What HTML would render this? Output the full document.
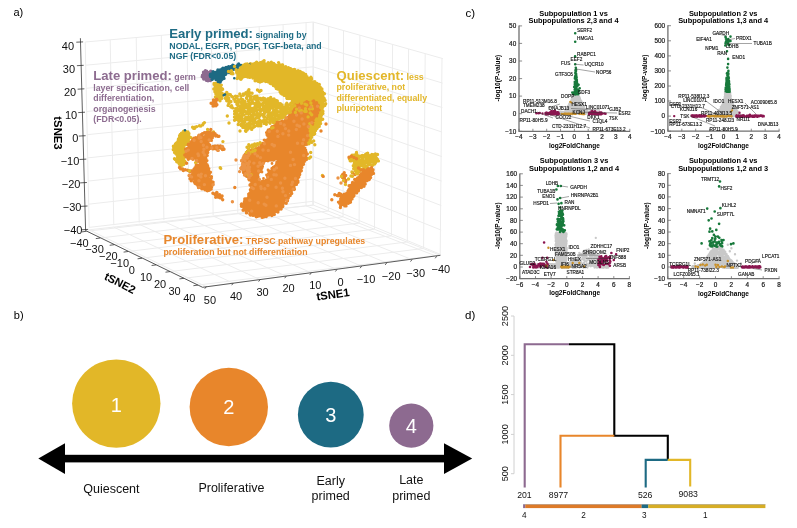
<!DOCTYPE html>
<html><head><meta charset="utf-8"><title>Figure</title><style>html,body{margin:0;padding:0;background:#fff;}body{width:797px;height:528px;overflow:hidden;font-family:"Liberation Sans",sans-serif;}svg{display:block;will-change:transform;}</style></head><body><svg width="797" height="528" viewBox="0 0 797 528" font-family="'Liberation Sans', sans-serif"><text x="13.5" y="16.3" font-size="11.00" fill="#000" text-anchor="start" font-weight="normal">a)</text>
<g>
<line x1="85.2" y1="42.0" x2="89.2" y2="227.7" stroke="#ececec" stroke-width="1.00"/>
<line x1="110.2" y1="39.8" x2="113.8" y2="225.2" stroke="#ececec" stroke-width="1.00"/>
<line x1="136.2" y1="37.5" x2="139.2" y2="222.6" stroke="#ececec" stroke-width="1.00"/>
<line x1="161.3" y1="35.3" x2="163.9" y2="220.1" stroke="#ececec" stroke-width="1.00"/>
<line x1="187.0" y1="33.1" x2="189.1" y2="217.6" stroke="#ececec" stroke-width="1.00"/>
<line x1="211.4" y1="30.9" x2="213.1" y2="215.1" stroke="#ececec" stroke-width="1.00"/>
<line x1="236.6" y1="28.7" x2="237.8" y2="212.6" stroke="#ececec" stroke-width="1.00"/>
<line x1="259.2" y1="26.7" x2="260.0" y2="210.4" stroke="#ececec" stroke-width="1.00"/>
<line x1="283.1" y1="24.6" x2="283.5" y2="208.0" stroke="#ececec" stroke-width="1.00"/>
<line x1="306.1" y1="22.6" x2="306.0" y2="205.7" stroke="#ececec" stroke-width="1.00"/>
<line x1="313.0" y1="22.0" x2="312.8" y2="205.0" stroke="#ececec" stroke-width="1.00"/>
<line x1="85.2" y1="42.0" x2="313.2" y2="22.0" stroke="#ececec" stroke-width="1.00"/>
<line x1="85.7" y1="65.2" x2="313.2" y2="44.4" stroke="#ececec" stroke-width="1.00"/>
<line x1="86.2" y1="88.3" x2="313.1" y2="66.8" stroke="#ececec" stroke-width="1.00"/>
<line x1="86.7" y1="111.5" x2="313.1" y2="89.2" stroke="#ececec" stroke-width="1.00"/>
<line x1="87.2" y1="134.7" x2="313.1" y2="111.7" stroke="#ececec" stroke-width="1.00"/>
<line x1="87.6" y1="157.9" x2="313.1" y2="134.1" stroke="#ececec" stroke-width="1.00"/>
<line x1="88.1" y1="181.1" x2="313.1" y2="156.5" stroke="#ececec" stroke-width="1.00"/>
<line x1="88.6" y1="204.2" x2="313.0" y2="178.9" stroke="#ececec" stroke-width="1.00"/>
<line x1="89.1" y1="227.4" x2="313.0" y2="201.3" stroke="#ececec" stroke-width="1.00"/>
<line x1="313.5" y1="22.1" x2="313.3" y2="205.2" stroke="#ececec" stroke-width="1.00"/>
<line x1="328.7" y1="26.4" x2="328.3" y2="211.1" stroke="#ececec" stroke-width="1.00"/>
<line x1="343.5" y1="30.6" x2="343.0" y2="216.8" stroke="#ececec" stroke-width="1.00"/>
<line x1="359.9" y1="35.2" x2="359.1" y2="223.1" stroke="#ececec" stroke-width="1.00"/>
<line x1="375.5" y1="39.6" x2="374.5" y2="229.1" stroke="#ececec" stroke-width="1.00"/>
<line x1="392.6" y1="44.4" x2="391.4" y2="235.7" stroke="#ececec" stroke-width="1.00"/>
<line x1="408.6" y1="49.0" x2="407.3" y2="241.8" stroke="#ececec" stroke-width="1.00"/>
<line x1="425.2" y1="53.6" x2="423.6" y2="248.2" stroke="#ececec" stroke-width="1.00"/>
<line x1="442.0" y1="58.4" x2="440.2" y2="254.7" stroke="#ececec" stroke-width="1.00"/>
<line x1="313.2" y1="22.0" x2="442.8" y2="58.6" stroke="#ececec" stroke-width="1.00"/>
<line x1="313.2" y1="44.4" x2="442.6" y2="83.1" stroke="#ececec" stroke-width="1.00"/>
<line x1="313.1" y1="66.8" x2="442.4" y2="107.6" stroke="#ececec" stroke-width="1.00"/>
<line x1="313.1" y1="89.2" x2="442.1" y2="132.1" stroke="#ececec" stroke-width="1.00"/>
<line x1="313.1" y1="111.7" x2="441.9" y2="156.6" stroke="#ececec" stroke-width="1.00"/>
<line x1="313.1" y1="134.1" x2="441.7" y2="181.1" stroke="#ececec" stroke-width="1.00"/>
<line x1="313.1" y1="156.5" x2="441.4" y2="205.6" stroke="#ececec" stroke-width="1.00"/>
<line x1="313.0" y1="178.9" x2="441.2" y2="230.1" stroke="#ececec" stroke-width="1.00"/>
<line x1="313.0" y1="201.3" x2="441.0" y2="254.6" stroke="#ececec" stroke-width="1.00"/>
<line x1="86.3" y1="231.3" x2="313.3" y2="205.1" stroke="#ececec" stroke-width="1.00"/>
<line x1="100.2" y1="238.0" x2="328.2" y2="211.0" stroke="#ececec" stroke-width="1.00"/>
<line x1="114.2" y1="244.7" x2="342.8" y2="216.8" stroke="#ececec" stroke-width="1.00"/>
<line x1="128.1" y1="251.5" x2="358.9" y2="223.1" stroke="#ececec" stroke-width="1.00"/>
<line x1="142.1" y1="258.2" x2="374.2" y2="229.2" stroke="#ececec" stroke-width="1.00"/>
<line x1="156.1" y1="264.9" x2="391.0" y2="235.8" stroke="#ececec" stroke-width="1.00"/>
<line x1="170.0" y1="271.6" x2="406.8" y2="242.0" stroke="#ececec" stroke-width="1.00"/>
<line x1="183.9" y1="278.3" x2="423.1" y2="248.5" stroke="#ececec" stroke-width="1.00"/>
<line x1="197.9" y1="285.1" x2="439.6" y2="255.0" stroke="#ececec" stroke-width="1.00"/>
<line x1="89.1" y1="229.8" x2="313.0" y2="205.0" stroke="#ececec" stroke-width="1.00"/>
<line x1="202.6" y1="287.3" x2="440.4" y2="255.3" stroke="#ececec" stroke-width="1.00"/>
<line x1="85.6" y1="230.6" x2="202.6" y2="287.3" stroke="#ececec" stroke-width="1.00"/>
<line x1="313.0" y1="205.0" x2="440.4" y2="255.3" stroke="#ececec" stroke-width="1.00"/>
<line x1="436.7" y1="256.3" x2="306.0" y2="205.8" stroke="#ececec" stroke-width="1.00"/>
<line x1="412.0" y1="259.6" x2="283.5" y2="208.3" stroke="#ececec" stroke-width="1.00"/>
<line x1="386.7" y1="262.9" x2="260.0" y2="210.9" stroke="#ececec" stroke-width="1.00"/>
<line x1="361.6" y1="266.2" x2="237.7" y2="213.3" stroke="#ececec" stroke-width="1.00"/>
<line x1="336.9" y1="269.5" x2="213.1" y2="216.1" stroke="#ececec" stroke-width="1.00"/>
<line x1="311.3" y1="272.8" x2="189.0" y2="218.7" stroke="#ececec" stroke-width="1.00"/>
<line x1="286.2" y1="276.2" x2="163.9" y2="221.5" stroke="#ececec" stroke-width="1.00"/>
<line x1="260.1" y1="279.6" x2="139.2" y2="224.3" stroke="#ececec" stroke-width="1.00"/>
<line x1="233.2" y1="283.2" x2="113.7" y2="227.1" stroke="#ececec" stroke-width="1.00"/>
<line x1="206.3" y1="286.7" x2="89.1" y2="229.8" stroke="#ececec" stroke-width="1.00"/>
</g>
<g>
<path d="M264.1 60.8h0M256.6 62.3h0M261.6 62.4h0M262.5 62.0h0M271.3 62.2h0M278.6 62.6h0M250.4 63.7h0M252.3 64.1h0M253.5 64.1h0M254.7 63.4h0M256.6 63.8h0M258.7 63.4h0M260.3 62.8h0M262.4 64.1h0M264.1 63.1h0M265.3 64.0h0M267.7 63.6h0M268.2 62.8h0M271.1 63.6h0M271.6 64.0h0M273.7 63.5h0M244.6 65.5h0M246.2 65.4h0M248.0 65.4h0M249.4 65.5h0M250.3 64.4h0M252.1 65.4h0M254.6 64.9h0M256.5 65.3h0M257.1 65.3h0M258.9 64.6h0M261.8 64.9h0M262.8 65.2h0M264.0 64.4h0M266.6 64.7h0M267.6 65.2h0M269.9 64.6h0M270.8 65.5h0M273.7 65.5h0M275.4 64.9h0M276.0 65.6h0M278.2 65.6h0M280.3 64.9h0M282.1 64.9h0M282.6 64.9h0M243.6 66.3h0M244.8 65.8h0M247.4 65.9h0M248.0 66.1h0M250.0 66.3h0M251.1 65.8h0M254.1 66.4h0M255.8 66.9h0M257.6 66.1h0M258.9 67.0h0M260.5 66.8h0M262.4 66.0h0M263.9 66.1h0M265.7 65.9h0M267.1 66.5h0M268.1 66.1h0M271.1 66.6h0M271.8 67.1h0M273.6 65.7h0M275.3 66.7h0M276.9 65.8h0M278.6 66.8h0M280.7 66.0h0M283.8 67.0h0M285.7 66.6h0M242.3 67.5h0M243.7 68.3h0M246.3 68.3h0M247.4 68.3h0M248.8 68.2h0M251.0 67.7h0M253.2 68.6h0M254.3 68.2h0M255.7 67.8h0M258.2 68.1h0M259.9 67.6h0M260.7 67.5h0M262.4 68.4h0M265.2 67.9h0M266.7 68.1h0M268.4 68.4h0M269.0 67.6h0M271.5 68.5h0M273.6 67.8h0M274.2 68.0h0M276.1 67.7h0M278.3 68.1h0M279.2 67.7h0M281.1 68.3h0M282.6 67.3h0M284.4 67.4h0M286.5 67.6h0M288.4 67.7h0M290.6 68.6h0M241.5 69.6h0M243.5 69.4h0M245.4 69.8h0M246.1 68.9h0M247.8 69.3h0M249.5 69.7h0M251.8 68.7h0M253.0 69.9h0M255.5 69.8h0M257.5 70.0h0M259.0 70.0h0M259.8 69.9h0M262.4 68.9h0M263.4 69.4h0M264.8 68.9h0M267.7 68.9h0M268.3 69.4h0M270.6 69.5h0M271.6 70.1h0M273.6 70.1h0M275.4 69.7h0M276.7 69.8h0M279.2 70.1h0M280.0 68.7h0M282.6 69.3h0M283.7 69.6h0M285.1 69.2h0M287.6 69.5h0M289.4 69.3h0M290.4 68.8h0M293.1 69.8h0M294.5 69.5h0M242.2 71.4h0M243.8 71.4h0M246.5 70.8h0M247.8 71.4h0M249.0 70.4h0M250.4 71.4h0M253.3 70.6h0M253.7 70.2h0M256.4 70.2h0M257.6 71.3h0M260.0 71.4h0M260.6 70.4h0M263.3 71.0h0M264.7 70.6h0M265.8 70.6h0M267.3 70.5h0M269.4 71.5h0M271.8 71.0h0M273.4 70.6h0M274.8 70.5h0M276.0 70.2h0M278.5 71.5h0M280.3 70.4h0M281.3 71.3h0M282.9 71.1h0M284.4 71.0h0M287.1 71.0h0M288.2 70.7h0M289.4 70.4h0M292.3 70.9h0M293.4 70.9h0M295.5 71.1h0M297.3 71.1h0M298.1 70.8h0M300.2 71.4h0M240.2 72.8h0M241.8 72.3h0M243.2 72.7h0M245.2 72.0h0M246.6 72.6h0M248.0 72.5h0M250.8 71.7h0M251.3 72.7h0M253.6 72.4h0M255.2 72.5h0M257.5 71.9h0M258.4 72.7h0M259.7 72.0h0M261.3 72.2h0M263.4 71.9h0M266.0 72.4h0M266.7 71.8h0M269.2 72.5h0M271.1 72.1h0M272.6 72.8h0M273.4 72.8h0M276.1 72.0h0M276.9 71.6h0M278.7 72.0h0M280.9 72.6h0M283.0 72.8h0M284.5 71.8h0M286.0 71.7h0M287.2 71.8h0M288.8 72.7h0M291.3 71.9h0M292.8 72.7h0M294.8 71.9h0M296.0 72.7h0M297.4 72.0h0M302.1 72.8h0M238.0 74.0h0M238.8 73.6h0M241.1 73.2h0M243.0 73.9h0M243.7 74.4h0M246.1 74.2h0M247.7 74.1h0M249.5 73.4h0M250.4 73.4h0M253.0 74.4h0M254.8 73.9h0M255.8 73.7h0M258.4 73.2h0M258.8 73.3h0M261.1 73.1h0M263.0 74.4h0M264.0 74.0h0M265.8 73.1h0M268.6 73.2h0M269.1 73.1h0M270.9 73.2h0M273.3 74.3h0M275.0 73.8h0M276.1 74.5h0M278.4 74.3h0M279.6 74.1h0M280.9 73.6h0M283.2 74.1h0M285.2 74.0h0M286.5 74.2h0M288.1 73.2h0M290.3 74.3h0M292.2 74.0h0M293.3 74.4h0M295.7 74.2h0M296.2 73.5h0M299.1 73.2h0M300.7 74.3h0M303.4 73.2h0M305.7 74.4h0M238.9 75.8h0M240.0 75.0h0M242.0 75.7h0M243.0 74.6h0M244.4 75.4h0M246.6 75.9h0M248.3 74.8h0M249.8 75.4h0M251.7 75.2h0M254.2 76.0h0M255.0 75.9h0M257.4 74.7h0M259.3 74.7h0M260.7 75.9h0M262.4 74.7h0M263.4 74.8h0M264.9 75.5h0M267.4 74.9h0M269.4 75.8h0M270.0 75.2h0M272.4 75.2h0M274.4 75.3h0M275.0 75.6h0M276.8 75.8h0M278.7 75.8h0M280.2 75.3h0M283.1 74.7h0M284.3 74.9h0M285.4 75.1h0M288.2 75.9h0M288.6 75.6h0M291.6 74.6h0M291.9 75.8h0M293.9 75.2h0M295.5 74.8h0M298.0 74.9h0M299.4 75.0h0M301.3 75.6h0M302.2 75.6h0M304.8 74.7h0M237.8 76.1h0M239.3 76.3h0M240.8 77.1h0M243.0 77.1h0M244.2 76.5h0M245.7 76.3h0M247.7 77.1h0M249.7 77.4h0M251.0 76.6h0M253.0 76.5h0M255.0 77.2h0M256.5 77.3h0M258.4 76.4h0M259.6 76.6h0M261.2 76.1h0M263.5 77.2h0M265.1 77.3h0M266.4 76.4h0M268.5 76.9h0M269.7 76.7h0M271.6 76.2h0M273.7 76.8h0M274.3 76.2h0M276.2 76.6h0M278.2 77.2h0M279.9 77.0h0M281.6 76.9h0M283.0 76.4h0M285.1 76.1h0M287.2 76.4h0M289.0 76.5h0M289.6 76.2h0M291.6 76.7h0M292.9 76.4h0M294.9 76.6h0M297.0 77.3h0M298.9 77.1h0M300.6 77.1h0M301.3 77.1h0M303.6 77.4h0M305.9 76.9h0M307.0 76.7h0M310.9 77.3h0M237.1 78.5h0M237.6 78.1h0M240.4 78.9h0M241.5 78.4h0M252.9 78.1h0M254.9 78.5h0M257.0 78.5h0M258.6 78.3h0M261.0 78.4h0M261.5 77.8h0M263.2 78.3h0M265.6 78.7h0M266.9 78.5h0M268.3 77.9h0M270.3 78.2h0M271.6 78.8h0M274.1 77.9h0M276.2 78.7h0M277.0 78.4h0M279.0 78.9h0M280.3 78.0h0M282.4 78.7h0M283.7 78.9h0M285.9 77.7h0M286.9 77.7h0M289.0 77.9h0M290.2 78.5h0M292.1 78.5h0M293.8 78.2h0M296.4 77.8h0M298.3 77.8h0M299.4 77.9h0M300.8 78.8h0M302.6 77.9h0M304.0 78.3h0M305.9 78.6h0M307.6 78.1h0M309.1 78.7h0M311.4 78.1h0M240.9 79.3h0M257.4 79.2h0M259.7 80.1h0M261.3 79.7h0M262.9 80.3h0M264.9 79.1h0M266.3 80.4h0M268.0 79.4h0M269.2 79.5h0M271.6 80.0h0M273.0 80.3h0M274.5 80.3h0M276.9 79.8h0M277.7 80.0h0M280.3 79.2h0M281.4 79.3h0M283.5 79.7h0M284.7 79.7h0M286.0 80.4h0M287.8 80.0h0M290.0 79.6h0M291.8 79.0h0M294.1 79.9h0M294.8 79.2h0M296.6 79.3h0M299.0 80.3h0M300.6 79.5h0M302.4 79.5h0M304.1 79.4h0M305.4 79.9h0M307.7 79.7h0M308.3 79.4h0M310.0 79.6h0M311.6 79.1h0M255.1 80.7h0M258.0 81.2h0M260.3 81.3h0M262.0 81.3h0M263.6 80.6h0M265.7 81.6h0M267.8 81.5h0M268.3 81.9h0M270.9 80.7h0M272.0 80.5h0M273.5 80.9h0M275.8 81.7h0M277.9 81.7h0M279.4 81.5h0M280.2 81.0h0M281.8 81.4h0M284.2 81.6h0M285.5 80.8h0M288.0 81.3h0M289.6 80.8h0M290.6 81.5h0M292.7 81.5h0M294.9 80.5h0M296.5 81.6h0M297.3 81.7h0M298.9 81.7h0M301.6 81.4h0M303.4 81.3h0M304.0 81.0h0M306.0 80.5h0M307.7 80.5h0M309.1 81.4h0M311.0 81.2h0M313.6 81.9h0M314.8 81.6h0M260.0 82.1h0M270.1 83.2h0M271.4 83.2h0M273.6 82.3h0M274.6 82.9h0M275.8 82.6h0M278.1 82.8h0M279.8 82.0h0M280.9 82.8h0M283.0 82.1h0M284.4 83.1h0M286.7 82.8h0M288.1 83.0h0M290.3 83.1h0M292.4 82.6h0M293.5 83.3h0M295.4 83.1h0M297.5 82.3h0M298.0 82.1h0M300.3 82.2h0M301.5 83.0h0M303.2 82.0h0M305.3 82.9h0M307.5 82.6h0M309.1 82.1h0M310.3 83.2h0M312.7 83.3h0M313.5 82.3h0M315.1 83.0h0M317.0 83.4h0M270.5 83.6h0M272.0 83.8h0M274.4 84.5h0M275.0 83.5h0M277.2 84.2h0M279.2 84.2h0M281.0 84.8h0M282.1 84.1h0M283.9 84.0h0M285.1 84.3h0M287.2 84.3h0M288.7 84.6h0M291.5 83.5h0M292.7 83.9h0M293.6 84.5h0M296.7 83.8h0M298.0 84.0h0M299.6 84.4h0M301.3 84.2h0M303.4 84.1h0M304.5 84.1h0M306.2 84.2h0M308.3 83.8h0M309.8 84.6h0M311.8 83.5h0M312.5 83.7h0M314.1 84.0h0M315.8 84.0h0M319.3 84.4h0M273.4 85.5h0M275.0 85.7h0M276.1 85.1h0M277.6 85.1h0M280.1 85.9h0M280.9 85.9h0M283.7 86.2h0M284.7 85.7h0M286.3 85.4h0M288.9 85.7h0M289.8 86.2h0M292.2 85.3h0M293.3 85.6h0M295.3 85.5h0M296.9 85.0h0M298.6 85.5h0M300.7 85.4h0M302.4 85.8h0M304.2 85.0h0M305.5 85.0h0M306.6 86.2h0M309.2 85.6h0M310.0 86.1h0M312.7 85.2h0M314.5 85.5h0M315.2 86.2h0M317.5 85.0h0M318.7 85.3h0M275.7 86.9h0M277.5 86.7h0M279.5 87.6h0M280.2 86.6h0M282.5 86.6h0M283.6 87.2h0M285.7 86.7h0M287.1 87.6h0M289.8 87.1h0M291.0 87.4h0M292.3 86.5h0M294.3 86.8h0M295.6 87.3h0M298.0 86.5h0M298.8 87.3h0M301.5 86.9h0M302.1 87.7h0M304.4 86.5h0M305.7 86.9h0M307.5 86.7h0M310.0 87.1h0M311.7 87.7h0M313.2 87.6h0M314.1 87.4h0M316.6 87.5h0M318.6 87.7h0M320.2 87.2h0M276.3 88.6h0M277.7 89.1h0M279.9 87.9h0M282.0 88.3h0M282.7 88.7h0M285.6 89.2h0M286.1 88.8h0M288.6 88.8h0M290.1 88.8h0M292.4 88.0h0M293.7 88.7h0M295.5 89.0h0M296.6 88.1h0M298.7 88.7h0M300.1 88.9h0M301.7 88.7h0M304.3 88.8h0M306.0 88.9h0M306.7 88.1h0M308.5 88.1h0M311.0 88.1h0M311.5 88.3h0M314.5 89.2h0M315.1 88.4h0M316.7 88.3h0M318.6 88.2h0M320.6 89.1h0M321.9 89.0h0M279.5 89.6h0M281.0 90.2h0M282.9 89.8h0M283.7 89.5h0M285.6 90.4h0M288.0 89.8h0M288.9 89.5h0M291.0 90.5h0M292.2 90.3h0M294.1 90.2h0M296.5 90.5h0M297.0 90.5h0M298.8 90.3h0M301.2 89.9h0M303.3 90.8h0M305.1 89.8h0M305.7 90.0h0M308.2 90.0h0M309.3 89.7h0M311.3 90.0h0M312.7 90.2h0M315.4 90.4h0M316.7 89.5h0M317.4 90.6h0M319.6 89.6h0M280.1 91.8h0M281.0 92.1h0M283.9 91.2h0M285.4 92.0h0M286.1 92.2h0M287.7 90.9h0M290.3 92.2h0M292.3 91.2h0M292.9 92.2h0M294.7 92.0h0M297.3 92.1h0M297.9 92.1h0M300.4 91.7h0M301.4 90.9h0M303.0 91.9h0M305.8 92.0h0M306.6 91.5h0M309.4 91.6h0M310.9 92.0h0M312.0 91.3h0M314.5 91.9h0M315.0 91.0h0M317.2 91.4h0M319.2 92.1h0M321.1 91.9h0M322.6 92.0h0M280.9 93.2h0M282.5 93.3h0M283.4 92.8h0M285.3 93.0h0M287.9 92.6h0M288.9 92.9h0M290.3 93.6h0M293.1 92.4h0M294.7 93.3h0M295.3 92.6h0M297.8 93.3h0M298.9 92.5h0M301.2 92.7h0M302.1 93.5h0M304.8 92.5h0M305.9 92.9h0M308.3 92.7h0M310.0 92.7h0M311.1 93.2h0M313.5 92.4h0M314.0 93.0h0M316.3 93.3h0M317.6 92.7h0M319.3 92.4h0M321.6 92.4h0M324.4 93.7h0M282.0 94.1h0M283.9 94.3h0M284.7 94.8h0M287.1 93.8h0M288.0 94.5h0M289.7 94.0h0M291.3 94.0h0M292.8 94.1h0M295.3 94.5h0M297.4 95.2h0M299.2 94.4h0M299.6 94.2h0M302.6 95.0h0M304.1 94.7h0M304.8 94.2h0M307.6 95.2h0M308.2 95.1h0M310.1 94.1h0M312.2 94.8h0M313.8 94.8h0M314.9 94.5h0M316.8 95.2h0M318.6 94.4h0M321.3 95.1h0M322.7 94.3h0M323.7 94.1h0M284.2 95.4h0M286.1 95.8h0M287.9 95.4h0M288.8 96.3h0M290.3 96.2h0M292.1 95.6h0M293.9 95.7h0M296.0 96.3h0M297.4 96.2h0M299.6 96.6h0M300.8 95.5h0M303.2 96.5h0M304.2 95.7h0M305.6 96.1h0M307.4 96.6h0M309.5 95.6h0M311.1 96.3h0M313.4 95.4h0M314.4 96.2h0M316.1 96.0h0M318.0 96.6h0M320.0 95.4h0M320.9 96.7h0M322.7 95.9h0M286.8 98.0h0M290.4 97.9h0M292.0 97.3h0M293.2 97.9h0M295.6 98.0h0M297.2 97.7h0M297.9 98.0h0M300.6 97.9h0M301.5 97.3h0M303.0 97.9h0M304.7 96.9h0M306.9 97.9h0M308.5 97.7h0M310.8 97.2h0M312.3 96.9h0M313.8 97.4h0M315.8 97.1h0M317.5 96.9h0M318.3 97.6h0M320.1 97.5h0M322.8 97.3h0M323.7 98.0h0M287.1 98.5h0M288.9 98.5h0M290.3 98.5h0M292.6 98.9h0M294.3 99.6h0M295.5 98.5h0M298.0 99.6h0M299.2 99.2h0M300.6 99.5h0M303.1 98.8h0M305.1 98.8h0M306.4 99.3h0M307.4 98.8h0M309.8 98.7h0M311.4 98.8h0M313.4 98.3h0M314.7 98.9h0M316.4 99.6h0M318.1 98.7h0M319.5 98.8h0M321.3 99.5h0M323.7 98.5h0M324.2 98.5h0M292.4 101.1h0M293.6 100.2h0M295.6 100.8h0M297.5 100.7h0M298.7 100.0h0M300.2 100.1h0M302.3 99.9h0M303.8 101.0h0M304.8 100.8h0M306.7 99.9h0M308.4 100.8h0M309.9 100.4h0M311.8 100.3h0M314.5 101.1h0M315.9 100.4h0M317.1 101.1h0M318.5 100.7h0M321.3 100.5h0M322.2 100.1h0M323.4 100.4h0M325.1 100.4h0M293.6 102.0h0M296.0 101.4h0M298.3 102.6h0M299.7 101.2h0M300.8 102.0h0M302.7 102.5h0M304.1 101.5h0M305.6 102.5h0M307.7 102.6h0M309.9 101.3h0M311.6 101.6h0M312.8 102.1h0M314.9 102.1h0M316.7 102.0h0M317.6 101.4h0M319.9 102.3h0M321.6 101.8h0M322.5 101.3h0M292.9 103.4h0M295.4 103.7h0M297.2 103.8h0M298.3 102.8h0M300.5 103.2h0M301.6 104.1h0M304.0 103.9h0M304.9 103.9h0M307.3 102.7h0M308.5 103.9h0M310.9 103.9h0M312.8 103.6h0M313.9 103.4h0M315.4 103.4h0M317.3 103.4h0M319.2 103.0h0M320.9 103.8h0M322.0 104.0h0M323.9 103.7h0M325.7 103.7h0M294.5 105.0h0M295.5 104.5h0M298.3 104.3h0M299.0 105.4h0M300.5 105.3h0M302.5 105.3h0M304.3 104.5h0M306.6 105.3h0M307.3 104.5h0M309.5 105.6h0M310.6 104.3h0M312.8 104.8h0M314.7 105.5h0M316.4 104.9h0M318.6 104.7h0M320.0 105.0h0M321.3 104.3h0M323.2 104.6h0M324.8 105.5h0M295.7 106.9h0M297.5 106.3h0M299.0 106.7h0M299.7 106.9h0M301.5 106.6h0M304.1 106.3h0M305.7 106.8h0M307.3 106.2h0M308.6 106.4h0M309.8 106.7h0M311.7 106.1h0M314.1 106.2h0M315.5 106.4h0M316.8 106.7h0M318.6 106.5h0M320.5 106.5h0M322.8 106.0h0M294.2 108.2h0M295.9 108.4h0M297.9 107.9h0M299.5 108.3h0M300.9 108.4h0M303.0 108.3h0M304.0 107.5h0M306.4 108.0h0M307.2 107.7h0M309.1 108.1h0M311.7 107.6h0M313.3 107.2h0M314.0 108.1h0M316.4 107.7h0M318.1 107.5h0M319.4 108.5h0M321.7 108.3h0M322.7 107.2h0M295.4 109.7h0M296.3 109.8h0M298.1 109.3h0M299.7 109.5h0M302.2 108.7h0M304.3 109.2h0M305.7 109.5h0M307.1 109.3h0M309.1 110.0h0M310.9 108.9h0M312.6 109.8h0M314.3 109.3h0M316.0 109.8h0M316.8 108.8h0M318.4 108.8h0M320.3 109.8h0M322.0 109.2h0M294.3 110.6h0M296.1 111.5h0M297.5 110.1h0M299.9 111.1h0M301.6 110.9h0M302.5 111.0h0M304.6 110.6h0M306.5 111.2h0M307.4 110.9h0M309.0 111.3h0M311.0 111.4h0M313.1 110.6h0M315.1 110.9h0M316.5 111.4h0M318.8 110.1h0M320.5 111.0h0M321.7 110.8h0M322.9 111.3h0M294.6 112.0h0M296.4 111.7h0M299.1 111.8h0M300.5 111.7h0M302.2 112.8h0M303.4 111.9h0M305.6 112.7h0M306.9 112.0h0M309.1 111.9h0M310.6 112.2h0M312.7 112.9h0M313.5 111.9h0M315.6 112.6h0M317.2 112.1h0M319.5 112.1h0M321.2 112.5h0M322.4 112.0h0M296.4 113.7h0M297.8 114.0h0M299.5 113.3h0M301.3 113.2h0M302.4 114.2h0M304.9 114.1h0M305.8 114.0h0M308.3 113.8h0M310.3 113.6h0M310.6 113.8h0M313.4 113.5h0M315.1 113.7h0M316.8 113.3h0M318.3 114.1h0M319.7 114.1h0M321.6 114.1h0M322.9 113.5h0M297.5 115.0h0M299.2 115.8h0M300.3 115.8h0M302.3 115.4h0M304.3 114.7h0M305.6 115.1h0M306.4 115.8h0M309.2 114.9h0M309.8 115.2h0M312.0 115.9h0M314.5 114.6h0M314.9 115.8h0M317.4 115.7h0M318.6 114.6h0M321.3 115.6h0M299.9 116.3h0M301.4 117.1h0M303.2 117.2h0M304.0 116.8h0M305.7 116.1h0M307.3 117.1h0M310.2 116.9h0M311.4 116.6h0M312.5 116.3h0M314.8 116.5h0M316.7 116.5h0M318.7 116.5h0M320.0 116.9h0M320.8 116.2h0M296.5 117.6h0M297.9 118.3h0M300.9 117.8h0M302.1 118.4h0M303.1 117.7h0M305.4 118.1h0M307.0 117.5h0M308.1 117.9h0M309.9 117.9h0M312.4 117.6h0M313.4 118.4h0M315.0 117.7h0M317.3 118.3h0M319.4 117.6h0M321.2 118.6h0M298.2 119.2h0M299.2 120.4h0M300.5 119.1h0M302.5 119.6h0M305.1 120.1h0M306.3 119.4h0M308.5 120.0h0M309.4 119.1h0M312.0 120.1h0M312.3 119.3h0M314.7 119.4h0M316.1 120.0h0M318.4 119.6h0M319.8 119.8h0M322.7 119.3h0M299.0 121.6h0M299.8 120.4h0M301.3 121.0h0M303.8 121.8h0M304.8 120.8h0M307.7 120.9h0M308.6 121.4h0M310.9 120.7h0M312.7 120.6h0M314.1 121.0h0M315.5 121.1h0M317.4 121.0h0M319.5 121.8h0M320.4 120.8h0M297.6 123.0h0M299.5 123.3h0M300.5 123.0h0M302.6 122.4h0M304.0 123.3h0M306.5 122.6h0M308.2 122.9h0M309.3 123.1h0M311.4 122.0h0M312.7 122.1h0M314.9 122.2h0M316.9 122.8h0M317.8 122.1h0M320.0 123.2h0M298.2 124.2h0M299.6 123.5h0M302.3 123.7h0M303.7 123.9h0M305.4 124.6h0M307.4 124.2h0M309.4 124.5h0M310.5 124.0h0M312.4 124.1h0M314.1 124.4h0M315.2 124.3h0M317.9 124.0h0M319.0 123.8h0M320.6 123.5h0M300.5 125.4h0M302.5 125.9h0M305.2 126.1h0M305.6 125.5h0M307.6 126.3h0M309.8 125.0h0M310.9 126.1h0M312.4 125.0h0M314.5 125.9h0M316.4 125.6h0M317.9 126.0h0M319.3 125.0h0M298.2 126.7h0M300.8 127.1h0M301.9 127.1h0M303.6 126.4h0M304.9 127.2h0M307.4 126.5h0M309.0 127.2h0M310.4 127.5h0M311.5 126.5h0M314.1 127.6h0M315.8 127.5h0M317.0 126.6h0M319.2 126.4h0M299.7 128.6h0M300.8 128.1h0M303.4 129.2h0M304.5 128.0h0M306.8 128.9h0M307.6 129.1h0M309.0 129.2h0M311.1 128.4h0M313.6 128.3h0M315.1 128.7h0M317.0 128.3h0M300.4 129.7h0M302.1 130.2h0M303.1 129.8h0M304.8 130.4h0M306.9 129.8h0M308.2 130.3h0M311.1 130.7h0M311.5 129.5h0M314.4 130.2h0M315.1 130.1h0M299.4 130.9h0M303.0 131.4h0M304.6 132.1h0M306.1 131.8h0M308.2 132.1h0M309.0 130.9h0M311.8 132.0h0M313.0 132.0h0M314.5 131.5h0M299.0 132.4h0M302.3 133.1h0M303.0 133.2h0M305.7 132.7h0M306.5 133.0h0M308.9 132.6h0M310.3 133.5h0M311.8 133.0h0M313.3 133.0h0M303.2 134.8h0M303.9 134.4h0M306.1 134.5h0M308.4 134.1h0M310.1 135.0h0M311.1 135.0h0M312.7 133.8h0M314.7 133.8h0M301.7 135.3h0M304.0 136.5h0M304.9 136.6h0M307.1 135.3h0M308.3 136.1h0M311.1 136.3h0M311.8 135.3h0M301.6 138.0h0M302.4 136.9h0M305.1 137.5h0M306.1 137.6h0M307.4 137.8h0M309.3 137.4h0M311.5 137.3h0M303.5 138.4h0M304.7 139.0h0M307.6 138.2h0M308.9 138.9h0M310.5 138.7h0M302.1 140.6h0M304.3 141.1h0M306.7 139.9h0M307.8 140.0h0M309.3 139.8h0M305.3 141.7h0M307.7 142.5h0M308.9 142.4h0M309.9 141.4h0M311.5 142.0h0M304.2 142.6h0M305.0 144.5h0" stroke="#E2B728" stroke-width="3.40" stroke-linecap="round" fill="none"/>
<path d="M248.1 91.0h0M248.9 89.8h0M226.7 92.5h0M226.9 92.6h0M245.9 92.6h0M248.0 92.6h0M250.5 93.0h0M223.9 94.3h0M226.8 94.6h0M229.2 94.4h0M239.8 93.9h0M243.3 94.0h0M244.8 94.1h0M247.4 94.6h0M249.2 93.0h0M252.1 93.2h0M225.9 95.1h0M227.1 96.4h0M230.4 94.8h0M231.8 96.4h0M235.5 96.1h0M237.3 96.4h0M240.9 96.2h0M243.3 95.2h0M247.5 95.4h0M249.0 95.6h0M254.4 96.6h0M255.3 96.4h0M225.2 98.3h0M228.4 97.6h0M232.6 96.9h0M236.4 97.5h0M246.6 97.6h0M250.2 97.5h0M251.3 96.8h0M255.1 96.5h0M257.0 96.3h0M258.1 98.1h0M263.1 98.2h0M270.7 97.5h0M227.0 99.7h0M228.8 99.1h0M233.9 99.3h0M234.5 99.4h0M238.1 99.6h0M241.3 99.2h0M242.8 99.8h0M246.6 98.2h0M250.0 99.9h0M251.9 99.4h0M254.1 98.9h0M257.0 98.2h0M258.0 99.4h0M260.4 98.4h0M263.4 98.3h0M264.9 98.8h0M268.2 98.8h0M269.4 99.9h0M271.5 99.2h0M274.0 99.0h0M226.7 100.7h0M229.5 101.5h0M230.7 101.4h0M235.3 101.3h0M238.3 101.1h0M239.2 100.0h0M242.4 100.3h0M243.1 100.8h0M245.0 101.5h0M248.5 100.9h0M256.2 100.3h0M256.6 100.6h0M258.1 100.8h0M261.4 100.1h0M263.6 100.3h0M265.6 100.3h0M269.4 100.0h0M269.7 100.9h0M271.8 100.8h0M273.5 101.1h0M276.0 100.5h0M277.3 101.0h0M229.2 101.7h0M230.9 101.7h0M235.1 101.5h0M237.6 102.3h0M240.7 102.4h0M242.5 102.4h0M243.9 101.5h0M248.8 102.8h0M251.2 103.1h0M252.3 101.5h0M256.2 103.1h0M258.2 102.8h0M259.1 102.7h0M263.2 103.1h0M265.0 102.4h0M267.0 101.3h0M269.2 102.0h0M271.8 102.4h0M274.1 101.7h0M275.6 102.0h0M277.3 101.9h0M278.1 102.9h0M286.8 103.2h0M290.9 103.1h0M228.8 103.5h0M236.9 104.2h0M237.7 103.3h0M241.7 102.9h0M244.0 102.9h0M246.0 104.0h0M249.3 104.0h0M252.0 103.2h0M254.3 103.5h0M255.0 104.6h0M257.8 103.5h0M260.0 104.8h0M261.4 104.2h0M262.6 104.3h0M264.9 103.2h0M266.2 103.6h0M268.6 103.7h0M271.1 103.9h0M271.8 103.1h0M273.3 103.7h0M276.1 104.1h0M278.6 104.2h0M280.4 103.6h0M280.9 104.8h0M286.0 104.4h0M289.7 104.7h0M228.1 105.4h0M231.6 105.7h0M237.8 105.6h0M238.5 105.4h0M241.0 105.7h0M243.2 106.0h0M244.7 105.9h0M246.9 105.7h0M249.4 105.9h0M250.0 104.8h0M256.0 104.6h0M258.9 105.9h0M262.0 105.1h0M263.9 106.4h0M266.0 104.6h0M267.8 105.4h0M269.8 105.1h0M272.1 104.8h0M273.9 106.4h0M275.2 105.2h0M278.1 106.3h0M279.3 106.3h0M280.5 105.2h0M282.1 105.0h0M285.7 106.2h0M287.1 105.9h0M288.0 105.2h0M290.7 105.0h0M293.2 106.1h0M230.9 107.1h0M237.2 108.1h0M240.6 107.7h0M242.4 106.9h0M243.4 107.8h0M245.1 107.8h0M249.9 107.1h0M254.3 107.6h0M255.0 107.6h0M256.9 106.7h0M259.6 107.0h0M263.4 107.5h0M264.2 107.5h0M266.4 108.0h0M268.2 107.5h0M270.4 107.8h0M272.3 106.7h0M274.0 106.6h0M276.5 106.8h0M279.0 107.0h0M280.9 107.6h0M281.2 107.1h0M283.0 107.1h0M286.0 107.7h0M287.3 106.3h0M288.7 108.1h0M291.1 107.3h0M232.8 107.9h0M235.7 108.6h0M237.8 109.6h0M239.2 108.8h0M244.0 109.2h0M247.1 107.9h0M250.0 109.2h0M252.3 108.5h0M253.7 109.6h0M256.3 109.5h0M259.0 109.5h0M260.7 109.1h0M264.5 109.8h0M266.5 107.8h0M267.5 108.0h0M270.1 108.3h0M272.9 108.4h0M276.0 109.5h0M276.2 108.6h0M278.3 107.9h0M280.1 108.0h0M283.0 109.1h0M284.9 108.1h0M285.6 109.7h0M288.4 108.4h0M291.0 109.5h0M235.7 111.4h0M238.3 110.7h0M241.2 110.3h0M242.9 111.0h0M245.1 111.4h0M248.1 110.7h0M249.3 109.9h0M251.2 111.3h0M253.8 110.3h0M256.6 111.1h0M263.0 110.0h0M267.1 110.0h0M269.6 110.0h0M273.3 111.5h0M273.7 109.8h0M277.1 111.4h0M277.2 111.3h0M280.9 109.8h0M281.2 110.5h0M283.9 111.4h0M286.1 110.7h0M287.2 110.4h0M290.4 111.0h0M234.6 111.3h0M236.4 111.9h0M241.2 111.4h0M241.9 112.2h0M248.5 112.3h0M249.7 112.5h0M252.4 111.5h0M254.0 111.3h0M257.0 112.2h0M260.6 111.4h0M264.3 111.8h0M265.7 111.7h0M267.9 112.4h0M269.9 113.0h0M271.7 112.9h0M272.3 112.6h0M275.0 111.6h0M276.4 111.5h0M279.5 111.6h0M280.7 111.4h0M281.8 112.0h0M285.7 112.9h0M287.3 113.0h0M288.5 112.6h0M234.6 113.9h0M237.2 113.4h0M240.6 113.2h0M242.9 113.0h0M243.0 114.1h0M246.7 113.5h0M248.7 114.3h0M250.9 114.6h0M253.6 112.9h0M256.7 114.8h0M259.3 114.0h0M261.6 114.6h0M262.4 114.7h0M264.3 113.8h0M269.2 114.3h0M271.4 114.1h0M271.7 114.6h0M274.5 112.9h0M275.5 112.9h0M277.3 114.4h0M280.9 113.2h0M282.4 113.5h0M283.3 114.2h0M285.5 114.2h0M237.4 115.5h0M238.3 115.2h0M241.1 116.1h0M242.3 115.6h0M243.9 114.9h0M252.5 115.1h0M255.3 114.9h0M258.1 115.0h0M259.8 116.1h0M264.4 116.4h0M267.8 115.5h0M268.8 114.8h0M270.6 116.4h0M273.3 114.9h0M275.0 115.3h0M277.1 115.3h0M278.8 114.9h0M281.4 115.1h0M282.4 114.7h0M284.9 114.8h0M234.5 117.1h0M236.8 116.5h0M237.4 117.2h0M239.5 116.4h0M241.7 117.0h0M246.0 117.1h0M248.5 117.2h0M250.7 117.3h0M252.8 116.7h0M257.0 117.7h0M258.6 117.9h0M263.8 116.8h0M268.0 116.4h0M270.2 117.0h0M272.0 117.1h0M274.6 118.0h0M276.1 116.1h0M277.7 116.4h0M280.0 117.0h0M282.3 117.9h0M284.4 116.7h0M235.7 119.6h0M236.6 118.2h0M238.6 119.1h0M240.3 117.9h0M241.9 119.1h0M245.0 118.4h0M246.6 118.4h0M248.0 118.4h0M250.7 118.2h0M252.9 119.3h0M255.9 118.3h0M266.4 119.6h0M267.0 117.9h0M270.3 119.7h0M272.3 118.3h0M274.2 118.5h0M275.8 119.4h0M277.1 119.6h0M279.7 118.1h0M234.6 120.3h0M238.2 119.9h0M241.3 119.9h0M244.3 121.2h0M245.0 120.2h0M247.7 119.8h0M250.3 120.7h0M252.0 119.4h0M254.3 120.7h0M254.6 120.3h0M259.9 120.3h0M263.8 119.9h0M264.2 119.6h0M269.6 119.4h0M272.0 119.9h0M274.2 120.2h0M277.2 120.3h0M238.8 121.5h0M241.7 121.4h0M242.9 123.0h0M244.7 121.5h0M249.3 123.0h0M249.9 122.9h0M253.0 121.3h0M253.5 121.8h0M256.1 122.2h0M257.9 121.6h0M260.6 122.4h0M261.7 121.4h0M263.6 122.1h0M265.3 121.9h0M267.2 122.0h0M270.4 121.3h0M271.3 121.1h0M273.3 122.0h0M274.9 121.3h0M241.0 124.4h0M242.8 123.6h0M244.6 124.5h0M247.0 124.0h0M249.3 124.6h0M251.9 124.0h0M254.3 122.9h0M257.3 123.9h0M258.1 123.1h0M260.7 124.2h0M264.0 123.4h0M266.3 124.2h0M270.1 123.3h0M238.2 124.5h0M241.2 125.5h0M242.7 125.4h0M245.1 125.3h0M250.3 125.0h0M253.6 124.8h0M257.1 125.6h0M258.2 125.9h0M260.8 125.9h0M242.9 127.4h0M243.1 126.2h0M245.4 127.6h0M247.7 126.8h0M250.5 127.3h0M253.5 127.3h0M254.7 126.4h0M245.6 128.1h0M247.0 128.5h0M248.3 128.7h0M251.7 129.4h0M245.5 130.7h0M247.1 130.0h0M245.8 131.4h0" stroke="#E2B728" stroke-width="3.40" stroke-linecap="round" fill="none"/>
<path d="M257.5 90.0h0M259.5 91.5h0M261.0 90.5h0M227.3 116.0h0M229.0 123.0h0M240.0 131.0h0" stroke="#E2B728" stroke-width="3.40" stroke-linecap="round" fill="none"/>
<path d="M214.1 83.5h0M216.1 83.1h0M216.9 84.2h0M214.1 84.4h0M216.0 85.3h0M218.7 84.5h0M221.3 85.1h0M215.2 86.8h0M217.4 87.0h0M218.7 86.3h0M220.4 86.7h0M215.1 87.6h0M216.6 87.2h0M218.3 88.1h0M220.1 87.3h0M222.1 88.6h0M213.8 89.0h0M215.4 89.8h0M217.3 88.9h0M219.4 89.6h0M221.2 89.4h0M222.6 89.3h0M216.4 90.4h0M218.3 91.2h0M220.2 91.0h0M214.9 91.8h0M216.7 91.9h0M218.5 92.8h0M220.1 92.7h0M221.7 93.0h0M215.8 93.8h0M218.5 93.4h0M220.5 94.0h0M220.9 94.1h0M217.8 94.6h0M218.7 94.9h0M220.1 95.5h0M221.9 96.0h0M215.4 96.9h0M216.5 96.6h0M217.5 96.9h0M219.4 96.6h0M221.3 96.2h0M216.2 98.6h0M217.7 97.9h0M218.8 98.4h0M221.0 97.8h0M221.7 98.4h0M218.4 99.1h0M219.4 99.6h0M220.0 100.8h0" stroke="#E2B728" stroke-width="3.40" stroke-linecap="round" fill="none"/>
<path d="M183.7 131.1h0M185.2 131.4h0M182.6 132.9h0M184.3 133.0h0M186.0 131.7h0M187.9 131.9h0M180.3 134.5h0M181.5 133.3h0M182.8 133.9h0M184.9 134.3h0M186.2 133.2h0M188.9 133.4h0M179.6 135.7h0M180.5 135.6h0M182.7 135.2h0M184.4 135.4h0M185.1 134.9h0M187.7 135.7h0M188.7 135.0h0M179.6 137.4h0M180.9 137.1h0M183.2 137.0h0M184.7 136.4h0M186.2 136.7h0M188.4 136.6h0M189.4 136.9h0M179.2 137.9h0M181.2 137.8h0M183.0 138.9h0M184.6 138.2h0M185.3 137.8h0M186.9 138.0h0M189.7 137.6h0M191.0 137.6h0M178.4 139.3h0M180.0 139.5h0M181.0 140.0h0M183.3 140.4h0M184.7 139.5h0M186.7 139.2h0M188.5 139.1h0M177.9 141.5h0M178.8 141.7h0M180.4 141.8h0M182.7 141.0h0M184.1 141.5h0M185.6 141.1h0M187.0 140.8h0M188.5 141.2h0M176.1 143.2h0M178.4 142.9h0M179.6 142.0h0M181.1 142.7h0M183.0 142.2h0M184.4 143.2h0M186.5 142.4h0M175.4 144.2h0M176.9 144.6h0M178.7 144.6h0M181.3 144.2h0M182.8 144.2h0M184.2 143.9h0M185.4 144.8h0M187.6 144.2h0M173.4 146.3h0M175.2 146.0h0M176.2 146.1h0M178.3 146.2h0M180.1 145.2h0M180.9 145.9h0M182.8 145.4h0M184.6 145.1h0M173.7 147.3h0M175.4 147.1h0M177.0 147.4h0M179.3 146.8h0M180.3 147.1h0M182.9 147.4h0M183.6 146.9h0M174.1 148.7h0M175.9 148.5h0M178.3 148.2h0M179.5 149.2h0M181.4 148.0h0M183.5 148.0h0M173.3 149.8h0M175.8 150.4h0M176.8 150.6h0M179.3 149.5h0M180.3 150.6h0M183.0 150.7h0M184.3 149.9h0M177.1 151.1h0M177.6 151.0h0M179.6 151.9h0M181.9 152.2h0M183.0 152.1h0M184.6 151.5h0M174.6 152.6h0M175.5 153.2h0M177.2 153.4h0M179.7 153.1h0M180.1 153.5h0M182.7 153.5h0M184.7 153.1h0M185.2 152.6h0M176.5 154.2h0M177.8 154.0h0M179.7 154.2h0M182.1 154.4h0M185.0 154.7h0M178.0 155.9h0M179.4 155.9h0M180.8 155.7h0M182.4 156.5h0M183.8 155.5h0M177.5 157.1h0M180.4 157.1h0M181.0 158.1h0M183.9 158.0h0M174.5 158.7h0M175.3 159.5h0M177.6 158.8h0M178.8 158.5h0M180.7 159.1h0M182.0 159.0h0M183.6 158.3h0M176.7 161.2h0M178.7 159.9h0M179.9 159.9h0M181.5 160.6h0M183.5 160.8h0M184.5 161.0h0M176.8 161.8h0M178.3 161.8h0M181.1 162.6h0M182.1 161.7h0M184.7 161.8h0M185.1 161.8h0M178.8 163.0h0M179.7 163.3h0M181.3 163.0h0M183.1 163.6h0M184.5 163.2h0M179.4 164.3h0M180.7 165.4h0M182.2 164.9h0M183.7 164.5h0M181.2 166.2h0" stroke="#E2B728" stroke-width="3.40" stroke-linecap="round" fill="none"/>
<path d="M204.4 122.6h0M203.7 123.2h0M199.5 125.7h0M202.6 124.9h0M192.6 127.3h0M195.1 127.1h0M196.7 126.6h0M200.8 126.1h0M193.5 128.3h0M194.7 128.3h0" stroke="#E2B728" stroke-width="3.40" stroke-linecap="round" fill="none"/>
<path d="M356.5 152.5h0M367.7 153.3h0M355.4 154.6h0M356.9 154.5h0M365.5 154.4h0M366.2 154.0h0M371.9 154.4h0M374.4 154.4h0M375.4 154.0h0M377.5 154.5h0M352.1 155.2h0M353.8 155.3h0M355.2 156.1h0M357.3 156.3h0M359.0 156.1h0M361.2 156.0h0M362.3 155.5h0M363.8 155.6h0M365.5 156.2h0M367.3 156.3h0M369.5 155.8h0M371.8 155.6h0M373.3 156.3h0M374.7 156.1h0M375.8 155.7h0M350.6 156.9h0M352.0 156.9h0M353.6 156.9h0M354.8 157.6h0M357.1 156.8h0M358.4 157.4h0M360.4 156.5h0M361.9 157.1h0M363.8 156.9h0M365.1 156.7h0M366.4 157.9h0M368.5 157.4h0M370.1 156.6h0M372.2 157.0h0M374.3 157.7h0M375.3 157.3h0M349.4 158.7h0M351.8 158.9h0M353.6 159.2h0M356.4 158.5h0M357.3 158.7h0M359.0 158.1h0M362.8 158.1h0M366.1 158.2h0M367.8 159.2h0M368.8 158.1h0M370.5 158.8h0M372.5 158.4h0M374.3 158.8h0M376.6 158.4h0M350.2 160.7h0M351.0 160.9h0M353.9 160.8h0M354.4 160.4h0M356.4 159.5h0M357.8 159.8h0M360.6 160.4h0M362.4 159.8h0M363.3 160.8h0M364.8 160.7h0M367.3 159.7h0M368.7 160.3h0M370.8 160.2h0M372.4 160.1h0M374.2 160.2h0M374.7 160.2h0M377.5 159.5h0M378.4 160.9h0M356.3 161.2h0M357.1 162.2h0M359.4 162.0h0M360.6 161.1h0M362.4 161.4h0M364.5 161.2h0M366.3 161.3h0M368.4 161.4h0M370.0 161.9h0M371.8 161.6h0M374.2 161.2h0M375.6 161.1h0M354.3 163.3h0M356.2 163.7h0M359.0 163.5h0M360.5 162.7h0M361.5 162.7h0M363.4 162.7h0M364.9 163.0h0M367.1 162.7h0M368.5 162.5h0M370.0 162.5h0M374.0 163.7h0M375.6 162.5h0M354.2 165.0h0M356.0 164.9h0M357.8 164.5h0M359.6 165.0h0M360.7 164.7h0M362.4 164.1h0M363.7 164.4h0M368.3 164.7h0M368.8 164.8h0M370.7 164.8h0M373.3 164.5h0M374.7 163.9h0M353.3 165.8h0M354.9 165.6h0M356.1 166.4h0M359.5 165.6h0M361.6 165.5h0M363.4 166.2h0M365.3 165.8h0M367.0 166.5h0M372.4 165.6h0M354.2 167.9h0M356.0 167.6h0M357.9 167.8h0M359.4 168.1h0M363.8 168.2h0M365.7 167.7h0M353.7 168.8h0M355.2 169.6h0M356.7 169.0h0M358.2 169.5h0M361.6 169.5h0M362.8 169.6h0M355.4 170.9h0M357.4 171.1h0M359.1 170.3h0M361.4 170.1h0M364.3 170.2h0M359.0 171.8h0" stroke="#E2B728" stroke-width="3.40" stroke-linecap="round" fill="none"/>
<path d="M306.8 101.6h0M312.4 102.0h0M313.7 100.9h0M304.9 103.0h0M306.4 103.0h0M308.5 102.6h0M309.0 103.4h0M312.4 102.6h0M314.3 103.1h0M316.5 102.7h0M300.2 104.3h0M302.4 105.0h0M304.1 105.0h0M305.9 103.8h0M307.6 104.0h0M308.2 104.3h0M310.2 103.9h0M311.9 104.3h0M313.7 104.3h0M316.0 104.9h0M316.8 104.1h0M295.4 105.3h0M298.0 105.5h0M299.5 106.3h0M301.7 106.5h0M303.2 105.9h0M304.5 105.9h0M305.5 106.2h0M308.0 105.5h0M309.8 106.2h0M310.9 105.8h0M312.9 105.4h0M315.1 105.8h0M315.8 105.6h0M318.2 105.2h0M295.8 107.8h0M296.7 107.2h0M298.9 107.9h0M300.8 107.7h0M301.6 107.6h0M303.6 106.9h0M305.6 107.5h0M306.8 107.2h0M309.2 107.7h0M310.1 107.7h0M312.8 106.8h0M313.4 107.9h0M315.0 107.4h0M317.7 107.9h0M294.5 108.9h0M295.7 108.5h0M297.3 108.8h0M299.0 109.4h0M301.5 109.4h0M303.0 108.6h0M304.0 108.2h0M306.6 108.1h0M308.6 108.3h0M309.5 109.1h0M312.0 109.2h0M312.3 109.2h0M314.9 108.8h0M316.4 108.6h0M293.9 109.7h0M294.9 110.7h0M296.4 109.7h0M298.5 110.9h0M300.0 109.8h0M301.3 110.0h0M304.1 110.3h0M305.5 110.7h0M306.8 110.9h0M308.2 110.5h0M310.9 109.9h0M311.5 110.2h0M313.6 110.0h0M315.3 109.7h0M317.0 110.8h0M319.0 110.1h0M292.7 111.0h0M294.2 111.9h0M296.4 111.5h0M297.7 111.8h0M298.9 111.7h0M300.7 111.3h0M303.2 112.0h0M304.5 111.1h0M306.8 111.5h0M308.1 112.0h0M310.0 111.5h0M311.3 111.0h0M313.6 111.3h0M315.1 111.5h0M316.3 112.4h0M292.4 113.7h0M292.9 113.7h0M294.7 112.5h0M297.4 112.6h0M298.6 113.9h0M300.1 112.7h0M302.5 113.8h0M304.3 112.8h0M305.6 113.7h0M306.7 113.0h0M308.5 113.7h0M310.4 113.4h0M312.0 113.6h0M314.3 112.9h0M315.3 113.5h0M317.6 113.1h0M289.7 115.2h0M291.3 114.2h0M291.9 114.4h0M294.8 114.7h0M295.7 114.3h0M297.8 114.4h0M298.9 114.6h0M300.9 114.5h0M303.1 115.3h0M304.3 114.9h0M305.7 114.4h0M308.1 114.5h0M309.6 114.1h0M311.4 115.1h0M313.5 114.1h0M314.2 115.1h0M290.1 116.0h0M291.1 115.9h0M294.0 116.4h0M294.9 116.6h0M296.5 116.2h0M297.9 115.8h0M300.4 116.5h0M302.0 116.4h0M304.3 116.4h0M305.9 115.6h0M306.7 116.2h0M309.2 116.8h0M310.9 116.3h0M311.9 115.6h0M314.4 116.2h0M315.5 116.0h0M316.6 115.7h0M288.2 117.2h0M289.4 117.7h0M291.3 118.3h0M293.1 117.3h0M294.8 117.9h0M295.8 118.0h0M297.5 118.3h0M298.7 117.6h0M301.4 117.4h0M302.5 117.3h0M304.9 117.6h0M306.3 117.0h0M307.5 118.1h0M310.1 118.1h0M311.8 117.3h0M313.1 117.8h0M314.3 117.1h0M316.2 117.6h0M286.9 118.9h0M288.0 118.7h0M289.6 119.7h0M292.0 119.1h0M293.5 119.5h0M295.7 119.7h0M296.6 118.5h0M298.0 119.1h0M300.0 119.2h0M301.3 119.6h0M303.2 118.7h0M306.0 118.8h0M307.6 119.1h0M309.1 119.7h0M310.9 119.8h0M312.7 119.7h0M314.1 118.8h0M315.3 118.8h0M281.9 120.9h0M285.3 120.4h0M288.0 120.1h0M289.5 119.9h0M290.3 120.6h0M292.1 121.3h0M293.9 120.8h0M295.9 120.3h0M297.6 120.1h0M300.0 121.0h0M300.7 121.0h0M303.0 121.3h0M304.5 120.3h0M305.9 120.2h0M308.2 121.0h0M310.0 120.6h0M311.5 120.5h0M312.4 120.7h0M314.1 120.3h0M276.1 122.7h0M277.6 122.4h0M279.7 122.1h0M281.0 122.0h0M283.0 122.1h0M284.3 121.8h0M286.3 121.9h0M288.0 122.7h0M290.3 121.8h0M292.1 121.9h0M293.7 121.7h0M295.7 122.3h0M296.9 121.9h0M298.2 121.7h0M299.7 122.4h0M301.6 122.6h0M303.7 122.5h0M304.8 121.6h0M306.7 122.4h0M308.4 122.4h0M310.3 121.5h0M312.0 121.9h0M275.7 122.9h0M277.3 123.4h0M278.9 123.1h0M281.3 124.2h0M283.0 123.4h0M284.5 123.6h0M286.2 123.6h0M286.8 123.5h0M289.2 124.2h0M290.6 123.1h0M292.3 123.2h0M294.6 123.2h0M295.8 123.5h0M297.1 124.2h0M299.1 123.0h0M301.0 123.8h0M303.2 123.6h0M304.8 123.7h0M306.1 124.0h0M308.3 124.0h0M310.0 123.2h0M311.4 123.8h0M312.8 124.2h0M275.0 125.5h0M276.0 124.4h0M277.8 124.4h0M280.1 124.7h0M281.7 124.7h0M282.9 124.4h0M284.7 125.6h0M286.9 125.6h0M289.0 124.5h0M290.3 124.8h0M291.4 125.2h0M293.4 124.6h0M295.6 125.7h0M297.3 124.8h0M298.4 124.8h0M300.8 125.6h0M301.4 125.0h0M303.8 125.5h0M305.0 124.9h0M307.6 125.2h0M309.3 124.4h0M310.0 124.4h0M272.1 126.7h0M274.2 126.2h0M275.4 126.9h0M277.0 126.5h0M279.2 127.1h0M280.3 126.6h0M282.3 126.1h0M284.8 127.0h0M286.5 127.2h0M287.7 126.7h0M289.3 126.3h0M291.0 127.1h0M291.9 125.9h0M294.8 127.0h0M295.5 126.6h0M297.9 126.0h0M298.8 126.8h0M301.8 126.2h0M302.3 126.7h0M304.9 126.0h0M305.9 126.9h0M308.6 125.9h0M309.0 126.8h0M271.6 127.4h0M273.3 127.3h0M274.6 128.2h0M276.1 128.0h0M277.6 128.2h0M279.9 127.6h0M281.0 128.4h0M283.5 128.2h0M285.3 127.7h0M286.5 127.8h0M287.8 128.1h0M289.4 128.3h0M291.1 127.4h0M292.8 128.1h0M294.5 128.1h0M296.2 128.2h0M298.6 127.8h0M299.8 128.4h0M302.1 127.8h0M303.5 127.8h0M305.8 128.7h0M307.4 128.2h0M308.4 127.3h0M268.4 129.9h0M270.5 129.2h0M272.2 130.0h0M273.9 129.8h0M276.0 128.9h0M277.0 129.5h0M279.4 130.2h0M280.9 129.9h0M282.6 129.6h0M283.7 129.7h0M286.4 129.8h0M287.6 129.9h0M289.5 128.9h0M290.8 129.4h0M292.9 129.6h0M294.1 129.9h0M296.4 129.7h0M297.2 129.4h0M298.9 129.5h0M300.5 130.1h0M303.1 129.4h0M304.5 129.6h0M305.8 129.5h0M308.2 130.0h0M267.9 131.0h0M269.8 131.3h0M270.8 130.8h0M273.4 131.1h0M274.4 131.1h0M277.1 131.6h0M278.2 130.4h0M279.5 131.0h0M281.7 131.5h0M283.1 130.9h0M284.3 130.7h0M286.4 131.5h0M288.7 131.5h0M290.7 131.1h0M292.3 131.6h0M293.6 130.4h0M295.7 131.0h0M296.7 130.4h0M298.7 130.5h0M299.9 130.5h0M301.5 131.0h0M303.7 130.6h0M304.8 131.0h0M306.5 131.6h0M266.6 132.6h0M268.6 132.7h0M270.0 132.8h0M272.8 132.1h0M274.4 132.3h0M275.5 133.0h0M278.0 131.8h0M278.5 131.9h0M280.6 132.1h0M282.5 132.6h0M284.1 132.6h0M285.9 132.2h0M288.2 132.3h0M288.9 133.1h0M290.4 132.8h0M292.3 133.0h0M294.6 132.4h0M295.3 132.6h0M298.3 132.9h0M298.8 132.7h0M300.6 132.0h0M303.1 132.7h0M304.1 132.0h0M306.3 131.8h0M307.9 132.2h0M267.4 134.0h0M269.7 134.6h0M270.7 133.7h0M273.5 133.2h0M274.3 133.7h0M276.5 133.5h0M278.4 134.2h0M279.3 133.2h0M282.0 134.2h0M283.2 133.4h0M285.3 134.0h0M287.3 133.4h0M288.5 134.0h0M290.3 134.5h0M291.1 133.8h0M293.4 133.8h0M294.9 133.9h0M297.0 134.0h0M298.6 133.7h0M300.0 134.1h0M301.8 133.3h0M304.0 133.3h0M305.0 133.9h0M307.7 133.9h0M308.2 134.2h0M267.1 134.8h0M269.0 135.8h0M270.4 135.7h0M272.4 134.9h0M274.1 135.5h0M276.3 136.1h0M277.3 135.1h0M278.5 135.8h0M281.4 135.6h0M281.8 134.8h0M283.7 136.0h0M285.2 135.9h0M287.7 135.9h0M289.6 136.0h0M290.3 135.7h0M292.4 135.9h0M294.4 135.6h0M295.4 135.2h0M298.3 134.9h0M298.9 134.8h0M301.1 135.5h0M302.2 135.4h0M303.9 135.4h0M305.6 134.8h0M307.8 135.1h0M268.0 136.2h0M270.0 136.8h0M271.7 137.1h0M273.0 136.3h0M275.1 136.2h0M276.6 136.5h0M278.8 137.4h0M279.5 137.2h0M282.0 136.6h0M282.6 137.3h0M284.4 137.2h0M286.2 137.1h0M288.4 137.5h0M290.5 136.6h0M292.3 137.0h0M293.0 137.0h0M295.4 137.3h0M296.5 136.3h0M298.4 136.9h0M300.9 136.8h0M302.4 137.0h0M304.3 137.5h0M305.0 136.6h0M307.2 137.4h0M269.2 139.0h0M270.0 137.9h0M272.5 138.6h0M273.9 138.0h0M275.2 137.7h0M277.8 138.1h0M279.1 138.4h0M280.4 138.1h0M282.2 139.0h0M283.5 138.5h0M285.2 139.0h0M287.4 138.8h0M288.5 138.0h0M290.7 138.3h0M293.0 138.4h0M295.0 137.8h0M296.3 138.9h0M298.0 138.4h0M299.9 138.5h0M301.5 138.9h0M302.4 139.0h0M304.8 137.7h0M305.6 137.9h0M308.1 137.7h0M264.3 140.1h0M266.0 140.4h0M267.7 139.8h0M269.9 139.1h0M270.9 139.2h0M273.7 139.7h0M275.0 140.5h0M276.3 139.7h0M278.8 140.2h0M280.3 139.5h0M281.9 140.0h0M283.8 139.8h0M284.8 140.1h0M287.3 139.2h0M289.0 140.1h0M290.4 139.6h0M292.4 139.3h0M293.3 140.2h0M295.4 139.7h0M297.4 139.8h0M298.1 139.4h0M300.5 140.4h0M302.6 140.5h0M303.8 139.6h0M304.7 140.5h0M307.0 140.2h0M265.9 141.2h0M267.5 141.0h0M268.3 140.8h0M270.7 141.1h0M271.8 141.8h0M273.4 140.9h0M275.0 140.7h0M276.8 141.1h0M279.1 142.0h0M280.2 141.6h0M282.6 141.9h0M283.8 140.7h0M285.2 141.1h0M287.0 140.8h0M289.4 141.1h0M291.5 140.8h0M293.2 141.0h0M294.0 141.8h0M295.9 141.1h0M297.6 140.8h0M300.0 141.5h0M301.7 140.9h0M303.1 141.0h0M305.1 141.6h0M262.7 143.4h0M266.9 143.5h0M268.4 142.3h0M270.0 143.0h0M271.1 143.2h0M272.7 142.7h0M274.9 142.9h0M276.9 143.5h0M278.8 142.5h0M279.9 143.0h0M281.0 143.4h0M283.4 142.9h0M285.4 142.5h0M286.3 142.6h0M288.1 143.0h0M289.7 143.3h0M291.2 142.1h0M293.0 143.2h0M295.3 142.8h0M296.8 143.4h0M298.4 142.3h0M300.0 143.1h0M301.3 142.6h0M303.9 143.4h0M305.4 142.9h0M261.3 144.7h0M263.7 144.9h0M265.7 143.6h0M267.5 144.5h0M269.4 144.2h0M271.0 144.2h0M272.3 144.7h0M273.5 144.0h0M275.8 144.6h0M276.8 144.1h0M278.7 143.6h0M281.3 144.5h0M281.8 144.4h0M283.5 144.8h0M286.1 144.3h0M286.9 144.1h0M289.2 144.3h0M290.8 144.2h0M292.5 144.5h0M293.9 144.6h0M295.6 143.8h0M297.1 144.3h0M299.7 143.7h0M301.0 144.1h0M303.0 143.6h0M304.2 144.5h0M306.8 144.3h0M261.0 145.3h0M263.5 146.1h0M263.9 145.8h0M266.5 145.5h0M267.9 146.1h0M269.7 146.3h0M270.8 145.9h0M272.9 145.2h0M274.9 145.7h0M276.3 145.0h0M278.1 146.0h0M280.5 145.9h0M281.4 145.4h0M283.2 145.3h0M285.6 146.0h0M287.2 145.1h0M288.8 146.1h0M290.7 145.1h0M291.1 145.3h0M293.3 145.8h0M295.7 146.4h0M297.4 145.8h0M298.4 145.3h0M300.1 145.4h0M301.8 145.3h0M303.6 145.2h0M258.6 147.8h0M260.5 147.8h0M261.4 146.9h0M264.0 147.4h0M265.6 147.2h0M266.9 147.1h0M269.2 147.3h0M269.9 147.3h0M272.4 147.5h0M273.6 147.4h0M275.4 147.6h0M277.9 147.6h0M279.6 146.9h0M280.3 146.7h0M282.7 147.5h0M284.2 147.7h0M285.3 146.6h0M287.9 147.5h0M289.5 147.6h0M290.3 146.6h0M293.3 147.7h0M294.9 147.3h0M296.3 146.9h0M297.5 147.3h0M298.9 146.8h0M301.5 147.3h0M302.5 147.0h0M255.8 148.5h0M258.3 149.1h0M258.9 148.8h0M260.6 148.7h0M262.8 149.0h0M264.1 148.7h0M266.7 148.3h0M267.4 148.7h0M269.2 148.5h0M271.5 148.4h0M272.4 149.1h0M275.1 148.2h0M277.0 148.1h0M277.6 148.1h0M280.5 148.6h0M281.3 148.7h0M283.9 149.3h0M285.6 149.0h0M286.3 148.7h0M288.3 149.0h0M290.6 149.2h0M292.2 149.0h0M292.9 148.1h0M295.0 149.0h0M297.4 149.3h0M299.2 148.1h0M299.6 148.9h0M301.5 148.0h0M304.1 148.7h0M304.8 148.1h0M251.4 150.2h0M253.1 149.9h0M255.2 150.8h0M256.4 150.3h0M258.1 150.2h0M259.9 150.9h0M262.0 149.9h0M264.2 150.0h0M266.0 150.4h0M266.7 150.0h0M269.3 150.2h0M270.2 150.0h0M271.9 150.0h0M274.4 150.1h0M275.0 150.7h0M277.1 150.3h0M279.2 150.4h0M281.3 149.5h0M282.4 149.9h0M284.5 150.0h0M286.5 149.7h0M287.2 150.9h0M288.8 150.1h0M290.6 150.1h0M292.8 150.1h0M294.3 149.7h0M295.6 149.9h0M297.0 150.6h0M299.4 150.9h0M300.6 150.6h0M302.3 150.6h0M304.3 150.9h0M305.6 150.1h0M247.6 151.1h0M249.8 152.2h0M251.0 151.1h0M253.1 151.1h0M254.6 151.0h0M256.3 151.3h0M257.7 151.2h0M259.3 151.0h0M260.8 151.4h0M262.7 151.8h0M265.1 152.1h0M266.4 151.0h0M267.8 151.1h0M270.2 151.6h0M271.1 151.5h0M273.2 152.0h0M275.3 151.5h0M277.1 151.4h0M277.8 151.7h0M279.5 151.8h0M281.5 151.3h0M282.7 151.6h0M285.6 151.9h0M286.4 151.2h0M287.7 151.6h0M289.5 151.4h0M291.4 151.0h0M293.7 151.0h0M294.5 152.2h0M297.0 151.9h0M298.9 151.7h0M300.1 151.1h0M302.3 151.5h0M303.2 151.5h0M306.0 151.9h0M247.1 152.9h0M247.8 153.8h0M250.7 153.4h0M252.3 153.1h0M253.1 152.9h0M254.6 153.5h0M256.8 153.6h0M258.4 153.8h0M260.5 153.1h0M262.4 153.3h0M263.3 153.4h0M266.0 153.0h0M267.3 152.5h0M268.3 152.9h0M269.9 153.2h0M272.3 153.3h0M274.1 153.8h0M275.4 153.5h0M277.5 153.4h0M279.0 153.2h0M280.8 153.3h0M282.9 153.5h0M283.5 153.7h0M285.3 153.3h0M287.7 153.5h0M288.8 153.1h0M290.6 153.7h0M292.3 153.5h0M294.6 153.2h0M296.0 153.5h0M297.4 153.8h0M299.9 153.5h0M300.9 153.4h0M302.7 153.1h0M304.2 153.7h0M306.2 153.3h0M245.2 154.5h0M247.3 154.7h0M248.6 154.5h0M250.4 154.1h0M252.2 154.1h0M254.9 155.2h0M256.4 155.0h0M257.2 154.8h0M260.0 155.0h0M260.8 154.1h0M262.6 154.2h0M265.2 154.4h0M266.5 155.2h0M268.1 153.9h0M269.0 155.2h0M271.8 154.2h0M272.8 154.9h0M274.1 154.2h0M277.1 154.2h0M278.5 155.0h0M279.3 154.0h0M280.9 154.9h0M282.8 154.5h0M285.3 154.4h0M286.1 154.3h0M288.1 154.8h0M290.0 154.8h0M291.9 154.0h0M293.1 154.5h0M295.6 155.3h0M296.3 154.1h0M298.6 155.2h0M300.2 154.4h0M301.7 154.9h0M303.8 154.5h0M304.7 154.4h0M307.3 154.0h0M244.5 156.5h0M246.1 156.5h0M248.4 155.9h0M249.5 156.4h0M251.1 156.6h0M253.6 155.5h0M254.9 156.6h0M256.9 155.8h0M258.6 155.6h0M260.4 156.1h0M262.0 156.7h0M264.2 156.5h0M265.0 155.6h0M266.6 156.0h0M269.0 155.8h0M270.4 155.5h0M271.8 155.4h0M274.6 156.0h0M275.2 156.3h0M277.9 155.9h0M279.0 155.8h0M280.5 156.5h0M281.8 156.4h0M284.7 156.3h0M286.1 155.7h0M287.4 155.4h0M288.5 156.6h0M291.0 156.1h0M292.4 156.0h0M294.4 155.9h0M296.0 156.3h0M297.4 156.8h0M299.8 155.7h0M301.0 155.7h0M303.4 156.0h0M304.6 156.5h0M305.8 155.6h0M244.1 157.0h0M245.2 157.1h0M247.7 157.8h0M249.2 157.4h0M250.4 158.0h0M252.2 158.1h0M254.7 157.7h0M256.4 158.0h0M258.4 157.9h0M259.6 157.6h0M261.4 157.0h0M262.7 158.3h0M263.9 157.4h0M266.3 156.9h0M267.9 157.9h0M269.3 157.2h0M271.1 156.9h0M272.9 157.0h0M274.5 157.5h0M277.1 157.9h0M278.1 157.1h0M280.3 158.3h0M282.2 158.1h0M282.6 157.1h0M285.1 157.7h0M287.1 157.5h0M289.0 157.8h0M289.4 157.5h0M291.6 157.4h0M293.2 157.9h0M295.7 157.1h0M296.2 157.7h0M298.4 157.4h0M300.7 157.6h0M301.3 158.1h0M304.0 158.0h0M305.6 157.1h0M306.9 158.2h0M243.3 158.6h0M244.8 159.1h0M246.7 159.6h0M248.9 158.5h0M250.7 159.6h0M251.6 158.8h0M253.7 158.6h0M255.4 159.3h0M257.4 159.2h0M258.3 158.9h0M260.2 158.6h0M261.6 159.4h0M263.6 159.2h0M265.1 158.6h0M267.7 158.4h0M269.3 158.6h0M272.9 159.2h0M274.3 159.2h0M275.5 158.7h0M277.9 158.7h0M278.9 158.5h0M280.4 158.4h0M282.0 159.5h0M283.9 158.9h0M286.2 159.6h0M287.6 158.6h0M288.6 158.4h0M290.7 159.1h0M293.1 158.7h0M294.4 158.4h0M296.0 159.5h0M298.3 159.7h0M299.5 158.9h0M301.4 159.3h0M303.0 159.6h0M304.9 159.5h0M306.4 159.5h0M242.2 160.1h0M244.5 160.9h0M246.3 159.9h0M247.3 161.1h0M249.1 161.2h0M251.4 160.4h0M252.5 160.4h0M254.5 159.9h0M255.8 160.9h0M257.1 161.0h0M260.1 161.1h0M260.5 161.2h0M262.9 160.8h0M264.3 160.1h0M266.1 160.3h0M267.9 160.8h0M269.2 159.9h0M271.1 159.9h0M273.5 160.1h0M278.4 160.7h0M280.0 161.2h0M281.8 160.0h0M283.4 161.1h0M285.4 161.1h0M286.5 159.9h0M287.8 160.5h0M289.6 160.6h0M291.7 160.4h0M292.9 161.1h0M294.5 160.3h0M296.6 160.9h0M297.9 159.9h0M299.7 160.7h0M301.7 161.0h0M303.6 160.7h0M243.0 161.7h0M244.4 162.3h0M246.1 161.8h0M248.1 161.5h0M249.7 162.6h0M251.1 162.7h0M254.0 161.7h0M254.9 162.3h0M256.3 162.7h0M258.6 162.4h0M260.0 161.9h0M262.5 162.2h0M263.9 161.7h0M276.9 162.3h0M279.5 161.9h0M280.7 161.5h0M281.9 161.5h0M284.2 162.1h0M286.1 162.7h0M287.5 161.9h0M289.2 162.2h0M290.9 162.5h0M292.6 162.0h0M295.0 161.9h0M296.2 161.6h0M297.8 161.6h0M299.9 162.5h0M300.5 162.0h0M302.3 162.0h0M304.3 161.4h0M242.9 163.2h0M244.0 163.9h0M245.8 162.9h0M247.4 162.9h0M249.4 163.8h0M250.3 163.1h0M253.0 163.4h0M253.8 163.0h0M256.5 163.8h0M258.0 163.3h0M259.3 163.7h0M261.5 163.0h0M262.6 163.2h0M276.7 164.2h0M278.8 163.3h0M279.9 163.2h0M282.1 164.0h0M282.9 163.3h0M284.5 164.0h0M286.3 163.1h0M288.4 163.6h0M289.5 163.6h0M292.1 163.1h0M293.0 163.0h0M295.5 163.2h0M297.1 163.0h0M297.9 164.1h0M300.8 163.6h0M302.5 163.8h0M303.5 164.2h0M245.0 164.7h0M246.7 164.8h0M249.1 164.9h0M250.5 165.2h0M251.8 165.4h0M253.0 164.6h0M255.6 165.6h0M256.5 165.7h0M258.9 164.6h0M260.3 165.5h0M262.1 165.6h0M276.3 164.7h0M276.9 165.4h0M279.6 164.7h0M280.8 165.7h0M282.4 164.8h0M283.4 165.0h0M286.3 164.6h0M287.8 165.0h0M288.8 165.1h0M290.5 165.2h0M293.2 165.2h0M294.6 165.5h0M296.6 164.5h0M298.3 164.8h0M299.7 165.3h0M301.7 165.3h0M302.8 164.4h0M242.1 166.6h0M243.5 166.1h0M245.7 166.3h0M248.1 166.5h0M249.1 165.9h0M250.8 165.8h0M252.5 166.6h0M254.5 167.1h0M255.7 166.1h0M257.4 167.0h0M259.1 166.6h0M261.7 166.1h0M262.4 166.5h0M273.6 167.1h0M274.5 166.7h0M276.1 166.5h0M278.3 166.4h0M280.4 166.4h0M281.8 165.8h0M283.6 166.7h0M284.7 166.0h0M286.2 166.5h0M288.3 167.0h0M290.2 166.0h0M292.3 166.7h0M293.2 166.1h0M294.6 166.7h0M296.5 166.3h0M299.2 166.5h0M300.3 166.0h0M301.7 165.8h0M241.2 168.5h0M243.4 167.7h0M245.6 168.2h0M247.0 168.2h0M248.5 167.6h0M250.5 167.6h0M252.1 168.2h0M253.0 168.0h0M255.4 167.8h0M256.5 168.3h0M258.4 168.6h0M260.5 167.5h0M261.8 168.0h0M272.0 168.4h0M273.8 167.9h0M275.7 168.1h0M276.7 168.3h0M278.5 168.2h0M281.2 168.5h0M282.0 168.2h0M284.7 168.4h0M286.4 168.0h0M287.8 168.0h0M288.8 167.9h0M291.5 167.7h0M292.1 168.2h0M294.8 167.8h0M296.2 167.4h0M297.5 168.5h0M299.8 167.7h0M301.8 167.4h0M243.1 169.6h0M244.1 169.7h0M245.6 169.4h0M248.0 169.5h0M249.9 168.7h0M250.6 169.5h0M253.3 169.2h0M254.3 169.1h0M256.4 169.3h0M257.1 169.7h0M258.9 169.7h0M261.0 169.8h0M272.4 169.2h0M275.4 169.6h0M276.5 169.0h0M277.8 169.6h0M280.5 169.8h0M281.0 168.9h0M283.5 170.0h0M285.3 169.2h0M287.0 169.7h0M289.0 169.8h0M290.2 170.1h0M291.4 169.9h0M293.4 169.3h0M295.6 170.0h0M297.3 168.7h0M298.4 169.4h0M300.8 169.1h0M243.2 170.6h0M244.4 170.2h0M246.4 171.2h0M249.0 170.9h0M250.5 170.3h0M251.8 170.8h0M253.5 170.8h0M254.9 170.6h0M256.9 171.2h0M257.9 171.5h0M260.7 171.3h0M269.0 171.1h0M269.9 171.4h0M271.8 170.6h0M273.8 170.3h0M276.1 170.5h0M277.0 171.5h0M278.6 170.5h0M281.3 170.3h0M281.7 171.5h0M284.5 170.8h0M286.2 170.4h0M287.0 171.0h0M289.0 170.9h0M291.1 171.1h0M292.3 170.6h0M294.9 170.5h0M295.4 170.4h0M298.4 170.4h0M300.0 170.4h0M301.3 170.8h0M243.5 172.4h0M246.1 172.4h0M248.2 172.4h0M249.0 172.3h0M251.1 172.8h0M253.1 172.0h0M253.8 172.8h0M256.0 172.7h0M257.1 172.1h0M259.3 171.8h0M269.9 172.3h0M271.0 173.0h0M272.4 171.7h0M274.7 172.5h0M275.9 171.9h0M278.6 171.9h0M280.3 172.0h0M281.4 172.6h0M282.9 172.3h0M285.1 172.6h0M286.8 172.7h0M287.7 172.4h0M289.5 172.0h0M291.5 173.0h0M293.9 172.8h0M295.0 172.8h0M297.2 172.6h0M299.2 172.4h0M299.7 172.6h0M244.6 174.2h0M246.3 173.3h0M248.8 173.8h0M249.4 173.6h0M252.4 173.9h0M253.8 174.4h0M255.0 173.7h0M256.8 173.5h0M257.9 173.5h0M268.6 173.6h0M270.1 174.5h0M272.4 173.9h0M274.3 174.0h0M275.6 174.4h0M277.4 173.3h0M278.8 174.3h0M281.3 173.2h0M281.8 174.3h0M284.2 174.2h0M286.3 173.5h0M286.8 173.4h0M289.6 173.4h0M291.0 174.2h0M292.7 174.3h0M294.9 173.8h0M295.5 174.4h0M297.8 174.4h0M299.7 174.5h0M246.1 175.8h0M246.9 175.9h0M249.0 175.3h0M251.2 175.1h0M252.8 174.8h0M253.9 175.4h0M256.4 175.8h0M257.5 175.2h0M269.1 175.9h0M271.0 175.5h0M273.3 175.7h0M275.1 175.1h0M276.3 175.0h0M277.9 175.0h0M279.2 175.9h0M282.0 174.9h0M283.2 175.2h0M284.4 174.9h0M286.3 174.6h0M288.1 175.3h0M289.9 175.6h0M291.8 175.8h0M294.1 175.1h0M294.9 174.7h0M296.7 175.5h0M298.2 174.9h0M246.7 176.3h0M248.5 177.0h0M249.9 177.3h0M251.5 176.8h0M253.9 177.1h0M255.7 177.2h0M256.3 176.6h0M258.0 176.9h0M267.5 176.3h0M270.1 176.4h0M272.2 177.4h0M274.5 177.2h0M275.4 177.3h0M276.7 176.4h0M279.0 176.1h0M280.0 177.4h0M282.1 176.7h0M284.8 176.4h0M286.4 177.0h0M287.0 176.7h0M289.4 176.8h0M290.9 176.8h0M292.8 176.4h0M294.4 177.5h0M295.3 176.3h0M297.3 177.4h0M298.8 177.0h0M249.7 177.7h0M250.8 177.6h0M252.6 178.1h0M254.0 177.9h0M255.4 178.6h0M257.2 177.9h0M268.5 178.7h0M269.8 177.7h0M271.8 177.8h0M272.6 177.8h0M275.1 178.0h0M276.0 178.4h0M277.5 178.2h0M279.2 178.7h0M280.9 178.2h0M283.3 178.9h0M284.8 179.0h0M286.8 178.8h0M288.2 178.9h0M289.7 177.9h0M291.3 178.0h0M293.4 177.7h0M295.2 178.7h0M297.3 177.9h0M248.9 179.3h0M249.4 179.9h0M251.1 179.3h0M253.8 179.9h0M255.0 179.7h0M257.2 179.8h0M258.7 180.2h0M266.4 180.0h0M268.6 180.0h0M270.9 179.8h0M271.6 179.6h0M273.8 179.6h0M276.2 179.9h0M277.5 179.4h0M279.3 179.2h0M281.0 180.4h0M283.0 180.2h0M284.1 179.7h0M285.6 179.6h0M288.2 179.8h0M289.8 179.2h0M290.8 180.1h0M292.4 179.6h0M293.6 179.3h0M296.5 179.5h0M297.3 179.1h0M251.2 180.6h0M252.4 180.7h0M254.0 181.6h0M256.3 181.5h0M257.8 181.0h0M258.9 180.7h0M262.5 181.3h0M264.1 181.3h0M267.3 181.6h0M269.5 181.7h0M271.7 181.6h0M273.5 180.8h0M275.4 180.9h0M276.5 181.7h0M278.8 181.6h0M279.6 181.4h0M280.9 180.7h0M283.9 180.8h0M285.2 181.6h0M286.2 181.9h0M288.4 180.6h0M289.9 181.5h0M292.0 180.8h0M293.4 181.8h0M295.2 180.7h0M296.3 180.7h0M297.9 181.3h0M251.8 183.1h0M253.8 182.5h0M255.4 182.1h0M256.8 182.7h0M258.6 183.0h0M260.0 182.6h0M262.1 183.3h0M263.6 182.1h0M265.7 182.8h0M267.6 183.1h0M268.2 182.8h0M270.6 183.0h0M271.5 183.1h0M274.0 182.3h0M275.1 182.9h0M277.0 183.4h0M278.9 182.8h0M281.2 183.0h0M282.5 182.5h0M284.3 183.0h0M285.7 183.1h0M287.8 183.4h0M289.5 183.2h0M290.6 183.3h0M292.6 183.2h0M294.9 183.2h0M295.6 183.1h0M297.9 182.3h0M250.9 184.0h0M252.3 184.3h0M253.7 184.2h0M256.0 184.7h0M257.1 183.8h0M259.8 184.4h0M261.8 184.7h0M263.5 184.7h0M264.2 184.2h0M266.5 183.8h0M267.9 183.6h0M269.6 184.8h0M271.4 184.4h0M273.0 183.6h0M274.1 183.9h0M276.6 183.5h0M278.8 183.7h0M279.3 184.6h0M281.2 184.6h0M282.6 183.9h0M285.5 184.1h0M287.1 184.4h0M287.8 184.6h0M289.4 183.9h0M291.9 184.1h0M293.4 184.9h0M295.3 184.1h0M296.4 184.4h0M250.0 185.0h0M251.9 185.8h0M253.8 186.3h0M255.5 185.4h0M256.4 185.5h0M259.2 185.2h0M259.9 185.3h0M262.4 185.4h0M263.3 185.9h0M265.1 186.0h0M266.4 186.1h0M268.5 186.2h0M270.4 185.5h0M272.8 185.8h0M273.4 185.6h0M276.1 185.3h0M276.6 185.9h0M278.6 185.5h0M280.2 185.7h0M282.1 185.8h0M284.1 185.1h0M285.9 185.0h0M288.0 186.2h0M289.5 185.6h0M290.7 185.3h0M292.5 185.0h0M294.0 186.0h0M251.4 186.9h0M252.6 187.7h0M254.9 187.2h0M255.4 187.5h0M258.1 186.5h0M259.1 187.7h0M260.7 186.7h0M262.2 187.3h0M264.8 187.3h0M266.3 187.4h0M268.1 187.2h0M269.7 186.6h0M271.5 186.9h0M272.9 186.6h0M274.6 186.6h0M277.1 187.4h0M277.9 187.6h0M279.8 187.2h0M281.5 186.8h0M283.3 187.6h0M284.3 187.3h0M287.2 187.7h0M289.0 187.0h0M290.7 187.2h0M291.1 186.8h0M294.0 187.6h0M251.8 189.2h0M254.0 188.8h0M255.0 188.3h0M257.2 188.1h0M258.9 189.2h0M259.6 188.6h0M261.5 188.2h0M263.5 188.9h0M264.7 188.8h0M267.7 188.4h0M268.6 188.4h0M270.2 189.3h0M272.7 189.1h0M274.3 189.1h0M276.0 188.0h0M277.2 189.2h0M279.3 188.0h0M280.7 188.4h0M282.8 188.2h0M284.1 189.1h0M285.2 188.8h0M287.6 188.3h0M289.9 189.0h0M290.5 188.6h0M292.1 188.9h0M294.4 189.2h0M250.4 189.8h0M252.9 190.5h0M254.3 189.7h0M255.8 190.5h0M257.3 189.5h0M259.9 190.2h0M260.8 189.5h0M262.8 189.8h0M264.8 189.9h0M266.0 190.1h0M268.0 189.6h0M269.1 189.8h0M271.9 190.0h0M272.4 189.9h0M274.7 190.1h0M277.1 189.9h0M278.1 189.6h0M280.0 190.0h0M282.0 190.1h0M283.6 190.6h0M284.8 190.0h0M287.0 189.7h0M288.4 189.7h0M290.4 190.1h0M291.5 190.2h0M294.0 189.5h0M250.7 191.9h0M251.4 191.4h0M253.6 191.9h0M255.1 191.3h0M256.4 191.7h0M259.2 191.8h0M260.1 191.3h0M261.6 191.8h0M263.0 192.0h0M266.0 191.4h0M267.1 191.7h0M269.0 191.7h0M270.3 190.9h0M272.0 191.2h0M274.1 190.9h0M275.7 191.7h0M278.0 191.1h0M279.2 191.9h0M280.2 191.1h0M282.4 192.1h0M284.7 191.8h0M286.4 191.1h0M287.4 191.2h0M289.5 191.1h0M291.2 191.6h0M249.8 193.3h0M250.9 192.5h0M252.6 193.2h0M255.0 192.7h0M255.4 193.1h0M257.1 192.6h0M259.3 193.1h0M260.9 193.4h0M262.7 193.1h0M264.6 192.5h0M266.4 192.5h0M268.5 192.9h0M269.0 192.6h0M271.3 193.5h0M272.4 193.1h0M275.2 193.5h0M277.0 193.2h0M278.1 192.6h0M279.3 192.8h0M282.2 193.7h0M283.6 193.1h0M284.8 193.2h0M287.3 193.7h0M288.3 192.6h0M291.7 193.4h0M248.7 194.1h0M250.6 194.0h0M251.6 194.7h0M253.2 195.0h0M255.4 194.2h0M257.2 194.9h0M257.9 195.1h0M260.2 194.7h0M262.4 194.6h0M264.0 195.0h0M265.5 194.4h0M266.9 194.8h0M268.8 194.6h0M270.9 194.5h0M272.2 194.8h0M273.9 194.2h0M275.4 194.9h0M277.2 194.0h0M278.6 194.2h0M280.6 194.8h0M282.9 194.4h0M283.9 194.5h0M286.5 194.9h0M288.1 194.9h0M289.4 195.1h0M248.8 195.7h0M250.7 196.4h0M252.2 196.0h0M254.0 195.9h0M256.1 195.5h0M258.4 195.5h0M259.5 195.5h0M261.1 196.7h0M262.3 196.4h0M264.1 195.4h0M266.0 196.5h0M267.8 195.6h0M269.8 195.8h0M271.4 196.2h0M272.4 196.0h0M274.7 196.4h0M276.9 196.6h0M278.7 195.8h0M280.0 196.0h0M282.2 195.6h0M283.3 195.6h0M285.0 196.1h0M286.9 196.5h0M288.9 196.0h0M290.2 195.6h0M248.5 197.8h0M249.6 197.7h0M251.2 197.9h0M253.7 198.1h0M254.6 197.4h0M256.9 197.7h0M258.7 197.0h0M260.9 198.2h0M261.7 197.9h0M263.5 198.0h0M265.0 197.0h0M267.8 197.6h0M269.1 197.2h0M270.1 196.9h0M272.7 197.5h0M273.4 197.3h0M276.2 197.8h0M277.3 197.3h0M279.6 196.9h0M280.0 197.7h0M282.3 197.3h0M284.2 197.0h0M286.2 197.1h0M288.2 198.0h0M244.8 199.0h0M246.2 198.9h0M247.8 198.5h0M248.8 198.6h0M250.5 199.3h0M252.9 198.7h0M254.1 198.5h0M255.5 199.0h0M258.4 198.7h0M259.6 199.5h0M261.0 199.4h0M262.9 198.6h0M264.5 199.2h0M266.7 199.6h0M267.6 199.5h0M270.2 199.0h0M271.9 198.7h0M273.7 199.6h0M274.3 199.7h0M276.8 198.5h0M277.5 198.4h0M280.1 198.3h0M281.3 199.2h0M283.4 198.8h0M284.7 199.2h0M287.0 199.0h0M245.7 200.0h0M246.8 200.1h0M248.7 200.6h0M249.5 200.7h0M251.8 199.8h0M253.4 200.1h0M255.0 199.8h0M257.0 200.4h0M258.7 200.7h0M260.8 200.4h0M261.5 200.0h0M263.8 200.6h0M265.8 200.4h0M267.7 200.0h0M269.3 199.8h0M270.7 200.8h0M272.8 200.5h0M273.9 200.4h0M276.2 200.5h0M277.7 200.0h0M279.0 200.3h0M280.3 200.5h0M282.8 200.8h0M284.1 200.5h0M287.5 200.8h0M244.5 201.4h0M246.2 202.5h0M247.8 202.1h0M248.8 201.8h0M251.6 201.6h0M252.2 202.5h0M254.9 202.4h0M255.7 202.1h0M258.4 202.3h0M258.9 201.9h0M261.5 202.1h0M262.4 201.5h0M264.1 201.7h0M265.8 202.5h0M268.6 201.8h0M269.5 202.0h0M270.8 201.8h0M272.9 202.1h0M274.6 202.6h0M276.1 202.3h0M277.8 201.4h0M279.7 201.9h0M281.1 202.0h0M282.6 202.1h0M241.6 203.9h0M243.4 204.0h0M244.5 203.5h0M246.2 203.7h0M247.9 203.8h0M250.4 203.7h0M252.5 202.8h0M253.3 202.8h0M254.9 203.4h0M256.6 202.8h0M258.0 203.4h0M260.4 204.1h0M261.5 203.7h0M263.5 203.1h0M264.8 203.0h0M267.7 203.0h0M268.9 202.7h0M271.2 203.6h0M272.7 203.0h0M274.5 203.8h0M275.9 202.9h0M277.2 203.5h0M279.0 202.9h0M280.7 203.9h0M282.0 202.9h0M283.6 203.0h0M286.2 203.3h0M241.3 204.6h0M241.8 204.3h0M244.4 205.4h0M245.7 204.6h0M247.4 204.4h0M248.6 204.6h0M250.9 205.3h0M252.9 205.1h0M255.0 204.8h0M255.6 205.5h0M258.3 205.3h0M259.3 205.6h0M261.6 205.0h0M262.5 205.2h0M264.7 205.3h0M265.8 205.6h0M267.5 204.4h0M269.7 204.6h0M271.0 205.0h0M272.9 205.5h0M274.8 204.3h0M276.6 205.3h0M277.8 204.5h0M280.5 205.1h0M281.2 205.2h0M282.7 205.4h0M241.5 206.2h0M243.9 206.1h0M245.7 206.7h0M246.5 206.4h0M248.3 205.9h0M250.5 206.6h0M252.3 206.2h0M254.2 206.2h0M255.2 206.6h0M256.6 206.4h0M259.1 206.9h0M260.5 205.8h0M261.5 206.0h0M264.2 206.1h0M265.1 206.9h0M267.3 207.0h0M269.0 205.8h0M270.6 206.8h0M272.4 206.6h0M274.5 206.4h0M275.6 206.3h0M277.0 206.2h0M278.3 206.2h0M281.0 206.1h0M282.8 206.5h0M243.8 207.5h0M245.3 208.2h0M247.1 208.1h0M249.0 208.5h0M250.8 207.6h0M252.3 208.2h0M253.7 207.2h0M256.1 208.3h0M257.3 207.5h0M259.9 207.7h0M260.9 208.0h0M263.1 207.5h0M264.9 208.3h0M266.7 207.9h0M268.5 207.7h0M269.7 208.0h0M271.5 207.7h0M273.3 208.3h0M274.6 207.5h0M276.9 207.9h0M278.6 207.6h0M280.3 207.9h0M245.3 209.7h0M246.2 209.5h0M248.7 209.2h0M250.2 209.9h0M251.6 209.7h0M253.6 208.9h0M255.3 209.4h0M256.4 209.9h0M257.9 209.2h0M259.7 209.8h0M262.2 209.4h0M264.0 209.2h0M264.8 210.0h0M267.2 209.7h0M269.3 209.3h0M270.5 209.7h0M272.1 209.4h0M273.9 209.4h0M276.0 208.6h0M277.6 209.9h0M279.4 208.9h0M281.1 209.0h0M243.1 210.3h0M246.1 211.1h0M247.3 210.2h0M249.5 210.9h0M250.7 210.4h0M252.2 211.4h0M254.6 210.7h0M256.5 211.4h0M258.4 211.2h0M259.2 210.8h0M261.7 211.5h0M262.3 210.2h0M264.6 211.3h0M266.6 211.4h0M267.6 210.7h0M269.7 210.7h0M271.9 211.1h0M273.0 210.7h0M275.0 211.0h0M276.4 210.2h0M278.2 210.3h0M246.5 212.9h0M250.0 212.6h0M252.1 211.7h0M253.2 212.6h0M255.2 212.3h0M257.4 212.1h0M258.9 212.3h0M259.9 212.3h0M261.5 212.4h0M263.8 212.7h0M265.2 212.1h0M266.5 211.8h0M269.5 212.6h0M270.5 212.1h0M271.8 211.9h0M274.0 212.6h0M275.1 211.8h0M277.9 212.0h0M249.8 214.1h0M251.0 213.3h0M253.2 213.2h0M254.3 214.1h0M255.8 213.1h0M258.0 213.2h0M258.9 214.2h0M261.0 214.2h0M262.4 214.4h0M265.2 214.2h0M266.6 214.4h0M267.3 214.3h0M269.3 213.2h0M271.3 213.1h0M273.4 213.7h0M274.3 214.4h0M250.4 215.1h0M253.1 215.4h0M255.5 215.2h0M257.4 215.1h0M259.3 215.9h0M260.5 215.4h0M261.6 215.2h0M263.1 215.1h0M265.6 215.1h0M268.8 215.1h0M271.8 215.6h0M256.3 216.7h0M257.7 216.3h0M262.2 217.4h0M264.0 216.7h0M266.3 216.6h0" stroke="#E8862B" stroke-width="3.40" stroke-linecap="round" fill="none"/>
<path d="M216.6 99.3h0M213.5 99.9h0M214.1 100.8h0M217.0 100.0h0M213.3 102.4h0M215.5 101.8h0M211.1 103.3h0M212.4 103.8h0M214.8 103.1h0M216.1 103.5h0M213.5 104.6h0M215.8 105.2h0M216.9 104.8h0M213.1 106.1h0M214.3 105.8h0M216.0 105.7h0" stroke="#E8862B" stroke-width="3.40" stroke-linecap="round" fill="none"/>
<path d="M207.9 131.8h0M210.3 132.0h0M202.4 133.7h0M204.4 132.8h0M206.0 132.8h0M207.6 133.1h0M209.2 133.0h0M213.2 133.2h0M215.0 133.6h0M201.0 134.8h0M202.0 134.3h0M205.9 135.3h0M207.5 134.3h0M208.6 135.4h0M211.1 135.1h0M212.0 134.8h0M214.6 134.5h0M216.5 135.3h0M198.5 136.4h0M201.6 135.5h0M202.5 136.4h0M205.4 136.4h0M207.0 136.1h0M208.6 136.3h0M209.5 135.8h0M211.0 136.1h0M212.7 135.7h0M215.7 136.1h0M217.2 136.1h0M218.0 136.4h0M194.0 138.2h0M195.8 137.6h0M196.9 138.0h0M198.7 137.9h0M200.1 137.2h0M202.5 138.2h0M204.3 137.3h0M206.1 137.1h0M207.7 138.0h0M209.0 137.0h0M210.9 138.2h0M212.3 137.8h0M192.8 139.5h0M194.5 138.9h0M196.4 138.8h0M198.6 139.0h0M199.6 138.8h0M201.6 139.1h0M202.7 139.7h0M204.6 139.0h0M206.1 139.1h0M208.1 139.0h0M209.6 139.0h0M191.8 141.2h0M193.4 140.4h0M195.7 141.3h0M197.6 140.4h0M198.8 140.0h0M201.0 141.2h0M201.7 141.3h0M204.3 141.1h0M206.1 140.2h0M208.0 141.2h0M208.7 140.5h0M211.3 140.4h0M190.9 142.5h0M193.2 142.6h0M195.1 141.8h0M196.7 142.7h0M198.4 142.7h0M199.2 142.0h0M201.9 142.8h0M203.1 141.9h0M204.7 141.7h0M207.1 141.8h0M207.6 142.0h0M188.5 144.1h0M191.8 144.0h0M194.3 143.3h0M195.6 144.3h0M196.5 143.2h0M198.6 143.3h0M200.1 143.1h0M202.9 143.4h0M203.7 144.3h0M205.9 143.9h0M206.7 143.5h0M208.4 143.7h0M188.2 145.1h0M189.0 145.1h0M190.5 145.5h0M192.4 144.9h0M194.2 145.1h0M195.7 145.1h0M197.7 145.1h0M199.3 145.4h0M201.2 144.8h0M202.5 145.7h0M205.1 144.9h0M205.8 144.9h0M208.2 145.2h0M209.6 144.9h0M189.1 147.1h0M190.9 147.1h0M192.7 146.9h0M194.1 146.1h0M196.1 147.2h0M197.1 146.6h0M199.3 146.7h0M200.6 147.3h0M201.6 146.6h0M204.5 146.5h0M205.9 146.2h0M207.0 146.3h0M209.1 147.2h0M210.8 147.1h0M213.0 146.4h0M214.6 146.3h0M216.0 146.1h0M217.8 145.9h0M220.4 145.9h0M222.3 146.7h0M187.3 148.7h0M188.9 147.9h0M190.6 148.3h0M193.2 148.4h0M195.3 147.8h0M195.7 148.6h0M197.7 147.7h0M199.3 147.8h0M200.9 148.2h0M203.6 148.0h0M205.5 148.2h0M206.8 147.8h0M208.0 148.2h0M209.8 148.6h0M211.3 147.4h0M213.8 148.4h0M215.4 147.4h0M216.1 148.4h0M218.6 147.6h0M220.8 147.9h0M221.4 148.4h0M222.9 147.8h0M185.6 149.2h0M186.6 149.0h0M188.9 150.1h0M190.5 149.7h0M191.7 149.2h0M193.3 150.1h0M195.7 149.0h0M197.2 149.6h0M198.9 149.8h0M200.8 149.2h0M202.3 148.9h0M203.7 149.9h0M205.3 149.6h0M207.1 149.7h0M208.5 149.6h0M213.0 148.9h0M215.9 148.9h0M217.8 150.2h0M222.4 149.5h0M224.0 149.3h0M187.3 150.9h0M190.1 151.5h0M190.6 150.5h0M192.5 150.7h0M195.1 150.7h0M195.8 150.6h0M197.4 150.6h0M200.3 151.2h0M201.9 150.4h0M203.7 150.8h0M204.8 150.9h0M206.1 150.4h0M186.7 151.9h0M188.1 153.0h0M189.8 152.8h0M191.7 152.5h0M193.4 152.6h0M195.7 152.7h0M197.2 152.2h0M199.1 152.4h0M200.4 152.8h0M202.6 153.1h0M203.5 152.1h0M206.2 153.2h0M207.7 152.5h0M186.3 154.3h0M188.2 153.9h0M189.2 154.4h0M191.1 153.9h0M193.3 154.4h0M195.0 153.4h0M195.7 153.5h0M197.6 153.5h0M199.0 153.5h0M201.7 154.5h0M203.6 153.4h0M205.5 153.8h0M206.1 154.2h0M184.8 155.0h0M187.5 155.2h0M188.1 156.0h0M190.5 155.8h0M191.7 155.2h0M193.1 155.2h0M194.9 155.2h0M196.6 155.5h0M198.5 154.9h0M200.6 155.7h0M202.8 155.9h0M204.2 155.0h0M206.3 155.8h0M207.2 155.4h0M186.1 156.7h0M187.5 157.4h0M189.7 157.2h0M191.0 157.6h0M192.2 157.2h0M195.0 157.5h0M196.4 156.3h0M197.4 156.6h0M199.6 157.1h0M201.8 157.4h0M203.0 157.0h0M205.2 156.5h0M190.5 158.0h0M191.4 157.8h0M193.2 158.0h0M195.9 158.3h0M197.0 158.7h0M198.2 158.5h0M201.2 158.1h0M201.9 157.8h0M203.3 158.4h0M205.8 158.2h0M188.3 159.3h0M192.9 159.2h0M196.3 160.3h0M198.1 159.3h0M199.7 159.2h0M200.8 160.4h0M203.2 159.3h0M204.9 160.0h0M206.9 160.6h0M197.1 161.3h0M199.4 161.5h0M200.2 161.2h0M202.5 161.8h0M203.6 161.6h0M206.0 160.7h0M200.4 163.3h0M201.3 163.4h0M203.0 162.9h0M204.4 163.0h0M205.8 162.3h0M196.6 164.8h0M199.4 164.9h0M200.5 164.6h0M201.6 163.6h0M204.3 164.7h0M205.2 163.8h0M207.1 164.7h0M196.2 165.2h0M197.9 165.6h0M200.4 165.9h0M201.7 166.2h0M202.6 165.7h0M204.5 166.0h0M207.0 166.0h0M207.7 166.2h0M179.5 167.5h0M195.1 167.8h0M196.6 167.7h0M199.4 167.9h0M200.0 167.9h0M201.9 166.8h0M203.9 167.0h0M206.2 167.6h0M207.4 166.8h0M180.6 168.9h0M182.7 169.0h0M194.0 169.2h0M196.6 168.6h0M197.6 168.2h0M199.6 169.0h0M201.1 168.6h0M203.8 168.8h0M205.2 168.7h0M207.0 169.1h0M208.8 168.6h0M183.3 170.5h0M185.2 169.8h0M187.6 170.3h0M191.6 170.9h0M193.2 170.6h0M195.9 170.9h0M196.8 169.9h0M198.8 170.2h0M201.0 170.7h0M201.9 170.5h0M203.3 170.8h0M206.0 170.3h0M208.4 169.8h0M189.8 171.4h0M190.7 171.3h0M192.5 171.0h0M194.5 171.5h0M196.9 171.8h0M198.1 172.2h0M200.2 172.3h0M201.5 171.6h0M203.7 171.8h0M205.2 172.4h0M207.0 172.2h0M208.7 171.6h0M210.4 172.2h0M192.7 173.7h0M193.9 172.9h0M195.1 173.0h0M196.5 173.4h0M198.4 173.9h0M201.2 172.5h0M201.6 173.3h0M204.2 173.2h0M206.1 173.0h0M207.9 173.6h0M209.6 173.4h0M190.2 175.3h0M191.7 175.0h0M192.3 175.0h0M194.5 174.4h0M196.4 174.2h0M198.2 174.8h0M199.1 174.4h0M201.3 174.8h0M202.8 174.9h0M204.3 174.7h0M206.3 175.3h0M207.6 174.9h0M209.3 174.0h0M189.1 175.5h0M192.6 175.6h0M193.5 176.6h0M195.1 175.9h0M197.7 176.3h0M198.5 176.3h0M199.9 175.5h0M202.1 175.5h0M203.4 176.7h0M206.2 175.7h0M206.9 176.1h0M208.6 175.7h0M211.4 176.6h0M191.6 177.9h0M192.4 177.4h0M194.0 177.9h0M195.9 178.0h0M197.5 177.4h0M199.8 178.2h0M201.8 177.2h0M202.8 177.5h0M205.1 177.4h0M206.4 177.3h0M208.2 177.7h0M211.3 177.9h0M190.0 178.7h0M191.5 179.2h0M194.2 179.4h0M195.8 178.9h0M197.1 178.4h0M199.4 178.6h0M200.4 179.2h0M202.6 179.7h0M203.4 178.6h0M205.8 179.6h0M207.7 179.7h0M209.3 179.1h0M210.7 178.5h0M191.2 180.8h0M195.3 180.2h0M195.9 180.7h0M197.6 181.0h0M200.3 181.0h0M201.5 181.2h0M203.6 180.5h0M204.4 180.4h0M207.2 180.3h0M207.9 180.0h0M210.1 181.0h0M210.9 180.6h0M194.3 182.0h0M195.9 181.9h0M196.5 182.0h0M199.5 182.5h0M200.9 182.2h0M202.4 181.8h0M203.6 181.7h0M205.3 182.4h0M206.7 181.8h0M209.7 182.4h0M211.1 181.9h0M213.1 182.1h0M195.2 183.4h0M195.8 183.8h0M198.0 183.3h0M199.6 183.4h0M201.8 183.6h0M202.8 183.7h0M204.2 183.6h0M206.0 183.4h0M208.6 184.0h0M210.1 183.4h0M211.7 184.0h0M212.9 183.8h0M197.8 185.4h0M199.4 185.3h0M200.9 185.2h0M201.7 184.4h0M203.4 185.1h0M205.6 185.2h0M208.0 185.2h0M209.3 184.4h0M210.1 185.1h0M211.8 184.8h0M198.1 185.8h0M199.8 186.5h0M201.4 186.9h0M202.7 186.8h0M204.6 186.3h0M206.6 186.0h0M208.2 185.9h0M209.2 187.1h0M211.5 187.0h0M198.5 187.6h0M200.4 187.3h0M202.3 188.5h0M204.5 188.2h0M205.7 187.9h0M208.0 188.0h0M209.0 187.8h0M210.6 188.4h0M201.9 188.9h0M205.0 189.7h0M206.0 189.9h0M208.6 189.7h0M209.7 189.8h0M211.2 189.0h0M207.4 190.8h0M209.1 190.3h0" stroke="#E8862B" stroke-width="3.40" stroke-linecap="round" fill="none"/>
<path d="M216.7 192.5h0M212.9 193.2h0M214.7 194.1h0M215.5 193.7h0M217.0 192.8h0M215.1 194.5h0M216.4 194.6h0M219.6 194.8h0M216.3 196.6h0M217.8 197.1h0M218.6 197.0h0M221.1 196.2h0M222.1 196.0h0M215.7 197.2h0M220.0 197.8h0M221.3 197.4h0M222.7 199.7h0" stroke="#E8862B" stroke-width="3.40" stroke-linecap="round" fill="none"/>
<path d="M371.5 167.7h0M367.5 169.5h0M368.5 168.8h0M370.7 168.5h0M372.3 169.5h0M363.5 169.7h0M364.0 170.5h0M365.9 170.6h0M368.5 170.2h0M370.2 171.0h0M372.0 170.2h0M373.0 169.8h0M363.4 172.1h0M366.1 171.5h0M366.6 171.8h0M369.5 171.9h0M370.7 171.4h0M372.6 171.4h0M361.1 173.8h0M363.0 173.4h0M364.3 173.9h0M365.8 173.9h0M368.3 173.3h0M369.1 173.1h0M372.0 172.8h0M373.5 173.4h0M360.3 175.1h0M361.8 175.2h0M363.9 174.3h0M365.0 175.2h0M367.7 174.3h0M368.8 174.7h0M370.6 175.1h0M371.7 174.2h0M359.0 176.9h0M361.2 177.0h0M362.3 175.9h0M365.3 176.0h0M366.0 176.7h0M368.1 176.3h0M369.1 176.7h0M357.6 177.9h0M358.8 178.5h0M360.6 177.3h0M362.0 177.5h0M363.9 178.3h0M365.4 178.1h0M367.8 177.8h0M368.4 178.2h0M370.6 177.6h0M354.7 179.5h0M356.5 179.1h0M357.6 179.0h0M359.8 179.9h0M360.8 179.6h0M363.4 179.6h0M365.0 179.0h0M366.6 179.6h0M368.7 179.7h0M369.4 179.2h0M355.8 180.2h0M357.4 180.6h0M359.3 180.7h0M360.8 180.8h0M361.7 181.2h0M363.9 180.8h0M364.9 181.3h0M366.7 180.7h0M352.6 182.5h0M355.0 182.7h0M356.2 182.4h0M358.0 182.1h0M359.5 182.2h0M361.1 181.7h0M363.4 182.6h0M364.2 181.9h0M352.5 183.1h0M353.3 183.5h0M354.9 183.9h0M356.5 183.4h0M359.0 183.6h0M360.4 184.2h0M361.6 183.7h0M364.4 183.2h0M365.2 184.1h0M349.1 185.8h0M350.6 185.5h0M353.0 185.5h0M354.6 185.4h0M356.8 185.1h0M357.3 185.6h0M359.3 184.7h0M361.4 184.8h0M363.6 185.3h0M364.0 185.6h0M350.8 186.8h0M351.8 187.0h0M353.3 187.4h0M355.4 186.8h0M356.9 186.2h0M358.8 187.4h0M360.6 186.2h0M362.7 186.1h0M364.0 186.2h0M349.6 188.9h0M351.2 187.8h0M352.5 188.3h0M354.3 188.7h0M356.2 188.1h0M358.5 188.3h0M359.0 187.8h0M361.4 187.6h0M348.8 189.6h0M350.2 189.7h0M351.4 189.7h0M353.1 189.1h0M355.9 189.8h0M356.9 189.3h0M358.5 189.9h0M348.0 191.3h0M349.1 190.9h0M350.5 191.2h0M352.3 190.5h0M354.5 191.4h0M356.8 190.6h0M358.4 190.7h0M348.9 192.1h0M350.7 192.8h0M352.4 193.1h0M353.6 192.4h0M354.8 192.9h0M356.6 192.9h0M339.2 193.5h0M340.8 194.3h0M344.2 194.1h0M346.3 193.8h0M348.0 193.7h0M349.9 193.8h0M350.6 193.6h0M352.5 194.4h0M337.3 195.5h0M338.5 195.6h0M340.2 195.7h0M341.3 195.3h0M343.5 195.8h0M345.5 196.0h0M347.3 196.3h0M348.3 196.0h0M350.7 195.1h0M352.3 195.2h0M353.9 195.8h0M342.3 197.1h0M343.9 197.5h0M346.4 197.6h0M347.4 197.1h0M349.3 196.5h0M351.7 197.7h0M353.2 196.5h0M340.7 199.0h0M341.3 198.7h0M342.9 199.1h0M344.7 198.6h0M346.5 198.5h0M349.0 198.3h0M349.9 198.4h0M352.0 198.9h0M340.8 200.5h0M342.0 200.5h0M344.7 200.3h0M346.3 199.5h0M348.2 200.6h0M348.9 200.4h0M350.4 200.5h0M338.5 202.1h0M340.6 201.0h0M342.0 201.9h0M343.7 201.2h0M344.7 201.1h0M346.8 201.5h0M348.4 202.2h0M350.5 202.1h0M339.6 203.3h0M341.2 203.1h0M343.1 203.2h0M344.8 202.4h0M345.8 203.5h0M348.3 203.2h0M350.0 202.4h0M341.1 204.1h0M343.0 204.2h0M345.3 204.9h0M346.1 204.1h0M340.7 205.7h0M344.8 205.9h0M346.0 205.9h0M340.4 207.5h0" stroke="#E8862B" stroke-width="3.40" stroke-linecap="round" fill="none"/>
<path d="M344.2 172.8h0M342.5 174.7h0M344.1 173.4h0M342.0 175.6h0M343.5 175.2h0M345.7 175.5h0M342.5 177.5h0M344.3 177.6h0M344.4 178.1h0M345.2 180.2h0M345.9 180.4h0M345.5 181.7h0" stroke="#E8862B" stroke-width="3.40" stroke-linecap="round" fill="none"/>
<path d="M349.0 157.2h0M351.5 156.3h0M354.0 157.5h0M356.5 158.8h0M352.5 172.8h0M355.0 174.5h0M358.5 168.0h0M361.0 170.0h0" stroke="#E8862B" stroke-width="3.40" stroke-linecap="round" fill="none"/>
<path d="M341.5 176.5h0M343.5 180.5h0M345.5 184.5h0M348.5 179.0h0M352.5 176.2h0M357.5 173.8h0" stroke="#E2B728" stroke-width="3.40" stroke-linecap="round" fill="none"/>
<path d="M254.7 143.9h0M257.4 143.6h0M258.4 144.2h0M260.1 142.7h0M248.8 144.6h0M249.7 146.0h0M252.3 145.0h0M247.0 147.2h0M250.0 146.3h0M252.3 148.1h0M254.0 146.0h0M255.9 146.0h0M248.8 149.2h0M255.2 150.1h0M248.5 150.1h0M252.7 151.5h0M254.7 151.0h0M246.3 152.4h0M249.8 153.4h0M249.8 152.2h0M248.1 175.0h0M251.1 174.8h0M301.5 103.3h0M305.0 104.1h0M310.9 103.0h0M292.3 107.3h0M294.8 105.8h0M306.7 105.0h0M311.7 106.1h0M291.2 109.2h0M296.6 109.2h0M299.7 110.8h0M305.5 108.8h0M309.7 109.1h0M312.4 108.8h0M284.1 113.1h0M286.9 111.0h0M290.3 112.2h0M295.4 112.5h0M301.3 110.5h0M304.7 111.2h0M306.2 111.4h0M310.2 112.9h0M278.9 115.4h0M311.7 114.7h0M276.9 119.1h0M279.3 119.0h0M285.7 117.9h0M308.1 116.9h0M316.7 118.9h0M316.0 120.2h0M273.6 122.8h0M274.2 122.0h0M309.8 123.6h0M273.0 127.6h0M310.9 126.2h0M315.3 125.5h0M271.7 128.1h0M309.6 128.1h0M315.6 130.4h0M316.8 128.3h0M310.2 131.1h0M313.5 130.7h0M310.2 135.0h0M313.5 134.5h0M313.7 140.9h0M308.9 143.8h0M311.8 142.2h0M314.8 144.8h0M310.7 152.5h0M309.2 158.2h0M310.6 157.0h0M322.4 175.4h0M220.2 167.7h0M352.0 172.0h0M356.0 173.5h0M351.0 176.0h0M222.9 141.6h0M220.7 168.4h0M195.6 162.6h0M189.3 170.7h0M207.6 129.4h0M213.5 132.0h0M240.8 65.7h0M245.4 64.1h0M248.7 65.1h0M242.6 67.4h0M244.2 67.9h0M239.9 69.9h0M237.0 72.9h0" stroke="#E2B728" stroke-width="3.40" stroke-linecap="round" fill="none"/>
<path d="M323.2 176.4h0M331.8 199.7h0M334.8 194.8h0M234.8 187.5h0M326.0 124.0h0M321.0 131.0h0M186.6 163.2h0M210.8 129.4h0M213.5 133.0h0M218.9 136.2h0" stroke="#E8862B" stroke-width="3.40" stroke-linecap="round" fill="none"/>
<path d="M248.7 153.3h0M248.9 154.4h0M244.1 155.8h0M245.7 155.9h0M248.7 155.4h0M243.3 157.8h0M246.5 157.7h0M247.4 158.1h0M241.5 160.7h0M243.5 158.9h0M244.9 160.8h0M242.7 164.2h0M246.8 163.4h0M248.4 163.9h0M243.1 166.5h0M244.9 165.1h0M248.3 166.3h0M240.9 168.2h0M244.2 167.2h0M246.6 167.9h0M249.5 167.3h0M242.0 168.7h0M243.7 169.5h0M249.1 169.3h0M247.4 170.5h0M245.7 173.6h0M248.4 172.7h0M244.5 175.1h0M249.0 175.4h0M250.7 175.2h0M317.5 106.3h0M299.4 107.9h0M310.8 107.1h0M296.6 115.1h0M301.3 112.9h0M286.3 117.9h0M293.9 121.2h0M302.1 119.0h0M280.7 123.4h0M284.2 125.0h0M297.1 125.2h0M303.9 124.0h0M311.8 122.7h0M285.5 128.6h0M288.8 131.0h0M296.3 129.5h0M299.5 126.2h0M308.3 126.7h0M269.2 131.4h0M277.3 131.3h0M282.9 133.8h0M288.7 135.1h0M307.5 135.6h0M277.9 136.4h0M303.6 139.8h0M264.4 143.7h0M272.1 144.4h0M274.4 145.5h0M297.5 143.3h0M302.6 143.5h0M263.0 150.0h0M274.0 145.9h0M255.0 153.7h0M268.3 150.4h0M290.5 152.3h0M257.5 155.9h0M260.5 157.6h0M293.1 159.5h0M303.7 155.4h0M243.4 163.9h0M249.4 161.8h0M253.9 163.1h0M259.7 162.7h0M263.3 163.4h0M294.5 164.6h0M244.2 169.1h0M258.1 166.2h0M260.7 164.4h0M276.5 167.9h0M290.5 165.4h0M249.5 171.6h0M258.6 171.0h0M274.2 169.7h0M249.0 177.8h0M267.6 176.9h0M274.0 174.7h0M276.2 175.0h0M284.9 178.3h0M295.5 178.5h0M259.4 179.5h0M271.3 179.4h0M280.6 183.0h0M292.6 182.2h0M251.7 187.6h0M255.2 184.5h0M260.8 186.6h0M267.9 185.4h0M276.1 187.2h0M282.4 188.3h0M291.8 184.6h0M253.3 188.6h0M261.2 188.5h0M264.8 188.7h0M283.0 191.8h0M293.2 189.2h0M267.0 197.3h0M285.5 195.6h0M249.7 200.3h0M286.7 200.3h0M258.2 202.8h0M264.2 204.1h0M265.9 205.3h0M276.3 205.9h0M251.7 211.1h0M198.9 135.3h0M194.1 140.2h0M199.2 138.1h0M200.9 137.6h0M209.2 139.9h0M201.2 141.5h0M203.4 145.3h0M203.9 149.2h0M206.9 147.2h0M211.8 148.0h0M216.8 147.5h0M222.1 146.5h0M186.1 151.3h0M188.3 150.1h0M198.0 153.9h0M203.2 152.3h0M218.2 150.4h0M192.0 158.4h0M198.5 155.5h0M204.7 154.9h0M196.7 160.5h0M189.6 175.3h0M198.6 175.2h0M201.3 174.1h0M205.5 175.7h0M191.6 176.9h0M200.9 176.9h0M198.9 180.8h0M204.4 184.6h0M199.0 187.4h0M213.1 184.7h0M232.4 201.8h0M239.6 171.6h0M236.0 160.0h0M338.0 178.0h0M341.0 183.0h0" stroke="#EC9446" stroke-width="3.40" stroke-linecap="round" fill="none"/>
<path d="M268.0 170.0h0M266.5 175.0h0M263.5 178.5h0M272.0 163.5h0M262.0 172.0h0" stroke="#E8862B" stroke-width="2.80" stroke-linecap="round" fill="none"/>
<path d="M205.4 70.7h0M203.5 72.2h0M205.2 72.2h0M206.6 71.1h0M208.1 72.4h0M210.7 71.3h0M205.0 72.9h0M206.5 72.8h0M207.1 72.8h0M209.5 72.7h0M210.5 72.7h0M202.5 75.2h0M203.4 74.1h0M205.1 74.3h0M207.2 75.1h0M208.2 74.4h0M211.0 75.0h0M211.7 74.1h0M202.2 76.7h0M204.3 76.8h0M206.1 75.5h0M207.6 75.9h0M208.9 76.8h0M211.4 75.9h0M213.3 76.6h0M203.8 77.7h0M204.6 77.4h0M206.9 77.4h0M208.6 77.0h0M209.9 77.5h0M211.4 77.1h0M203.7 79.0h0M206.6 79.0h0M208.4 79.0h0M209.0 79.6h0M211.0 78.7h0M212.3 78.8h0M206.3 80.2h0M208.0 80.7h0M210.4 80.5h0" stroke="#8D6A90" stroke-width="3.40" stroke-linecap="round" fill="none"/>
<path d="M238.7 64.0h0M232.8 65.1h0M237.8 65.0h0M241.1 65.4h0M228.6 66.7h0M230.6 66.8h0M232.0 66.3h0M233.7 65.9h0M235.7 66.5h0M237.6 67.0h0M238.0 66.4h0M222.9 68.3h0M224.3 68.5h0M226.1 67.4h0M227.3 68.0h0M229.9 68.2h0M231.1 67.5h0M232.5 67.5h0M233.9 68.5h0M236.2 67.2h0M237.4 68.3h0M217.9 69.9h0M220.1 69.9h0M222.1 68.9h0M222.6 69.6h0M224.4 68.9h0M226.9 69.6h0M228.4 69.4h0M230.3 70.0h0M232.5 69.3h0M233.8 69.2h0M236.7 69.2h0M221.4 70.3h0M222.3 71.4h0M224.2 71.1h0M225.8 70.8h0M228.2 71.4h0M229.5 71.5h0M230.7 71.3h0M213.1 71.8h0M215.3 72.8h0M217.0 71.8h0M218.1 73.0h0M220.0 72.7h0M222.1 72.9h0M222.6 71.6h0M225.1 72.4h0M226.1 72.9h0M229.0 72.6h0M231.4 71.9h0M210.5 74.3h0M211.8 74.0h0M213.8 73.2h0M216.2 73.7h0M218.4 73.8h0M221.1 73.2h0M222.7 73.9h0M223.7 73.2h0M225.7 74.2h0M210.3 75.3h0M211.0 75.2h0M212.5 74.8h0M214.2 75.6h0M216.2 75.2h0M218.3 75.4h0M220.5 75.5h0M222.0 75.0h0M222.7 75.0h0M224.7 74.8h0M210.5 76.5h0M212.6 77.0h0M214.5 77.4h0M216.0 76.6h0M216.7 77.2h0M219.2 76.9h0M221.0 76.2h0M222.4 77.4h0M223.5 77.3h0M213.1 77.6h0M214.2 77.8h0M217.1 78.5h0M218.3 77.8h0M220.4 77.7h0M221.9 78.3h0M224.0 78.4h0M212.1 79.4h0M216.0 79.6h0M217.2 79.1h0M218.8 79.1h0M221.0 80.3h0M221.9 79.4h0M218.2 81.5h0M219.6 81.1h0M220.2 82.0h0" stroke="#1D6A83" stroke-width="3.40" stroke-linecap="round" fill="none"/>
<path d="M234.3 78.3h0M223.7 95.3h0M225.0 94.5h0M185.0 130.2h0M249.5 64.5h0" stroke="#1D6A83" stroke-width="2.60" stroke-linecap="round" fill="none"/>
<path d="M243.4 65.3h0M247.2 64.0h0M249.4 65.4h0M234.5 66.4h0M240.9 67.8h0M242.0 67.0h0M231.4 70.7h0M236.1 69.8h0M239.3 69.9h0M232.3 72.6h0M236.7 72.1h0M239.2 71.2h0M232.9 73.8h0M238.0 73.3h0M231.2 73.5h0M228.5 71.5h0" stroke="#E2B728" stroke-width="3.40" stroke-linecap="round" fill="none"/>
</g>
<line x1="80.4" y1="38.2" x2="85.6" y2="230.6" stroke="#2a2a2a" stroke-width="0.75"/>
<line x1="76.3" y1="42.2" x2="83.1" y2="41.9" stroke="#2a2a2a" stroke-width="0.75"/>
<text x="74.1" y="49.7" font-size="11.00" fill="#111" text-anchor="end" font-weight="normal">40</text>
<line x1="76.9" y1="65.7" x2="83.7" y2="65.3" stroke="#2a2a2a" stroke-width="0.75"/>
<text x="75.1" y="72.8" font-size="11.00" fill="#111" text-anchor="end" font-weight="normal">30</text>
<line x1="77.6" y1="89.2" x2="84.4" y2="88.8" stroke="#2a2a2a" stroke-width="0.75"/>
<text x="76.2" y="95.8" font-size="11.00" fill="#111" text-anchor="end" font-weight="normal">20</text>
<line x1="78.2" y1="112.6" x2="85.0" y2="112.2" stroke="#2a2a2a" stroke-width="0.75"/>
<text x="77.2" y="118.8" font-size="11.00" fill="#111" text-anchor="end" font-weight="normal">10</text>
<line x1="78.8" y1="136.1" x2="85.6" y2="135.7" stroke="#2a2a2a" stroke-width="0.75"/>
<text x="78.3" y="141.9" font-size="11.00" fill="#111" text-anchor="end" font-weight="normal">0</text>
<line x1="79.5" y1="159.5" x2="86.3" y2="159.1" stroke="#2a2a2a" stroke-width="0.75"/>
<text x="79.3" y="164.9" font-size="11.00" fill="#111" text-anchor="end" font-weight="normal">−10</text>
<line x1="80.1" y1="182.9" x2="86.9" y2="182.5" stroke="#2a2a2a" stroke-width="0.75"/>
<text x="80.4" y="188.0" font-size="11.00" fill="#111" text-anchor="end" font-weight="normal">−20</text>
<line x1="80.7" y1="206.4" x2="87.5" y2="206.0" stroke="#2a2a2a" stroke-width="0.75"/>
<text x="81.4" y="211.0" font-size="11.00" fill="#111" text-anchor="end" font-weight="normal">−30</text>
<line x1="81.4" y1="229.8" x2="88.2" y2="229.4" stroke="#2a2a2a" stroke-width="0.75"/>
<text x="82.5" y="234.1" font-size="11.00" fill="#111" text-anchor="end" font-weight="normal">−40</text>
<text x="53.5" y="133.0" font-size="11.30" fill="#000" text-anchor="middle" font-weight="bold" transform="rotate(90.0 53.5 133.0)">tSNE3</text>
<line x1="85.6" y1="230.6" x2="202.6" y2="287.3" stroke="#2a2a2a" stroke-width="0.75"/>
<line x1="86.3" y1="231.3" x2="81.8" y2="231.9" stroke="#2a2a2a" stroke-width="0.75"/>
<line x1="100.2" y1="238.0" x2="95.8" y2="238.6" stroke="#2a2a2a" stroke-width="0.75"/>
<line x1="114.2" y1="244.7" x2="109.7" y2="245.3" stroke="#2a2a2a" stroke-width="0.75"/>
<line x1="128.1" y1="251.5" x2="123.6" y2="252.1" stroke="#2a2a2a" stroke-width="0.75"/>
<line x1="142.1" y1="258.2" x2="137.6" y2="258.8" stroke="#2a2a2a" stroke-width="0.75"/>
<line x1="156.1" y1="264.9" x2="151.6" y2="265.5" stroke="#2a2a2a" stroke-width="0.75"/>
<line x1="170.0" y1="271.6" x2="165.5" y2="272.2" stroke="#2a2a2a" stroke-width="0.75"/>
<line x1="183.9" y1="278.3" x2="179.4" y2="278.9" stroke="#2a2a2a" stroke-width="0.75"/>
<line x1="197.9" y1="285.1" x2="193.4" y2="285.7" stroke="#2a2a2a" stroke-width="0.75"/>
<text x="79.3" y="246.5" font-size="11.00" fill="#111" text-anchor="middle" font-weight="normal">−40</text>
<text x="94.5" y="253.0" font-size="11.00" fill="#111" text-anchor="middle" font-weight="normal">−30</text>
<text x="108.3" y="260.2" font-size="11.00" fill="#111" text-anchor="middle" font-weight="normal">−20</text>
<text x="119.7" y="267.3" font-size="11.00" fill="#111" text-anchor="middle" font-weight="normal">−10</text>
<text x="131.9" y="273.5" font-size="11.00" fill="#111" text-anchor="middle" font-weight="normal">0</text>
<text x="146.1" y="280.6" font-size="11.00" fill="#111" text-anchor="middle" font-weight="normal">10</text>
<text x="160.0" y="287.7" font-size="11.00" fill="#111" text-anchor="middle" font-weight="normal">20</text>
<text x="174.5" y="294.8" font-size="11.00" fill="#111" text-anchor="middle" font-weight="normal">30</text>
<text x="189.3" y="302.0" font-size="11.00" fill="#111" text-anchor="middle" font-weight="normal">40</text>
<text x="118.3" y="286.5" font-size="11.30" fill="#000" text-anchor="middle" font-weight="bold" transform="rotate(27.0 118.3 286.5)">tSNE2</text>
<line x1="202.6" y1="287.3" x2="440.4" y2="255.3" stroke="#2a2a2a" stroke-width="0.75"/>
<line x1="436.7" y1="256.3" x2="435.2" y2="258.3" stroke="#2a2a2a" stroke-width="0.75"/>
<line x1="412.0" y1="259.6" x2="410.5" y2="261.6" stroke="#2a2a2a" stroke-width="0.75"/>
<line x1="386.7" y1="262.9" x2="385.2" y2="264.9" stroke="#2a2a2a" stroke-width="0.75"/>
<line x1="361.6" y1="266.2" x2="360.1" y2="268.2" stroke="#2a2a2a" stroke-width="0.75"/>
<line x1="336.9" y1="269.5" x2="335.4" y2="271.5" stroke="#2a2a2a" stroke-width="0.75"/>
<line x1="311.3" y1="272.8" x2="309.8" y2="274.8" stroke="#2a2a2a" stroke-width="0.75"/>
<line x1="286.2" y1="276.2" x2="284.7" y2="278.2" stroke="#2a2a2a" stroke-width="0.75"/>
<line x1="260.1" y1="279.6" x2="258.6" y2="281.6" stroke="#2a2a2a" stroke-width="0.75"/>
<line x1="233.2" y1="283.2" x2="231.7" y2="285.2" stroke="#2a2a2a" stroke-width="0.75"/>
<line x1="206.3" y1="286.7" x2="204.8" y2="288.7" stroke="#2a2a2a" stroke-width="0.75"/>
<text x="209.9" y="304.0" font-size="11.00" fill="#111" text-anchor="middle" font-weight="normal">50</text>
<text x="236.0" y="300.0" font-size="11.00" fill="#111" text-anchor="middle" font-weight="normal">40</text>
<text x="262.6" y="296.1" font-size="11.00" fill="#111" text-anchor="middle" font-weight="normal">30</text>
<text x="288.6" y="292.4" font-size="11.00" fill="#111" text-anchor="middle" font-weight="normal">20</text>
<text x="315.3" y="289.3" font-size="11.00" fill="#111" text-anchor="middle" font-weight="normal">10</text>
<text x="340.5" y="285.8" font-size="11.00" fill="#111" text-anchor="middle" font-weight="normal">0</text>
<text x="366.0" y="282.9" font-size="11.00" fill="#111" text-anchor="middle" font-weight="normal">−10</text>
<text x="391.2" y="279.8" font-size="11.00" fill="#111" text-anchor="middle" font-weight="normal">−20</text>
<text x="415.7" y="276.9" font-size="11.00" fill="#111" text-anchor="middle" font-weight="normal">−30</text>
<text x="440.8" y="273.0" font-size="11.00" fill="#111" text-anchor="middle" font-weight="normal">−40</text>
<text x="333.5" y="298.3" font-size="11.30" fill="#000" text-anchor="middle" font-weight="bold" transform="rotate(-8.0 333.5 298.3)">tSNE1</text>
<text x="169.3" y="38.1" fill="#1F6C85" font-weight="bold" font-size="8.77"><tspan font-size="13.1">Early primed:</tspan> signaling by
<tspan x="169.3" y="48.6">NODAL, EGFR, PDGF, TGF-beta, and</tspan>
<tspan x="169.3" y="59.1">NGF (FDR&lt;0.05)</tspan>
</text>
<text x="93.3" y="80.3" fill="#8D6C90" font-weight="bold" font-size="8.77"><tspan font-size="13.1">Late primed:</tspan> germ
<tspan x="93.3" y="90.8">layer specification, cell</tspan>
<tspan x="93.3" y="101.3">differentiation,</tspan>
<tspan x="93.3" y="111.8">organogenesis</tspan>
<tspan x="93.3" y="122.3">(FDR&lt;0.05).</tspan>
</text>
<text x="336.5" y="79.8" fill="#E3B72A" font-weight="bold" font-size="8.77"><tspan font-size="13.1">Quiescent:</tspan> less
<tspan x="336.5" y="90.3">proliferative, not</tspan>
<tspan x="336.5" y="100.8">differentiated, equally</tspan>
<tspan x="336.5" y="111.3">pluripotent</tspan>
</text>
<text x="163.4" y="244.3" fill="#E8872C" font-weight="bold" font-size="8.77"><tspan font-size="13.1">Proliferative:</tspan> TRPSC pathway upregulates
<tspan x="163.4" y="254.8">proliferation but not differentiation</tspan>
</text>
<text x="13.8" y="319.0" font-size="11.00" fill="#000" text-anchor="start" font-weight="normal">b)</text>
<circle cx="116.3" cy="403.6" r="44.2" fill="#E2B728"/>
<circle cx="228.8" cy="407" r="39.2" fill="#E8862B"/>
<circle cx="330.8" cy="414.7" r="32.9" fill="#1D6A83"/>
<circle cx="411.3" cy="425.7" r="22.1" fill="#8D6A90"/>
<text x="116.3" y="411.6" font-size="20.00" fill="#fff" text-anchor="middle" font-weight="normal">1</text>
<text x="228.8" y="413.8" font-size="20.00" fill="#fff" text-anchor="middle" font-weight="normal">2</text>
<text x="330.8" y="421.8" font-size="20.00" fill="#fff" text-anchor="middle" font-weight="normal">3</text>
<text x="411.3" y="433.4" font-size="20.00" fill="#fff" text-anchor="middle" font-weight="normal">4</text>
<rect x="60" y="454.8" width="390" height="7.6" fill="#000"/>
<polygon points="38.3,458.6 65,443.2 65,474" fill="#000"/>
<polygon points="472.2,458.6 444,443.2 444,474" fill="#000"/>
<text x="111.4" y="492.6" font-size="12.50" fill="#111" text-anchor="middle" font-weight="normal">Quiescent</text>
<text x="231.4" y="492.2" font-size="12.50" fill="#111" text-anchor="middle" font-weight="normal">Proliferative</text>
<text x="330.7" y="485.0" font-size="12.50" fill="#111" text-anchor="middle" font-weight="normal">Early</text>
<text x="330.7" y="500.2" font-size="12.50" fill="#111" text-anchor="middle" font-weight="normal">primed</text>
<text x="411.3" y="484.4" font-size="12.50" fill="#111" text-anchor="middle" font-weight="normal">Late</text>
<text x="411.3" y="499.8" font-size="12.50" fill="#111" text-anchor="middle" font-weight="normal">primed</text>
<text x="465.6" y="17.2" font-size="11.50" fill="#000" text-anchor="start" font-weight="normal">c)</text>
<text x="573.5" y="15.8" font-size="7.45" fill="#000" text-anchor="middle" font-weight="bold">Subpopulation 1 vs</text>
<text x="573.5" y="23.2" font-size="7.45" fill="#000" text-anchor="middle" font-weight="bold">Subpopulations 2,3 and 4</text>
<path d="M577.1 106.8h0M575.9 96.3h0M577.5 105.7h0M576.3 111.5h0M579.9 103.1h0M571.3 112.8h0M583.6 112.8h0M570.8 101.7h0M578.1 94.8h0M577.5 102.6h0M564.7 112.0h0M569.2 105.3h0M570.2 111.5h0M575.2 113.5h0M582.1 107.0h0M578.3 105.5h0M578.7 105.9h0M572.2 106.7h0M578.1 94.4h0M577.7 98.3h0M570.6 109.4h0M567.1 109.9h0M575.1 100.0h0M575.2 98.1h0M577.8 95.4h0M568.7 113.7h0M575.9 96.6h0M575.6 94.9h0M579.3 113.1h0M573.9 99.7h0M572.0 112.9h0M577.3 95.3h0M570.0 112.5h0M565.4 112.7h0M573.2 99.3h0M575.3 104.6h0M581.3 111.5h0M579.5 112.3h0M574.2 112.5h0M570.9 111.1h0M577.5 95.1h0M584.0 109.6h0M573.7 111.1h0M577.1 97.9h0M588.0 112.7h0M570.7 111.1h0M574.4 99.9h0M567.2 109.7h0M578.1 112.9h0M578.3 110.6h0M575.2 108.4h0M576.0 95.4h0M581.4 104.3h0M568.1 111.6h0M578.0 96.6h0M569.3 110.5h0M580.6 100.6h0M586.3 111.4h0M576.8 97.3h0M568.9 107.4h0M587.7 113.4h0M580.5 110.7h0M583.0 110.4h0M573.2 103.8h0M581.1 111.7h0M569.3 113.1h0M581.3 104.6h0M573.1 103.4h0M574.3 96.4h0M570.2 113.6h0M568.4 106.9h0M573.0 111.7h0M570.7 104.3h0M583.6 108.5h0M576.8 94.9h0M577.0 101.7h0M565.1 112.2h0M586.5 113.6h0M581.3 101.5h0M579.5 113.6h0M579.9 106.2h0M586.2 109.3h0M577.2 113.0h0M580.2 100.7h0M578.2 100.7h0M579.8 99.4h0M579.7 108.7h0M578.4 96.8h0M581.3 107.5h0M576.6 97.7h0M574.5 103.2h0M577.6 104.1h0M579.5 113.0h0M577.6 94.5h0M574.9 100.9h0M576.9 100.7h0M582.0 107.0h0M582.2 112.9h0M578.6 113.5h0M571.6 106.2h0M576.0 101.6h0M581.7 103.4h0M565.5 110.4h0M579.7 109.6h0M568.6 111.3h0M577.1 96.7h0M582.9 107.0h0M579.4 109.2h0M574.5 111.3h0M579.7 99.1h0M575.3 97.3h0M573.4 104.1h0M576.0 112.3h0M578.8 98.4h0M581.1 101.3h0M569.1 110.1h0M572.2 106.8h0M574.1 111.1h0M576.0 103.2h0M583.0 109.4h0M575.9 94.8h0M564.5 113.0h0M572.8 97.5h0M576.8 101.3h0M582.0 109.5h0M566.8 113.6h0M567.9 106.8h0M573.9 98.5h0M565.3 112.2h0M575.4 103.1h0M578.1 103.1h0M580.0 99.1h0M572.5 101.9h0M570.7 106.4h0M575.4 113.6h0M572.5 101.2h0M572.8 110.1h0M576.3 101.6h0M579.5 103.4h0M581.5 108.0h0M573.5 96.7h0M577.3 96.0h0M575.0 112.3h0M581.5 103.2h0M577.4 108.3h0M578.1 97.3h0M575.9 95.8h0M572.3 102.6h0M579.5 101.0h0M578.9 102.8h0M585.0 111.1h0M578.2 94.9h0M580.5 105.1h0M584.4 109.3h0M574.9 97.9h0M574.6 112.9h0M580.1 104.8h0M568.3 106.1h0M572.3 99.0h0M573.2 99.2h0M581.8 109.0h0M567.7 112.2h0M579.6 105.5h0M577.6 98.3h0M576.0 95.7h0M573.9 95.6h0M576.7 111.0h0M580.8 109.8h0M576.4 102.9h0M576.5 98.2h0M573.6 109.5h0M579.2 98.2h0M583.9 111.2h0M576.2 95.2h0M571.7 104.3h0M576.1 105.1h0M569.6 103.6h0M576.1 95.1h0M581.6 107.8h0M575.9 104.5h0M571.0 101.7h0M574.7 105.1h0M578.2 95.4h0M575.5 110.2h0M574.5 112.4h0M579.5 98.9h0M573.0 106.3h0M578.7 111.4h0M573.9 96.2h0M571.6 99.7h0M569.9 111.4h0M574.0 101.8h0M578.4 108.7h0M581.7 112.7h0M576.3 112.4h0M569.5 110.5h0M575.1 105.2h0M574.4 108.3h0M570.8 105.2h0M579.0 111.2h0M576.4 102.9h0M576.9 98.0h0M574.1 97.9h0M579.3 100.6h0M574.9 96.8h0M584.7 109.4h0M587.2 111.0h0M573.6 97.1h0M581.0 110.7h0M567.4 110.4h0M575.4 98.5h0M572.6 99.5h0M579.5 107.8h0M568.5 113.6h0M580.9 101.9h0M574.2 95.2h0M580.2 105.7h0M579.1 105.8h0M566.3 111.5h0M564.9 112.7h0M576.3 104.8h0M570.9 104.4h0M569.3 111.6h0M579.9 98.3h0M573.7 96.2h0M587.3 113.2h0M580.6 106.6h0M575.4 109.2h0M575.0 105.5h0M569.3 103.7h0M580.0 101.5h0M575.0 111.6h0M575.1 100.6h0M568.5 111.4h0M568.3 105.6h0M578.0 97.0h0M580.1 101.4h0M574.8 103.1h0M576.1 103.8h0M577.4 94.8h0M584.9 110.4h0M578.9 100.5h0M575.3 98.9h0M578.5 96.9h0M579.1 101.7h0M575.1 100.1h0M571.4 101.0h0M575.4 108.9h0M572.4 113.6h0M577.7 102.9h0M585.9 110.8h0M574.1 102.3h0M576.9 102.4h0M574.4 105.2h0M576.6 94.4h0M579.0 101.5h0M573.9 94.9h0M579.3 103.4h0M573.9 110.4h0M568.4 113.3h0M568.4 108.3h0M584.8 110.5h0M576.2 104.8h0M576.4 95.2h0M576.6 94.5h0M572.4 99.0h0M579.7 103.8h0M586.8 113.4h0M575.4 111.9h0M576.0 111.8h0M570.1 103.5h0M575.6 95.7h0M577.6 105.3h0M571.9 108.5h0M576.8 102.5h0M580.6 109.9h0M566.0 109.7h0M566.1 110.6h0M582.0 112.0h0M583.5 108.0h0M571.5 100.4h0M578.0 94.7h0M586.1 113.1h0M575.7 107.3h0M574.9 95.0h0M582.9 105.4h0M575.7 101.0h0M577.5 94.9h0M570.8 103.7h0M575.5 103.2h0M566.0 111.3h0M570.2 105.3h0M579.0 107.0h0M572.0 106.7h0M574.9 104.1h0M576.4 99.8h0M577.9 94.4h0M573.3 100.8h0M585.5 112.6h0M577.2 99.6h0M571.6 108.6h0M576.8 101.9h0M577.9 103.9h0M572.9 100.3h0M586.5 110.5h0M578.3 96.5h0M565.0 113.4h0M574.5 110.2h0M570.8 103.2h0M569.5 105.0h0M580.4 112.9h0M578.0 104.8h0M575.7 108.3h0M572.6 111.1h0M579.5 100.5h0M566.7 113.0h0M577.1 99.0h0M573.3 100.0h0M571.7 107.4h0M574.9 99.0h0M582.2 102.6h0M577.0 109.2h0M580.4 100.5h0M573.7 107.3h0M585.2 112.8h0M565.8 113.0h0M575.8 104.5h0M573.7 101.9h0M572.0 99.8h0M579.7 111.1h0M571.2 113.0h0M578.1 101.0h0M568.6 110.0h0M580.5 108.6h0M568.7 108.5h0M576.8 101.3h0M578.7 96.4h0M575.7 96.5h0M574.3 99.2h0M574.0 109.3h0M578.3 96.0h0M573.1 110.5h0M573.4 108.5h0M574.0 107.9h0M577.5 111.4h0M576.4 99.3h0M576.6 98.4h0M582.0 111.7h0M574.6 97.3h0M576.5 113.6h0M577.1 104.9h0M576.8 95.2h0M572.2 99.1h0M580.4 104.9h0M565.8 112.9h0M580.2 100.7h0M579.4 112.9h0M581.9 112.1h0M572.8 102.7h0M582.0 111.0h0M580.2 105.4h0M573.0 107.9h0M576.9 95.2h0M576.7 106.0h0M578.3 101.1h0M575.5 96.5h0M577.4 98.6h0M578.4 98.0h0M579.2 98.4h0M576.8 95.4h0M579.4 105.4h0M575.4 99.2h0M569.7 107.4h0M581.1 100.6h0M569.7 108.3h0M574.4 111.2h0M585.8 109.8h0M571.3 113.2h0M579.6 112.5h0M573.0 99.8h0M575.0 113.2h0M581.9 104.1h0M566.2 113.4h0M569.6 111.6h0M580.8 110.8h0M572.2 103.9h0M571.0 111.5h0M582.0 111.7h0M577.0 109.5h0M575.9 98.8h0M584.4 110.3h0M575.1 96.5h0M583.0 104.9h0M571.4 106.2h0M587.3 113.3h0M575.0 99.2h0M576.3 105.3h0M586.4 110.1h0M572.8 102.5h0M575.4 113.6h0M581.7 108.4h0M577.2 101.2h0M568.0 112.0h0M571.2 109.3h0M576.2 97.6h0M582.4 102.9h0M576.8 110.2h0M582.4 112.0h0M584.3 113.7h0M578.6 98.1h0M570.4 112.9h0M571.6 101.2h0M575.5 106.3h0M576.5 95.5h0M574.6 97.9h0M575.3 99.5h0M573.6 96.4h0M573.7 98.6h0M576.5 105.0h0M583.8 112.0h0M572.2 109.5h0M571.3 113.0h0M579.7 106.5h0M579.7 108.6h0M573.5 112.7h0M584.1 106.6h0M577.3 98.5h0M572.9 113.6h0M573.1 101.3h0M575.4 104.5h0M588.6 113.6h0M573.5 99.3h0M573.2 103.4h0M576.8 108.3h0M572.7 109.7h0M579.2 108.0h0M569.6 110.4h0M574.3 100.8h0M576.4 95.7h0M574.2 101.0h0M572.7 98.6h0M566.5 112.2h0M578.5 102.0h0M573.8 111.6h0M576.8 98.4h0M569.4 112.9h0M567.3 112.0h0M568.2 107.7h0M575.6 96.3h0M578.4 105.6h0M579.2 100.0h0M572.9 108.1h0M567.2 107.6h0M579.8 107.8h0M577.3 94.8h0M577.4 102.4h0M571.8 113.6h0M579.0 108.9h0M573.1 112.7h0M580.7 105.7h0M577.0 98.6h0M582.3 111.9h0M576.4 96.8h0M576.1 108.7h0M581.1 112.2h0M576.1 94.7h0M579.8 101.2h0M586.2 111.4h0M572.1 103.2h0M569.8 112.9h0M578.9 104.3h0M584.7 109.1h0M575.3 108.6h0M587.4 112.4h0M585.7 112.3h0M577.0 105.0h0M572.6 104.6h0M579.1 96.6h0M576.9 98.8h0M583.8 112.4h0M584.4 109.9h0M577.7 110.7h0M573.5 98.5h0M569.7 104.9h0M568.0 113.5h0M578.0 94.7h0M573.7 102.5h0M578.9 102.2h0M577.8 108.2h0M571.8 99.1h0M575.3 111.3h0M573.4 112.2h0M571.3 104.4h0M572.3 105.4h0M573.6 104.4h0M570.1 102.8h0M571.8 102.2h0M576.6 95.4h0M574.6 106.5h0M578.6 103.2h0M578.6 100.2h0M584.3 106.1h0M578.9 98.3h0M574.9 107.7h0M582.0 104.5h0M576.5 105.3h0M583.3 107.2h0M567.1 109.3h0M580.4 101.0h0M577.1 100.8h0M574.1 100.4h0M570.0 103.9h0M574.8 112.4h0M574.4 105.8h0M580.9 113.3h0M572.0 105.3h0M573.9 109.5h0M566.6 110.7h0M578.9 96.6h0M580.5 102.3h0M581.6 107.4h0M581.5 111.0h0M582.0 104.5h0M583.2 112.7h0M577.0 112.4h0M573.5 95.6h0M571.7 110.6h0M567.3 109.2h0M578.1 97.0h0M573.4 107.9h0M569.6 104.1h0M586.1 113.5h0M576.0 109.5h0M578.7 96.0h0M571.1 106.4h0M584.8 109.7h0M574.1 96.9h0M574.9 98.3h0M570.5 106.4h0M579.5 97.3h0M579.1 111.3h0M584.7 111.4h0M566.2 113.3h0M574.1 101.0h0M578.4 96.8h0M572.0 101.2h0M581.1 101.6h0M568.7 107.0h0M571.8 110.9h0M572.7 101.3h0M570.0 111.6h0M579.6 102.3h0M579.2 108.3h0M576.7 97.2h0M571.7 110.9h0M577.0 96.2h0M579.0 110.1h0M587.9 112.9h0M576.6 107.0h0M569.0 105.2h0M573.1 103.8h0M582.6 110.5h0M570.8 112.9h0M573.5 100.3h0M577.1 110.0h0M585.1 111.5h0M574.1 94.7h0M580.4 106.6h0M584.2 108.1h0M570.9 105.9h0M578.2 104.7h0M579.1 108.6h0M576.2 99.6h0M581.6 105.7h0M576.3 101.9h0M574.4 95.6h0M572.9 99.7h0M572.5 103.6h0M580.9 107.0h0M578.7 99.6h0M575.8 110.7h0M577.8 111.0h0M568.5 105.9h0M579.0 103.8h0M581.5 104.3h0M568.1 111.6h0M576.0 113.6h0M575.0 107.2h0M582.5 110.3h0M586.1 113.1h0M576.7 104.4h0M573.7 99.4h0M571.6 112.1h0M571.4 113.4h0M576.4 103.3h0M578.0 110.3h0M583.9 112.9h0M570.4 111.7h0M580.5 111.9h0M578.4 98.5h0M573.8 113.2h0M570.6 108.5h0M573.9 95.1h0M580.4 106.1h0M574.5 94.7h0M580.3 106.8h0M569.5 113.4h0M573.7 97.1h0M572.3 108.0h0M568.5 107.4h0M588.6 113.5h0M578.4 100.1h0M570.6 110.8h0M572.2 104.8h0M583.5 106.6h0M572.9 108.5h0M576.6 94.8h0M573.6 113.4h0M570.5 102.7h0M579.9 108.9h0M576.7 97.7h0M575.8 97.2h0M582.5 108.0h0M581.4 108.2h0M572.7 111.1h0M577.2 111.6h0M569.2 111.9h0M575.3 111.1h0M575.0 109.5h0M576.8 94.5h0M573.9 97.7h0M568.0 108.2h0M574.5 101.7h0M565.9 110.1h0M570.6 111.6h0M584.0 108.0h0M573.5 101.2h0M569.4 108.6h0M575.3 95.9h0M578.2 100.0h0M573.1 96.7h0M573.7 109.3h0M585.5 112.9h0M581.5 109.2h0M569.0 105.5h0M571.2 107.9h0M567.3 113.4h0M569.5 103.9h0M574.5 109.4h0M570.5 104.9h0M582.3 113.5h0M583.0 112.5h0M561.8 113.7h0M566.7 112.3h0M571.3 113.2h0M588.2 113.6h0M567.1 113.3h0M564.3 114.1h0M557.3 112.6h0M577.2 112.1h0M592.2 113.4h0M581.0 111.8h0M564.3 112.4h0M580.9 111.7h0M588.3 113.6h0M579.6 114.0h0M572.1 113.2h0M558.6 113.2h0M568.4 112.9h0M566.7 113.8h0M571.2 113.0h0M562.5 112.5h0M565.2 114.0h0M568.9 113.1h0M561.9 112.7h0M582.1 112.8h0M582.1 114.2h0M570.8 113.3h0M558.7 113.2h0M558.4 112.9h0M577.9 113.0h0M568.3 113.6h0M557.3 113.3h0M589.1 112.7h0M566.0 112.5h0M563.2 113.0h0M579.0 111.7h0M569.7 112.7h0M591.0 112.2h0M579.4 112.6h0M571.5 113.1h0M566.5 112.0h0M588.7 113.2h0M589.8 114.1h0M561.4 112.9h0M567.7 113.3h0M592.3 113.8h0M563.5 113.6h0M581.4 113.6h0M556.4 112.8h0M570.9 113.6h0M574.5 112.5h0M576.5 112.6h0M577.0 112.0h0M592.0 113.3h0M569.1 111.9h0M567.9 112.3h0M581.9 112.4h0M591.8 112.1h0M562.2 112.6h0M574.4 112.7h0M570.0 113.5h0M583.9 112.8h0M565.1 113.6h0M568.3 113.8h0M575.3 113.9h0M558.7 114.0h0M560.1 112.4h0M560.5 113.0h0M584.7 113.0h0M562.4 111.9h0M588.3 114.1h0M565.7 112.9h0M585.6 113.2h0M582.7 113.6h0M582.7 113.4h0M568.6 112.2h0M587.3 112.0h0M577.2 113.1h0M582.3 112.6h0M586.9 112.1h0M561.0 113.2h0M581.0 113.6h0M563.2 114.2h0M577.9 111.7h0M592.0 113.9h0M581.6 113.1h0M579.6 113.2h0M590.7 111.6h0M558.2 112.3h0M560.7 114.1h0M566.9 112.3h0M592.9 113.9h0M568.5 114.2h0M576.3 113.0h0M570.1 113.4h0M585.8 112.0h0M566.8 113.2h0M579.1 112.2h0M592.4 113.2h0M581.9 112.8h0M585.8 113.8h0M562.8 113.9h0M590.7 113.6h0M574.3 113.9h0M568.3 114.2h0M577.2 113.8h0M579.3 113.5h0M564.7 113.0h0M569.8 113.5h0M558.3 114.1h0M589.2 113.4h0M559.3 113.7h0M574.1 111.6h0M563.8 111.9h0M574.2 113.1h0M586.0 113.2h0M558.5 112.8h0M580.5 112.6h0M566.6 111.8h0M588.1 111.6h0M572.7 112.0h0M583.0 113.8h0M557.4 113.8h0M560.8 114.0h0M569.6 112.2h0M567.8 112.9h0M556.8 113.7h0M591.6 114.2h0M575.7 112.1h0M585.5 112.3h0M571.0 112.1h0M586.8 112.2h0M592.6 114.0h0M591.3 113.2h0M582.3 113.6h0M589.8 114.2h0M577.6 113.6h0M570.7 113.3h0M580.5 112.1h0M569.8 112.5h0M569.4 113.5h0M589.6 113.4h0M559.9 113.3h0M583.6 113.7h0M583.7 112.8h0M581.4 113.8h0M560.3 113.9h0M569.3 113.1h0M556.7 112.9h0M571.2 113.4h0M576.1 111.7h0M563.9 111.9h0M568.2 112.2h0M560.4 111.6h0M572.2 111.7h0M564.5 113.2h0M582.3 113.8h0M566.4 112.4h0M591.2 113.4h0M563.1 113.3h0M592.7 113.8h0M579.7 113.2h0M580.0 113.7h0M579.0 111.9h0M587.8 112.6h0M574.9 112.7h0M560.6 112.0h0M581.7 113.0h0M580.8 113.1h0M570.5 113.6h0M578.4 112.7h0M575.3 114.1h0M579.4 113.0h0M578.2 112.7h0M590.6 113.8h0M573.6 111.6h0M583.5 113.4h0M583.4 111.6h0M571.2 111.9h0M561.0 111.6h0M574.4 113.6h0M587.2 112.5h0M590.8 112.0h0M585.7 112.9h0M592.9 114.1h0M588.3 112.4h0M565.6 112.1h0M573.1 112.8h0M588.2 113.7h0M566.7 112.5h0M559.1 112.8h0M585.3 112.9h0M565.3 112.1h0M587.8 112.2h0M576.6 111.8h0M585.6 113.8h0M569.8 114.0h0M557.7 113.3h0M588.1 112.0h0M560.7 113.7h0M570.7 112.0h0M579.0 111.9h0M559.0 111.6h0M564.0 112.6h0M588.6 112.3h0M563.6 112.5h0M572.2 114.2h0M568.9 113.4h0M579.5 113.5h0M578.5 112.4h0M563.0 113.9h0M581.9 113.0h0M561.1 113.9h0M590.9 112.6h0M569.5 113.7h0M592.9 112.4h0M583.4 113.3h0M567.8 113.2h0M561.8 112.6h0M572.0 112.1h0M571.4 113.0h0M575.0 111.7h0M569.1 112.4h0M565.0 112.7h0M566.9 111.9h0M566.9 112.0h0M581.2 113.0h0M590.7 113.2h0M583.7 112.6h0M572.9 114.1h0M571.8 113.5h0M572.6 111.7h0M567.1 112.4h0M581.1 113.6h0M571.5 113.9h0M589.3 113.6h0M571.8 113.3h0M586.5 112.0h0M578.1 112.8h0M560.0 111.9h0M559.6 113.3h0M570.1 112.3h0M581.0 113.3h0M589.4 111.7h0M557.2 112.6h0M573.6 113.3h0M573.5 113.4h0M581.0 112.6h0M592.0 111.7h0M592.8 113.2h0M586.8 112.5h0M582.1 111.6h0M558.8 113.0h0M571.1 112.5h0M564.4 111.6h0M564.1 113.3h0M561.6 113.2h0M583.6 114.0h0M562.5 112.5h0" stroke="#C8C8C8" stroke-width="2.30" stroke-linecap="round" fill="none"/>
<path d="M553.9 113.1h0M548.8 113.0h0M555.4 113.0h0M547.0 113.6h0M545.5 112.9h0M558.4 112.8h0M545.6 113.8h0M552.7 113.5h0M546.9 113.0h0M549.5 113.5h0M547.0 113.4h0M547.1 114.2h0M552.4 113.9h0M556.1 114.0h0M551.0 114.3h0M548.3 113.6h0M553.0 113.6h0M557.1 114.2h0M557.1 114.1h0M558.8 113.5h0M550.9 113.3h0M557.3 112.7h0M551.0 114.4h0M547.4 113.0h0M555.5 113.2h0M547.5 113.5h0M545.7 114.2h0M549.5 112.7h0M554.2 112.9h0M546.0 113.7h0M546.4 113.9h0M546.9 112.8h0M549.9 113.5h0M554.4 112.8h0M558.4 113.4h0M552.3 112.8h0M550.8 113.9h0M555.6 113.9h0M550.4 113.6h0M551.9 113.8h0M551.3 113.6h0M546.0 112.9h0M546.2 113.5h0M552.9 113.7h0M548.4 114.2h0M550.5 113.9h0M552.0 114.0h0M555.7 113.5h0M545.4 113.7h0M558.7 114.4h0M553.5 112.7h0M550.4 113.4h0M550.4 113.9h0M553.8 113.4h0M549.7 113.5h0M552.5 113.1h0M546.0 114.2h0M548.8 113.9h0M556.3 113.7h0M557.2 113.7h0M549.3 113.2h0M546.5 112.7h0M556.8 113.8h0M549.7 113.0h0M556.2 113.3h0M546.1 113.1h0M546.0 113.3h0M553.0 112.8h0M554.2 114.4h0M558.3 113.1h0M553.3 114.4h0M555.5 113.7h0M554.7 112.7h0M558.0 114.3h0M556.1 113.6h0M555.7 113.7h0M551.5 113.6h0M546.9 113.8h0M555.5 114.3h0M546.9 112.9h0M554.5 113.4h0M546.9 114.2h0M549.6 112.7h0M553.1 112.8h0M548.2 113.7h0M552.7 112.9h0M547.0 112.9h0M551.9 114.3h0M551.3 113.7h0M554.7 112.8h0M554.6 111.5h0M553.8 111.3h0M551.7 111.3h0M552.1 111.7h0M552.4 112.3h0M552.1 112.3h0M555.4 111.9h0M553.8 111.8h0M557.3 112.3h0M555.3 112.0h0M558.3 112.4h0M556.2 112.6h0M552.8 111.4h0M555.2 112.5h0M551.3 111.1h0M553.7 111.4h0M554.2 111.7h0M555.1 110.8h0M557.8 112.1h0M554.6 112.6h0M556.6 112.9h0M553.2 111.1h0M551.1 111.5h0M555.2 111.8h0M553.4 112.8h0M601.5 112.9h0M599.5 114.2h0M599.3 114.0h0M591.6 113.4h0M597.0 114.2h0M599.0 113.3h0M600.8 112.6h0M598.0 113.7h0M601.5 113.0h0M592.8 112.7h0M598.5 113.9h0M592.2 114.4h0M596.0 113.9h0M592.8 113.9h0M590.7 113.5h0M592.5 113.9h0M592.6 113.4h0M600.4 114.1h0M600.3 112.8h0M597.0 113.4h0M598.6 113.4h0M597.6 112.6h0M599.1 113.9h0M589.7 112.6h0M593.7 112.9h0M592.0 113.5h0M593.8 113.0h0M601.4 113.4h0M596.4 113.7h0M592.0 112.6h0M590.4 112.6h0M597.6 114.3h0M600.8 114.2h0M596.4 114.2h0M602.0 113.8h0M600.4 114.3h0M597.7 114.3h0M589.3 113.3h0M601.9 113.1h0M600.2 112.9h0M595.8 114.3h0M595.9 114.0h0M595.9 113.7h0M595.5 114.0h0M598.2 113.6h0M595.3 114.3h0M595.3 113.3h0M601.7 113.3h0M590.7 113.8h0M593.4 113.0h0M601.3 112.5h0M601.4 112.6h0M600.2 112.6h0M589.2 113.5h0M596.7 113.1h0M597.0 113.2h0M601.2 114.2h0M595.8 112.5h0M589.4 114.2h0M600.4 112.6h0M589.3 114.3h0M599.9 113.1h0M595.8 113.3h0M598.9 112.8h0M589.0 114.3h0M599.4 112.5h0M599.9 113.6h0M593.4 113.7h0M589.1 112.9h0M592.4 113.3h0M593.9 112.0h0M594.8 111.8h0M592.3 110.9h0M592.0 112.4h0M592.4 111.7h0M595.4 112.0h0M592.3 111.4h0M592.5 111.6h0M592.4 111.0h0M592.0 112.2h0M592.7 112.0h0M595.0 111.3h0M595.4 111.6h0M591.5 111.2h0M536.3 113.2h0M538.4 113.3h0M539.8 113.0h0M604.2 113.5h0M605.6 113.7h0M542.5 113.5h0" stroke="#8A154F" stroke-width="2.40" stroke-linecap="round" fill="none"/>
<path d="M567.0 114.1h0M571.0 113.5h0M570.0 114.0h0M582.7 113.5h0M570.4 114.1h0M579.8 113.7h0M569.2 113.7h0M570.2 114.0h0M575.2 113.7h0M572.4 113.7h0M561.6 113.9h0M570.2 114.2h0M582.8 114.1h0M566.1 113.6h0M583.9 113.6h0M569.3 113.6h0M564.6 113.7h0M583.5 114.1h0M564.4 113.8h0M582.0 113.7h0M583.6 113.9h0M570.0 114.1h0M567.7 113.6h0M562.9 114.1h0M569.4 114.2h0M568.5 114.1h0M564.1 113.9h0M574.0 113.8h0M579.2 113.9h0M583.5 114.2h0M566.5 114.2h0M568.5 113.7h0M583.0 113.9h0M565.0 114.0h0M574.6 114.0h0M579.9 113.5h0M572.1 113.8h0M581.2 113.9h0M565.7 113.6h0M584.3 114.2h0M579.2 113.9h0M562.5 114.1h0M565.3 113.7h0M566.2 114.2h0M566.4 113.7h0M573.0 113.8h0M572.2 114.1h0M561.6 114.0h0M562.2 114.0h0M575.8 114.0h0M572.4 113.8h0M568.7 114.0h0M582.1 113.8h0M571.1 113.8h0M572.1 114.0h0M582.8 114.1h0M583.3 113.6h0M582.0 114.1h0M573.2 113.5h0M568.0 114.1h0M570.2 101.9h0M571.4 102.6h0" stroke="#C8902A" stroke-width="2.10" stroke-linecap="round" fill="none"/>
<path d="M575.2 33.2h0M575.2 41.7h0M575.1 56.4h0M575.2 64.3h0M575.8 67.7h0M575.3 78.7h0M574.8 83.0h0M575.6 70.9h0M576.9 93.6h0M576.1 89.2h0M577.3 85.4h0M575.4 85.0h0M575.8 94.4h0M576.2 90.8h0M575.7 81.6h0M575.8 93.7h0M576.3 85.9h0M575.6 70.0h0M574.2 86.9h0M575.4 76.1h0M576.2 75.1h0M577.8 91.1h0M575.5 85.3h0M577.2 83.8h0M575.7 85.6h0M577.4 90.4h0M575.2 85.3h0M574.2 92.2h0M576.2 75.0h0M576.1 69.7h0M576.4 79.9h0M576.4 79.1h0M575.3 76.1h0M575.5 75.6h0M577.9 91.3h0M575.9 94.3h0M577.1 89.3h0M576.9 82.2h0M575.9 71.4h0M576.8 94.0h0M578.6 93.5h0M575.6 73.7h0M576.8 92.3h0M576.6 77.6h0M574.8 81.8h0M574.9 78.6h0M576.1 73.8h0M576.4 76.6h0M577.1 83.4h0M575.8 81.4h0M575.2 88.3h0M573.7 94.3h0M575.4 76.3h0M576.5 80.9h0M575.8 79.6h0M574.7 89.8h0M576.6 92.3h0M576.8 79.9h0M577.8 89.5h0M575.6 72.2h0M575.9 70.7h0M576.0 70.3h0M574.8 89.5h0M575.7 84.7h0M578.0 94.2h0M575.7 84.4h0M575.3 78.0h0M576.2 92.1h0M574.9 91.4h0M573.1 93.9h0M575.9 89.0h0M575.9 70.8h0M575.4 87.6h0M575.6 91.5h0M575.5 70.4h0M576.5 87.1h0M575.9 77.4h0M576.9 81.3h0M575.5 72.5h0M577.4 84.2h0M574.8 84.6h0M575.0 77.3h0M576.1 92.9h0M576.9 90.7h0M575.4 78.6h0M576.0 77.3h0M575.7 79.3h0M574.2 87.1h0M577.4 86.0h0M575.3 73.0h0M579.7 88.2h0M579.0 90.9h0M572.3 92.6h0M578.6 84.7h0" stroke="#17793B" stroke-width="2.60" stroke-linecap="round" fill="none"/>
<path d="M519.0 25.5V131.3H630.2" stroke="#707070" stroke-width="1.3" fill="none"/>
<line x1="519.0" y1="131.3" x2="519.0" y2="128.8" stroke="#707070" stroke-width="0.80"/>
<text x="519.0" y="139.3" font-size="6.40" fill="#1c1c1c" text-anchor="middle" font-weight="normal" stroke="#1c1c1c" stroke-width="0.22">−4</text>
<line x1="532.9" y1="131.3" x2="532.9" y2="128.8" stroke="#707070" stroke-width="0.80"/>
<text x="532.9" y="139.3" font-size="6.40" fill="#1c1c1c" text-anchor="middle" font-weight="normal" stroke="#1c1c1c" stroke-width="0.22">−3</text>
<line x1="546.7" y1="131.3" x2="546.7" y2="128.8" stroke="#707070" stroke-width="0.80"/>
<text x="546.7" y="139.3" font-size="6.40" fill="#1c1c1c" text-anchor="middle" font-weight="normal" stroke="#1c1c1c" stroke-width="0.22">−2</text>
<line x1="560.5" y1="131.3" x2="560.5" y2="128.8" stroke="#707070" stroke-width="0.80"/>
<text x="560.5" y="139.3" font-size="6.40" fill="#1c1c1c" text-anchor="middle" font-weight="normal" stroke="#1c1c1c" stroke-width="0.22">−1</text>
<line x1="574.4" y1="131.3" x2="574.4" y2="128.8" stroke="#707070" stroke-width="0.80"/>
<text x="574.4" y="139.3" font-size="6.40" fill="#1c1c1c" text-anchor="middle" font-weight="normal" stroke="#1c1c1c" stroke-width="0.22">0</text>
<line x1="588.2" y1="131.3" x2="588.2" y2="128.8" stroke="#707070" stroke-width="0.80"/>
<text x="588.2" y="139.3" font-size="6.40" fill="#1c1c1c" text-anchor="middle" font-weight="normal" stroke="#1c1c1c" stroke-width="0.22">1</text>
<line x1="602.1" y1="131.3" x2="602.1" y2="128.8" stroke="#707070" stroke-width="0.80"/>
<text x="602.1" y="139.3" font-size="6.40" fill="#1c1c1c" text-anchor="middle" font-weight="normal" stroke="#1c1c1c" stroke-width="0.22">2</text>
<line x1="615.9" y1="131.3" x2="615.9" y2="128.8" stroke="#707070" stroke-width="0.80"/>
<text x="615.9" y="139.3" font-size="6.40" fill="#1c1c1c" text-anchor="middle" font-weight="normal" stroke="#1c1c1c" stroke-width="0.22">3</text>
<line x1="629.8" y1="131.3" x2="629.8" y2="128.8" stroke="#707070" stroke-width="0.80"/>
<text x="629.8" y="139.3" font-size="6.40" fill="#1c1c1c" text-anchor="middle" font-weight="normal" stroke="#1c1c1c" stroke-width="0.22">4</text>
<line x1="519.0" y1="131.3" x2="522.1" y2="131.3" stroke="#707070" stroke-width="0.80"/>
<text x="516.2" y="133.6" font-size="6.40" fill="#1c1c1c" text-anchor="end" font-weight="normal" stroke="#1c1c1c" stroke-width="0.22">−10</text>
<line x1="519.0" y1="113.7" x2="522.1" y2="113.7" stroke="#707070" stroke-width="0.80"/>
<text x="516.2" y="116.0" font-size="6.40" fill="#1c1c1c" text-anchor="end" font-weight="normal" stroke="#1c1c1c" stroke-width="0.22">0</text>
<line x1="519.0" y1="96.1" x2="522.1" y2="96.1" stroke="#707070" stroke-width="0.80"/>
<text x="516.2" y="98.4" font-size="6.40" fill="#1c1c1c" text-anchor="end" font-weight="normal" stroke="#1c1c1c" stroke-width="0.22">10</text>
<line x1="519.0" y1="78.6" x2="522.1" y2="78.6" stroke="#707070" stroke-width="0.80"/>
<text x="516.2" y="80.9" font-size="6.40" fill="#1c1c1c" text-anchor="end" font-weight="normal" stroke="#1c1c1c" stroke-width="0.22">20</text>
<line x1="519.0" y1="61.0" x2="522.1" y2="61.0" stroke="#707070" stroke-width="0.80"/>
<text x="516.2" y="63.3" font-size="6.40" fill="#1c1c1c" text-anchor="end" font-weight="normal" stroke="#1c1c1c" stroke-width="0.22">30</text>
<line x1="519.0" y1="43.4" x2="522.1" y2="43.4" stroke="#707070" stroke-width="0.80"/>
<text x="516.2" y="45.7" font-size="6.40" fill="#1c1c1c" text-anchor="end" font-weight="normal" stroke="#1c1c1c" stroke-width="0.22">40</text>
<line x1="519.0" y1="25.9" x2="522.1" y2="25.9" stroke="#707070" stroke-width="0.80"/>
<text x="516.2" y="28.2" font-size="6.40" fill="#1c1c1c" text-anchor="end" font-weight="normal" stroke="#1c1c1c" stroke-width="0.22">50</text>
<text x="574.4" y="148.1" font-size="6.50" fill="#000" text-anchor="middle" font-weight="bold">log2FoldChange</text>
<text x="500.1" y="78.1" font-size="6.50" fill="#000" text-anchor="middle" font-weight="bold" transform="rotate(-90.0 500.1 78.1)">-log10(P-value)</text>
<text x="577.0" y="32.2" font-size="4.70" fill="#111" text-anchor="start" font-weight="normal" stroke="#111" stroke-width="0.15">SERF2</text>
<text x="577.0" y="40.4" font-size="4.70" fill="#111" text-anchor="start" font-weight="normal" stroke="#111" stroke-width="0.15">HMGA1</text>
<text x="577.0" y="56.0" font-size="4.70" fill="#111" text-anchor="start" font-weight="normal" stroke="#111" stroke-width="0.15">RABPC1</text>
<text x="570.6" y="61.0" font-size="4.70" fill="#111" text-anchor="start" font-weight="normal" stroke="#111" stroke-width="0.15">EEF2</text>
<text x="561.0" y="65.4" font-size="4.70" fill="#111" text-anchor="start" font-weight="normal" stroke="#111" stroke-width="0.15">FUS</text>
<text x="584.5" y="66.3" font-size="4.70" fill="#111" text-anchor="start" font-weight="normal" stroke="#111" stroke-width="0.15">UQCR10</text>
<text x="596.0" y="73.5" font-size="4.70" fill="#111" text-anchor="start" font-weight="normal" stroke="#111" stroke-width="0.15">NOP56</text>
<text x="555.0" y="76.0" font-size="4.70" fill="#111" text-anchor="start" font-weight="normal" stroke="#111" stroke-width="0.15">GTF3C6</text>
<text x="577.7" y="94.2" font-size="4.70" fill="#111" text-anchor="start" font-weight="normal" stroke="#111" stroke-width="0.15">GDF3</text>
<text x="561.0" y="98.1" font-size="4.70" fill="#111" text-anchor="start" font-weight="normal" stroke="#111" stroke-width="0.15">DOPP</text>
<text x="523.0" y="102.5" font-size="4.70" fill="#111" text-anchor="start" font-weight="normal" stroke="#111" stroke-width="0.15">RP11-513M16.8</text>
<text x="523.0" y="106.6" font-size="4.70" fill="#111" text-anchor="start" font-weight="normal" stroke="#111" stroke-width="0.15">TMEM238</text>
<text x="548.6" y="109.6" font-size="4.70" fill="#111" text-anchor="start" font-weight="normal" stroke="#111" stroke-width="0.15">DNAJB13</text>
<text x="571.4" y="106.0" font-size="4.70" fill="#111" text-anchor="start" font-weight="normal" stroke="#111" stroke-width="0.15">HESX1</text>
<text x="586.0" y="108.6" font-size="4.70" fill="#111" text-anchor="start" font-weight="normal" stroke="#111" stroke-width="0.15">LINC01071</text>
<text x="609.3" y="111.4" font-size="4.70" fill="#111" text-anchor="start" font-weight="normal" stroke="#111" stroke-width="0.15">GJB2</text>
<text x="618.4" y="114.6" font-size="4.70" fill="#111" text-anchor="start" font-weight="normal" stroke="#111" stroke-width="0.15">ESR2</text>
<text x="521.0" y="113.2" font-size="4.70" fill="#111" text-anchor="start" font-weight="normal" stroke="#111" stroke-width="0.15">DACH1</text>
<text x="519.5" y="122.3" font-size="4.70" fill="#111" text-anchor="start" font-weight="normal" stroke="#111" stroke-width="0.15">RP11-80H5.9</text>
<text x="555.5" y="118.7" font-size="4.70" fill="#111" text-anchor="start" font-weight="normal" stroke="#111" stroke-width="0.15">COO22</text>
<text x="572.5" y="113.6" font-size="4.70" fill="#111" text-anchor="start" font-weight="normal" stroke="#111" stroke-width="0.15">KCNJ</text>
<text x="587.3" y="119.3" font-size="4.70" fill="#111" text-anchor="start" font-weight="normal" stroke="#111" stroke-width="0.15">DKK1</text>
<text x="609.0" y="119.7" font-size="4.70" fill="#111" text-anchor="start" font-weight="normal" stroke="#111" stroke-width="0.15">7SK</text>
<text x="592.5" y="123.2" font-size="4.70" fill="#111" text-anchor="start" font-weight="normal" stroke="#111" stroke-width="0.15">C1QL4</text>
<text x="552.0" y="127.7" font-size="4.70" fill="#111" text-anchor="start" font-weight="normal" stroke="#111" stroke-width="0.15">CTD-2331H12.7</text>
<text x="592.5" y="131.2" font-size="4.70" fill="#111" text-anchor="start" font-weight="normal" stroke="#111" stroke-width="0.15">RP11-673E13.2</text>
<line x1="575.0" y1="64.2" x2="583.5" y2="65.0" stroke="#333" stroke-width="0.45"/>
<line x1="575.0" y1="68.8" x2="595.0" y2="72.0" stroke="#333" stroke-width="0.45"/>
<line x1="537.0" y1="112.0" x2="553.0" y2="118.0" stroke="#333" stroke-width="0.45"/>
<line x1="545.0" y1="113.0" x2="590.0" y2="128.0" stroke="#333" stroke-width="0.45"/>
<line x1="560.0" y1="104.0" x2="548.0" y2="108.0" stroke="#333" stroke-width="0.45"/>
<line x1="571.0" y1="108.5" x2="600.0" y2="110.0" stroke="#333" stroke-width="0.45"/>
<line x1="576.0" y1="112.0" x2="617.0" y2="113.0" stroke="#333" stroke-width="0.45"/>
<line x1="560.0" y1="114.0" x2="590.0" y2="121.0" stroke="#333" stroke-width="0.45"/>
<text x="723.2" y="15.8" font-size="7.45" fill="#000" text-anchor="middle" font-weight="bold">Subpopulation 2 vs</text>
<text x="723.2" y="23.2" font-size="7.45" fill="#000" text-anchor="middle" font-weight="bold">Subpopulations 1,3 and 4</text>
<path d="M721.3 115.3h0M727.1 101.1h0M725.7 114.4h0M730.5 104.4h0M730.1 108.7h0M728.7 101.5h0M733.6 115.7h0M716.2 114.4h0M720.8 107.0h0M724.7 115.3h0M722.0 107.1h0M729.7 93.4h0M728.9 106.7h0M737.0 110.7h0M722.6 114.6h0M736.0 112.7h0M726.5 106.1h0M734.1 108.8h0M733.9 112.0h0M727.2 100.7h0M726.6 109.6h0M724.9 107.5h0M726.8 103.1h0M733.1 111.0h0M727.3 107.4h0M727.4 95.7h0M734.6 109.3h0M729.3 92.7h0M730.5 108.7h0M726.1 99.8h0M731.3 100.3h0M729.3 102.2h0M730.0 107.9h0M733.8 112.6h0M733.6 105.3h0M731.6 110.1h0M725.2 116.0h0M725.9 99.1h0M724.8 103.3h0M735.9 108.8h0M737.4 113.2h0M730.0 115.5h0M729.9 97.4h0M729.2 109.0h0M729.8 100.6h0M728.3 99.6h0M732.1 112.1h0M728.2 104.7h0M725.6 92.4h0M726.4 98.6h0M731.3 100.2h0M729.1 111.6h0M727.6 105.6h0M730.7 113.7h0M728.6 95.3h0M733.9 111.3h0M722.0 108.3h0M727.3 103.5h0M733.8 105.5h0M732.9 104.5h0M732.4 109.9h0M722.2 115.3h0M729.3 101.2h0M726.9 97.2h0M724.7 111.6h0M721.8 105.4h0M730.4 109.4h0M722.9 114.1h0M730.3 95.9h0M720.7 112.1h0M716.8 114.6h0M729.3 98.2h0M727.4 111.8h0M723.6 101.1h0M730.1 97.5h0M732.4 112.9h0M726.3 101.0h0M726.0 95.7h0M725.0 107.0h0M732.4 107.8h0M728.9 104.5h0M726.1 92.4h0M730.4 112.7h0M739.3 114.1h0M726.6 110.1h0M732.8 108.0h0M728.7 94.6h0M724.1 113.7h0M725.3 100.8h0M729.9 95.6h0M724.6 112.6h0M732.6 112.6h0M733.2 115.6h0M737.2 115.4h0M728.7 105.2h0M715.4 115.0h0M736.4 109.9h0M731.6 103.7h0M716.6 115.4h0M733.4 115.9h0M722.2 113.6h0M729.5 101.9h0M727.0 110.6h0M728.9 111.3h0M725.2 109.8h0M723.2 112.1h0M717.4 111.9h0M729.5 110.8h0M719.5 111.7h0M727.5 96.7h0M725.2 106.0h0M729.2 95.5h0M729.3 103.1h0M727.7 101.2h0M725.9 108.5h0M727.3 106.2h0M728.1 105.6h0M730.5 98.4h0M716.9 112.7h0M718.4 111.0h0M728.5 98.2h0M721.4 111.4h0M729.8 96.0h0M729.4 101.4h0M727.3 99.7h0M728.5 108.8h0M730.7 95.7h0M729.6 94.6h0M720.7 115.3h0M727.9 92.9h0M725.2 105.9h0M727.8 96.2h0M725.3 92.3h0M725.0 92.2h0M724.9 114.1h0M723.9 102.6h0M732.8 104.7h0M731.7 107.9h0M728.6 103.9h0M726.8 113.6h0M728.7 95.1h0M726.5 112.8h0M725.7 105.2h0M729.2 104.3h0M719.6 116.0h0M725.0 102.2h0M734.9 115.3h0M736.3 110.3h0M723.0 104.8h0M725.3 102.7h0M729.2 97.6h0M724.3 99.3h0M736.2 115.8h0M720.1 114.2h0M718.0 115.8h0M734.2 107.0h0M723.1 110.6h0M725.6 97.2h0M728.8 102.7h0M725.0 94.0h0M726.3 104.7h0M726.0 97.4h0M725.1 100.5h0M734.0 106.4h0M722.8 112.3h0M728.7 94.6h0M719.0 115.4h0M723.0 112.4h0M729.0 96.8h0M728.6 92.6h0M726.5 102.9h0M727.6 100.5h0M727.4 115.5h0M728.2 109.2h0M714.4 115.6h0M726.9 92.5h0M721.0 110.4h0M732.2 103.9h0M727.7 113.5h0M731.2 106.3h0M724.6 104.6h0M733.0 113.3h0M737.7 115.2h0M718.8 115.8h0M732.6 107.1h0M730.2 103.2h0M729.3 99.2h0M736.8 115.6h0M719.2 114.1h0M714.2 115.8h0M726.9 95.8h0M715.4 115.1h0M728.3 96.7h0M725.0 94.6h0M722.1 114.7h0M718.5 113.3h0M731.0 113.1h0M719.5 113.7h0M726.1 105.4h0M729.4 114.1h0M726.2 106.1h0M721.1 107.0h0M724.5 103.3h0M718.5 110.3h0M728.2 95.5h0M728.4 109.0h0M725.6 93.9h0M731.2 109.2h0M731.3 109.4h0M725.0 94.8h0M723.4 111.4h0M729.8 99.5h0M731.3 101.0h0M725.1 113.4h0M729.4 96.5h0M740.3 114.7h0M730.5 99.8h0M729.5 109.7h0M729.9 93.3h0M732.1 104.3h0M729.6 92.0h0M732.0 102.2h0M725.2 114.2h0M723.4 104.7h0M724.5 98.6h0M725.5 102.9h0M729.7 110.6h0M726.4 113.3h0M730.7 96.4h0M724.8 111.9h0M725.0 101.1h0M725.8 96.6h0M725.8 104.8h0M713.1 116.1h0M722.7 116.1h0M737.9 111.6h0M723.4 102.7h0M725.5 100.5h0M730.8 106.8h0M730.4 96.4h0M724.8 108.3h0M724.6 108.8h0M727.4 99.8h0M724.6 101.4h0M731.0 98.6h0M730.4 113.1h0M716.2 113.8h0M722.6 108.4h0M728.2 100.1h0M731.9 101.7h0M716.4 115.5h0M726.5 115.8h0M728.9 97.4h0M732.0 105.1h0M720.9 109.4h0M723.0 102.6h0M717.1 112.5h0M716.9 113.8h0M723.0 105.5h0M731.1 103.6h0M720.7 110.1h0M729.8 101.7h0M728.0 95.6h0M731.7 104.2h0M731.9 101.6h0M733.3 111.3h0M727.4 102.8h0M727.0 116.0h0M729.8 111.8h0M727.8 106.1h0M717.4 115.5h0M729.6 103.5h0M729.3 92.3h0M726.8 111.3h0M731.7 106.2h0M734.7 108.9h0M726.3 106.7h0M725.7 106.8h0M725.1 92.0h0M720.7 108.8h0M724.5 101.6h0M725.7 114.1h0M730.5 103.6h0M724.6 107.7h0M734.5 109.5h0M716.5 112.9h0M727.6 95.5h0M718.3 114.4h0M729.2 95.4h0M732.5 115.4h0M726.4 112.9h0M722.9 103.6h0M726.7 94.0h0M734.8 114.2h0M715.4 114.7h0M727.4 102.3h0M729.4 95.1h0M717.1 113.0h0M727.4 103.6h0M736.0 111.0h0M731.0 113.0h0M739.3 115.3h0M728.3 93.6h0M732.0 110.6h0M729.4 95.0h0M727.8 115.7h0M728.8 114.2h0M729.7 93.6h0M728.8 112.2h0M721.3 110.7h0M729.7 99.7h0M726.2 110.2h0M729.6 101.0h0M722.1 107.2h0M718.8 115.0h0M727.6 97.3h0M726.4 102.5h0M722.0 109.5h0M728.3 92.8h0M732.9 114.4h0M728.9 103.8h0M728.5 98.9h0M730.5 95.8h0M730.1 108.6h0M726.1 109.4h0M730.3 109.6h0M725.0 109.9h0M729.6 96.7h0M730.8 101.6h0M730.1 109.1h0M723.7 112.1h0M735.6 114.9h0M726.5 94.4h0M721.1 109.3h0M731.2 114.2h0M725.2 95.3h0M733.2 112.0h0M736.2 112.6h0M727.2 109.9h0M722.8 113.1h0M724.2 108.2h0M723.9 100.1h0M730.6 102.6h0M721.8 110.5h0M716.6 114.6h0M728.4 98.3h0M726.3 116.0h0M725.7 103.7h0M725.4 115.8h0M736.2 109.9h0M735.2 109.7h0M728.1 96.1h0M735.6 114.5h0M729.2 115.0h0M716.7 114.9h0M722.1 108.5h0M728.1 92.3h0M730.4 95.2h0M728.8 99.3h0M731.6 107.0h0M724.5 101.8h0M726.6 105.5h0M730.4 105.9h0M728.3 101.3h0M730.0 98.4h0M718.1 115.0h0M718.1 115.6h0M726.6 93.3h0M727.1 107.8h0M725.1 104.6h0M726.5 98.7h0M729.6 96.7h0M729.1 116.1h0M738.0 115.0h0M721.2 115.3h0M728.3 99.0h0M726.9 101.9h0M723.9 105.8h0M724.1 107.3h0M724.1 101.6h0M719.9 114.3h0M728.7 105.5h0M741.9 116.1h0M726.9 97.0h0M735.8 113.9h0M725.9 92.7h0M730.1 99.3h0M726.0 94.0h0M718.9 114.6h0M736.6 112.5h0M727.5 94.8h0M723.9 114.4h0M730.9 112.3h0M729.9 100.4h0M727.0 107.9h0M725.8 107.1h0M730.4 107.4h0M726.2 100.6h0M723.6 104.6h0M724.5 115.7h0M719.3 109.7h0M725.6 115.2h0M729.6 93.8h0M722.4 115.8h0M724.4 109.5h0M730.0 114.3h0M726.9 96.9h0M718.1 113.6h0M735.4 116.0h0M732.7 112.5h0M724.7 98.3h0M723.3 113.3h0M729.4 99.0h0M726.7 111.0h0M727.2 109.8h0M726.0 98.3h0M730.5 97.8h0M732.6 103.7h0M725.8 93.9h0M726.0 92.3h0M725.1 97.9h0M726.5 111.0h0M728.8 96.9h0M736.9 113.1h0M727.7 96.1h0M721.6 115.6h0M726.0 111.2h0M728.2 93.8h0M724.8 97.5h0M732.7 112.2h0M722.6 110.2h0M715.2 115.4h0M728.4 108.5h0M728.7 108.8h0M717.9 111.3h0M726.2 101.7h0M726.0 106.5h0M718.3 111.7h0M723.6 111.1h0M715.3 114.7h0M720.9 106.8h0M726.8 95.7h0M728.1 107.7h0M716.2 115.9h0M728.1 98.5h0M725.5 106.5h0M727.7 99.5h0M730.0 98.3h0M729.0 95.3h0M727.3 101.7h0M728.7 105.5h0M731.7 105.7h0M724.9 96.4h0M728.6 99.5h0M732.1 103.7h0M727.0 115.6h0M735.4 109.4h0M729.2 113.8h0M734.1 114.2h0M730.9 106.6h0M735.2 110.9h0M719.7 116.1h0M730.7 100.0h0M726.0 98.7h0M733.4 115.2h0M724.2 100.1h0M727.8 94.0h0M727.1 115.8h0M720.3 110.2h0M730.3 95.5h0M726.3 114.5h0M731.3 111.6h0M723.3 114.7h0M727.2 108.5h0M729.1 107.9h0M730.1 93.9h0M729.6 94.9h0M721.9 112.6h0M729.8 107.3h0M726.1 103.5h0M726.6 92.3h0M715.8 116.0h0M733.0 112.9h0M724.7 96.9h0M722.0 112.4h0M730.5 98.5h0M719.2 111.8h0M730.3 93.0h0M727.4 100.5h0M729.7 99.6h0M724.7 106.1h0M729.7 105.7h0M730.3 110.5h0M739.5 114.1h0M721.4 112.9h0M730.2 93.2h0M729.6 94.3h0M729.7 96.6h0M722.7 104.6h0M730.3 100.0h0M724.7 97.0h0M734.1 115.5h0M733.1 106.6h0M727.4 92.3h0M729.2 101.6h0M726.5 101.1h0M723.4 102.6h0M729.0 95.1h0M727.4 98.0h0M726.5 113.0h0M728.1 101.5h0M714.5 114.8h0M723.4 108.8h0M721.4 112.6h0M730.8 108.4h0M728.7 94.7h0M738.3 115.9h0M730.1 103.5h0M726.2 103.3h0M719.7 110.2h0M731.8 116.5h0M732.3 114.9h0M731.9 115.5h0M736.6 114.8h0M736.7 114.8h0M724.9 116.5h0M730.1 115.4h0M738.4 115.4h0M721.7 116.5h0M737.3 115.4h0M742.5 115.5h0M738.0 115.2h0M742.7 115.7h0M739.5 115.8h0M710.0 116.0h0M721.3 114.8h0M722.8 116.1h0M732.6 116.4h0M719.8 115.8h0M713.7 115.5h0M723.7 115.1h0M720.9 114.8h0M716.1 115.6h0M717.1 116.5h0M719.7 114.9h0M719.3 115.7h0M727.1 116.1h0M727.4 116.4h0M721.3 116.0h0M736.8 115.2h0M733.0 115.5h0M738.5 115.2h0M711.4 116.3h0M734.5 115.0h0M742.6 115.2h0M714.9 115.5h0M730.4 115.5h0M714.1 114.8h0M726.6 116.1h0M742.3 115.9h0M711.9 115.3h0M718.3 116.2h0M719.7 115.5h0M720.3 115.4h0M739.8 114.8h0M739.3 114.9h0M718.0 115.1h0M712.6 115.5h0M712.1 116.4h0M741.3 116.3h0M733.5 115.6h0M709.6 115.1h0M711.6 114.9h0M736.9 115.7h0M724.5 116.5h0M733.0 116.5h0M727.2 114.9h0M732.2 116.3h0M733.7 115.3h0M720.6 115.2h0M728.9 115.8h0M727.1 116.1h0M719.2 114.9h0M721.3 115.2h0M721.8 116.2h0M709.6 114.8h0M734.7 114.8h0M729.2 116.4h0M715.0 116.5h0M730.0 115.4h0M741.5 116.0h0M717.4 116.2h0M714.5 116.5h0M726.1 115.8h0M721.9 114.8h0M720.1 115.1h0M727.4 116.4h0M710.6 115.5h0M738.8 116.5h0M733.0 116.1h0M732.5 115.0h0M733.9 116.1h0M714.8 114.8h0M740.1 114.9h0M727.7 116.5h0M721.9 114.9h0M711.8 116.0h0M711.0 115.0h0M721.4 116.4h0M721.5 116.2h0M724.1 115.4h0M731.6 116.4h0M727.4 116.5h0M724.3 115.1h0M718.4 115.1h0M717.7 115.8h0M736.0 116.5h0M728.1 115.6h0M733.4 114.8h0M732.8 116.1h0M716.2 115.7h0M719.0 115.6h0M712.6 115.3h0M723.5 116.5h0M713.6 114.9h0M737.9 115.0h0M722.6 114.8h0M715.3 115.2h0M741.0 116.2h0M709.7 116.3h0M712.4 115.1h0M729.8 115.7h0M713.4 115.4h0M714.2 116.3h0M729.4 115.4h0M736.3 115.1h0M714.2 116.0h0M714.4 115.7h0M710.5 115.0h0M732.3 115.1h0M725.9 114.9h0M737.5 115.1h0M736.5 116.2h0M721.1 116.5h0M735.1 115.7h0M742.5 116.0h0M724.0 115.0h0M741.9 115.2h0M739.0 114.9h0M718.7 115.4h0M711.7 115.3h0M741.4 115.6h0M714.5 115.5h0M711.8 115.7h0M712.3 115.8h0M736.9 115.2h0M738.1 115.7h0M724.3 116.5h0M735.9 115.5h0M723.2 116.3h0M724.9 116.4h0M713.6 116.4h0M723.8 116.3h0M737.2 115.4h0M738.5 115.6h0M714.9 116.1h0M737.6 115.5h0M731.2 115.4h0M711.2 116.2h0M724.0 115.0h0M741.1 115.5h0M718.3 116.5h0M728.2 115.8h0M740.7 116.2h0M716.4 116.5h0M710.6 115.1h0M738.7 116.3h0M710.1 115.5h0M717.8 115.4h0M740.0 115.2h0" stroke="#C8C8C8" stroke-width="2.30" stroke-linecap="round" fill="none"/>
<path d="M695.6 115.9h0M695.8 115.7h0M695.3 115.5h0M701.4 115.5h0M696.6 115.4h0M700.0 116.5h0M701.0 116.4h0M693.2 116.8h0M700.4 116.5h0M693.0 115.7h0M693.6 115.7h0M695.5 116.3h0M705.1 115.6h0M703.7 115.4h0M700.3 115.4h0M700.6 116.0h0M696.3 116.3h0M699.8 116.5h0M700.9 115.6h0M702.0 116.5h0M691.9 116.3h0M697.9 115.6h0M699.5 116.1h0M700.4 116.0h0M701.4 116.0h0M699.6 116.5h0M693.3 116.2h0M704.5 115.4h0M695.8 116.0h0M699.1 116.2h0M694.1 115.7h0M692.8 116.5h0M695.6 116.5h0M694.4 116.7h0M699.2 116.6h0M700.9 115.9h0M700.6 116.1h0M700.5 116.4h0M698.3 115.8h0M694.7 115.7h0M700.1 115.4h0M700.5 116.0h0M702.7 116.4h0M697.0 116.2h0M702.3 115.8h0M694.2 115.4h0M705.9 116.1h0M706.1 115.9h0M697.1 116.7h0M691.8 116.0h0M702.0 115.9h0M703.0 116.2h0M702.4 115.9h0M700.8 116.0h0M701.3 116.0h0M692.9 115.8h0M701.8 116.2h0M705.7 116.1h0M694.0 116.1h0M696.8 116.6h0M704.5 116.6h0M701.9 116.6h0M699.1 115.4h0M692.8 115.6h0M691.6 115.4h0M704.8 116.2h0M700.8 116.2h0M693.9 116.3h0M698.0 115.5h0M693.2 116.0h0M698.4 116.0h0M703.1 116.0h0M696.2 115.4h0M700.3 116.4h0M699.5 115.5h0M692.2 115.9h0M698.6 116.4h0M693.9 116.5h0M697.9 116.2h0M700.3 116.4h0M753.2 116.1h0M758.1 115.6h0M742.6 115.4h0M751.2 116.3h0M743.1 115.8h0M748.2 115.8h0M743.1 115.6h0M743.4 115.5h0M748.2 116.2h0M752.1 116.1h0M751.2 116.0h0M762.4 115.7h0M738.6 115.4h0M736.4 116.8h0M758.8 116.4h0M736.8 116.6h0M749.8 115.6h0M736.6 116.6h0M736.4 116.8h0M744.8 116.1h0M762.9 115.9h0M759.8 116.0h0M761.3 115.8h0M742.7 116.3h0M749.3 116.7h0M761.7 116.1h0M741.6 116.1h0M758.4 116.4h0M752.3 116.7h0M742.7 116.6h0M750.1 115.8h0M742.3 115.8h0M752.3 115.7h0M763.7 116.4h0M763.7 116.2h0M750.2 116.6h0M738.4 115.9h0M738.9 116.8h0M738.3 116.0h0M741.5 116.5h0M757.3 116.2h0M740.1 115.8h0M763.7 115.9h0M748.4 116.0h0M755.5 115.6h0M757.9 116.5h0M757.7 116.7h0M739.6 116.1h0M741.1 116.0h0M743.9 115.4h0M748.1 115.6h0M762.3 116.2h0M757.4 116.1h0M747.1 116.7h0M754.3 115.5h0M755.1 116.4h0M750.6 116.3h0M746.9 115.7h0M736.2 116.1h0M750.2 116.6h0M756.4 116.5h0M747.2 116.5h0M752.6 116.2h0M755.0 116.2h0M757.8 116.0h0M738.9 116.1h0M743.0 116.4h0M762.4 116.1h0M756.6 116.6h0M753.5 116.7h0M742.2 116.7h0M736.7 115.5h0M762.8 116.3h0M736.4 115.7h0M754.4 116.8h0M757.3 116.8h0M742.5 115.7h0M757.3 116.5h0M750.1 115.6h0M752.8 116.1h0M741.2 116.8h0M741.2 116.1h0M752.6 116.2h0M753.7 116.0h0M754.0 116.2h0M759.4 116.1h0M760.5 115.4h0M759.0 115.7h0M755.2 116.0h0M742.9 116.7h0M754.4 116.5h0M753.0 116.0h0M752.9 116.2h0M742.7 116.4h0M755.4 115.5h0M744.9 116.4h0M748.5 116.2h0M753.6 115.7h0M757.4 115.6h0M756.2 115.4h0M748.5 116.2h0M754.1 116.4h0M759.1 116.2h0M751.5 116.1h0M746.1 116.8h0M743.7 116.1h0M762.5 116.6h0M761.1 115.4h0M758.0 116.4h0M736.5 115.5h0M674.2 116.1h0M739.5 112.8h0M749.9 114.6h0" stroke="#8A154F" stroke-width="2.40" stroke-linecap="round" fill="none"/>
<path d="M708.6 116.4h0M731.6 116.1h0M728.6 115.9h0M711.5 116.2h0M709.3 116.4h0M719.9 116.0h0M714.5 116.1h0M710.5 116.5h0M708.4 116.2h0M722.3 116.1h0M717.9 115.9h0M725.9 116.2h0M729.9 116.5h0M714.5 116.2h0M722.6 115.8h0M724.8 116.7h0M731.8 116.3h0M712.2 116.0h0M723.4 115.9h0M721.4 116.5h0M719.2 116.3h0M716.1 116.2h0M710.8 116.5h0M709.9 116.7h0M720.7 116.0h0M717.5 115.9h0M722.9 116.1h0M714.4 115.9h0M716.0 115.9h0M713.3 115.8h0M724.9 116.5h0M726.1 116.6h0M717.0 116.4h0M715.7 116.4h0M711.1 116.3h0M709.3 116.0h0M716.2 116.1h0M718.1 115.8h0M730.0 116.1h0M729.0 115.9h0M731.4 116.3h0M722.5 116.6h0M716.4 116.4h0M723.3 116.7h0M726.7 116.6h0M718.0 116.3h0M729.1 116.1h0M710.7 116.1h0M713.0 116.1h0M717.7 115.8h0M718.7 116.5h0M715.0 115.8h0M716.0 116.5h0M721.0 116.1h0M731.7 116.6h0M715.5 116.0h0M719.9 116.1h0M724.6 116.6h0M708.1 116.5h0M714.8 116.5h0M714.4 116.6h0M707.5 116.2h0M726.8 116.6h0M709.3 116.0h0M708.9 116.6h0M719.8 116.4h0M727.6 116.2h0M720.6 116.4h0M707.6 116.0h0M717.1 116.0h0M732.1 110.4h0M731.1 111.6h0" stroke="#C8902A" stroke-width="2.10" stroke-linecap="round" fill="none"/>
<path d="M727.0 51.3h0M728.1 58.9h0M728.1 64.1h0M727.4 67.6h0M728.4 70.9h0M725.9 42.0h0M728.3 44.6h0M725.7 37.2h0M730.5 36.6h0M728.3 39.1h0M728.7 41.5h0M726.3 40.0h0M727.8 39.6h0M725.5 43.3h0M725.9 38.8h0M728.0 43.4h0M729.7 41.1h0M726.9 42.3h0M725.3 45.5h0M725.5 36.9h0M730.2 40.9h0M730.5 41.0h0M729.1 45.1h0M727.7 40.3h0M727.6 39.9h0M727.2 39.9h0M726.5 41.4h0M727.8 85.5h0M726.5 91.6h0M726.8 79.3h0M729.4 84.5h0M728.4 81.7h0M728.8 78.0h0M727.3 86.3h0M726.5 78.4h0M726.9 84.7h0M728.4 82.9h0M727.7 75.9h0M726.5 79.9h0M728.9 80.6h0M727.6 81.6h0M727.4 83.8h0M726.4 89.9h0M727.7 77.5h0M728.2 91.7h0M728.0 76.6h0M729.6 89.9h0M727.7 89.9h0M726.5 84.9h0M726.4 88.5h0M725.7 90.1h0M728.1 80.9h0M729.5 88.7h0M727.5 85.6h0M727.9 74.3h0M728.5 84.8h0M727.2 78.8h0M728.7 91.4h0M727.9 78.6h0M728.7 90.8h0M728.9 90.0h0M728.1 81.4h0M727.1 91.3h0M726.7 78.9h0M727.3 91.7h0M727.9 76.1h0M725.9 89.1h0M728.4 76.5h0M726.9 79.7h0M726.5 78.5h0M726.9 90.0h0M726.9 73.5h0M728.7 90.2h0M727.1 78.2h0M729.3 91.3h0M728.3 73.2h0M726.4 82.7h0M728.0 78.8h0M728.2 76.6h0M729.3 84.0h0M727.5 84.8h0M728.5 81.1h0M729.0 82.2h0M729.3 88.4h0M727.4 75.5h0M728.1 91.8h0M729.0 81.5h0M728.4 82.8h0M726.9 78.3h0M727.5 80.4h0M726.7 89.3h0M728.6 86.8h0M727.1 83.0h0M729.0 91.6h0M728.5 78.4h0M726.6 77.7h0M727.5 88.2h0M729.0 88.0h0M725.6 89.5h0M726.1 85.0h0M728.2 91.8h0M727.8 81.8h0M727.9 91.4h0M727.0 83.6h0M726.2 89.2h0M727.2 84.4h0M728.2 82.2h0M728.1 88.3h0M728.7 88.6h0M728.1 89.5h0M728.4 78.9h0M729.0 83.4h0M728.1 72.8h0M726.8 86.8h0M726.6 81.3h0M725.9 89.9h0M727.4 80.8h0M728.2 74.4h0M727.2 83.4h0M725.9 87.5h0M729.3 90.9h0M725.7 87.9h0M727.5 72.9h0M727.6 78.0h0M727.0 73.2h0M728.2 84.6h0M729.6 91.8h0M728.4 87.2h0M725.8 91.3h0M729.0 91.2h0M728.4 73.9h0M726.3 83.4h0M727.7 77.9h0M728.0 77.8h0M726.6 82.7h0M725.9 90.4h0M726.9 85.4h0M726.9 73.6h0M726.7 78.3h0M729.5 91.0h0M728.1 89.3h0M727.4 82.3h0M726.3 87.0h0M727.3 79.8h0M728.6 81.9h0M727.3 91.3h0M729.3 86.9h0" stroke="#17793B" stroke-width="2.60" stroke-linecap="round" fill="none"/>
<path d="M667.9 25.3V131.2H779.5" stroke="#707070" stroke-width="1.3" fill="none"/>
<line x1="667.9" y1="131.2" x2="667.9" y2="128.7" stroke="#707070" stroke-width="0.80"/>
<text x="667.9" y="139.2" font-size="6.40" fill="#1c1c1c" text-anchor="middle" font-weight="normal" stroke="#1c1c1c" stroke-width="0.22">−4</text>
<line x1="681.8" y1="131.2" x2="681.8" y2="128.7" stroke="#707070" stroke-width="0.80"/>
<text x="681.8" y="139.2" font-size="6.40" fill="#1c1c1c" text-anchor="middle" font-weight="normal" stroke="#1c1c1c" stroke-width="0.22">−3</text>
<line x1="695.7" y1="131.2" x2="695.7" y2="128.7" stroke="#707070" stroke-width="0.80"/>
<text x="695.7" y="139.2" font-size="6.40" fill="#1c1c1c" text-anchor="middle" font-weight="normal" stroke="#1c1c1c" stroke-width="0.22">−2</text>
<line x1="709.6" y1="131.2" x2="709.6" y2="128.7" stroke="#707070" stroke-width="0.80"/>
<text x="709.6" y="139.2" font-size="6.40" fill="#1c1c1c" text-anchor="middle" font-weight="normal" stroke="#1c1c1c" stroke-width="0.22">−1</text>
<line x1="723.5" y1="131.2" x2="723.5" y2="128.7" stroke="#707070" stroke-width="0.80"/>
<text x="723.5" y="139.2" font-size="6.40" fill="#1c1c1c" text-anchor="middle" font-weight="normal" stroke="#1c1c1c" stroke-width="0.22">0</text>
<line x1="737.4" y1="131.2" x2="737.4" y2="128.7" stroke="#707070" stroke-width="0.80"/>
<text x="737.4" y="139.2" font-size="6.40" fill="#1c1c1c" text-anchor="middle" font-weight="normal" stroke="#1c1c1c" stroke-width="0.22">1</text>
<line x1="751.3" y1="131.2" x2="751.3" y2="128.7" stroke="#707070" stroke-width="0.80"/>
<text x="751.3" y="139.2" font-size="6.40" fill="#1c1c1c" text-anchor="middle" font-weight="normal" stroke="#1c1c1c" stroke-width="0.22">2</text>
<line x1="765.2" y1="131.2" x2="765.2" y2="128.7" stroke="#707070" stroke-width="0.80"/>
<text x="765.2" y="139.2" font-size="6.40" fill="#1c1c1c" text-anchor="middle" font-weight="normal" stroke="#1c1c1c" stroke-width="0.22">3</text>
<line x1="779.1" y1="131.2" x2="779.1" y2="128.7" stroke="#707070" stroke-width="0.80"/>
<text x="779.1" y="139.2" font-size="6.40" fill="#1c1c1c" text-anchor="middle" font-weight="normal" stroke="#1c1c1c" stroke-width="0.22">4</text>
<line x1="667.9" y1="131.2" x2="671.0" y2="131.2" stroke="#707070" stroke-width="0.80"/>
<text x="665.1" y="133.5" font-size="6.40" fill="#1c1c1c" text-anchor="end" font-weight="normal" stroke="#1c1c1c" stroke-width="0.22">−100</text>
<line x1="667.9" y1="116.1" x2="671.0" y2="116.1" stroke="#707070" stroke-width="0.80"/>
<text x="665.1" y="118.4" font-size="6.40" fill="#1c1c1c" text-anchor="end" font-weight="normal" stroke="#1c1c1c" stroke-width="0.22">0</text>
<line x1="667.9" y1="101.0" x2="671.0" y2="101.0" stroke="#707070" stroke-width="0.80"/>
<text x="665.1" y="103.3" font-size="6.40" fill="#1c1c1c" text-anchor="end" font-weight="normal" stroke="#1c1c1c" stroke-width="0.22">100</text>
<line x1="667.9" y1="86.0" x2="671.0" y2="86.0" stroke="#707070" stroke-width="0.80"/>
<text x="665.1" y="88.3" font-size="6.40" fill="#1c1c1c" text-anchor="end" font-weight="normal" stroke="#1c1c1c" stroke-width="0.22">200</text>
<line x1="667.9" y1="70.9" x2="671.0" y2="70.9" stroke="#707070" stroke-width="0.80"/>
<text x="665.1" y="73.2" font-size="6.40" fill="#1c1c1c" text-anchor="end" font-weight="normal" stroke="#1c1c1c" stroke-width="0.22">300</text>
<line x1="667.9" y1="55.9" x2="671.0" y2="55.9" stroke="#707070" stroke-width="0.80"/>
<text x="665.1" y="58.2" font-size="6.40" fill="#1c1c1c" text-anchor="end" font-weight="normal" stroke="#1c1c1c" stroke-width="0.22">400</text>
<line x1="667.9" y1="40.8" x2="671.0" y2="40.8" stroke="#707070" stroke-width="0.80"/>
<text x="665.1" y="43.1" font-size="6.40" fill="#1c1c1c" text-anchor="end" font-weight="normal" stroke="#1c1c1c" stroke-width="0.22">500</text>
<line x1="667.9" y1="25.7" x2="671.0" y2="25.7" stroke="#707070" stroke-width="0.80"/>
<text x="665.1" y="28.0" font-size="6.40" fill="#1c1c1c" text-anchor="end" font-weight="normal" stroke="#1c1c1c" stroke-width="0.22">600</text>
<text x="723.5" y="148.0" font-size="6.50" fill="#000" text-anchor="middle" font-weight="bold">log2FoldChange</text>
<text x="646.6" y="77.9" font-size="6.50" fill="#000" text-anchor="middle" font-weight="bold" transform="rotate(-90.0 646.6 77.9)">-log10(P-value)</text>
<text x="712.4" y="35.3" font-size="4.70" fill="#111" text-anchor="start" font-weight="normal" stroke="#111" stroke-width="0.15">GAPDH</text>
<text x="696.2" y="41.3" font-size="4.70" fill="#111" text-anchor="start" font-weight="normal" stroke="#111" stroke-width="0.15">EIF4A1</text>
<text x="736.0" y="39.8" font-size="4.70" fill="#111" text-anchor="start" font-weight="normal" stroke="#111" stroke-width="0.15">PRDX1</text>
<text x="753.6" y="44.9" font-size="4.70" fill="#111" text-anchor="start" font-weight="normal" stroke="#111" stroke-width="0.15">TUBA1B</text>
<text x="726.0" y="47.5" font-size="4.70" fill="#111" text-anchor="start" font-weight="normal" stroke="#111" stroke-width="0.15">LDHB</text>
<text x="705.3" y="50.3" font-size="4.70" fill="#111" text-anchor="start" font-weight="normal" stroke="#111" stroke-width="0.15">NPM1</text>
<text x="717.2" y="55.4" font-size="4.70" fill="#111" text-anchor="start" font-weight="normal" stroke="#111" stroke-width="0.15">RAN</text>
<text x="732.3" y="58.6" font-size="4.70" fill="#111" text-anchor="start" font-weight="normal" stroke="#111" stroke-width="0.15">ENO1</text>
<text x="678.3" y="98.0" font-size="4.70" fill="#111" text-anchor="start" font-weight="normal" stroke="#111" stroke-width="0.15">RP11-538I12.3</text>
<text x="683.2" y="102.3" font-size="4.70" fill="#111" text-anchor="start" font-weight="normal" stroke="#111" stroke-width="0.15">LINC01071</text>
<text x="713.3" y="103.1" font-size="4.70" fill="#111" text-anchor="start" font-weight="normal" stroke="#111" stroke-width="0.15">IDO1</text>
<text x="728.0" y="103.1" font-size="4.70" fill="#111" text-anchor="start" font-weight="normal" stroke="#111" stroke-width="0.15">HESX1</text>
<text x="750.7" y="103.7" font-size="4.70" fill="#111" text-anchor="start" font-weight="normal" stroke="#111" stroke-width="0.15">AC009065.8</text>
<text x="669.2" y="106.0" font-size="4.70" fill="#111" text-anchor="start" font-weight="normal" stroke="#111" stroke-width="0.15">ESR1</text>
<text x="670.7" y="108.3" font-size="4.70" fill="#111" text-anchor="start" font-weight="normal" stroke="#111" stroke-width="0.15">CTD-2331H12.7</text>
<text x="679.8" y="110.8" font-size="4.70" fill="#111" text-anchor="start" font-weight="normal" stroke="#111" stroke-width="0.15">KCNJ16</text>
<text x="731.7" y="108.8" font-size="4.70" fill="#111" text-anchor="start" font-weight="normal" stroke="#111" stroke-width="0.15">ZNF571-AS1</text>
<text x="680.3" y="117.9" font-size="4.70" fill="#111" text-anchor="start" font-weight="normal" stroke="#111" stroke-width="0.15">TSK</text>
<text x="701.0" y="115.1" font-size="4.70" fill="#111" text-anchor="start" font-weight="normal" stroke="#111" stroke-width="0.15">RP11-403I13.5</text>
<text x="669.2" y="122.7" font-size="4.70" fill="#111" text-anchor="start" font-weight="normal" stroke="#111" stroke-width="0.15">ESR2</text>
<text x="669.2" y="126.4" font-size="4.70" fill="#111" text-anchor="start" font-weight="normal" stroke="#111" stroke-width="0.15">RP11-673E13.2</text>
<text x="709.6" y="130.7" font-size="4.70" fill="#111" text-anchor="start" font-weight="normal" stroke="#111" stroke-width="0.15">RP11-80H5.9</text>
<text x="757.8" y="125.9" font-size="4.70" fill="#111" text-anchor="start" font-weight="normal" stroke="#111" stroke-width="0.15">DNAJB13</text>
<text x="705.9" y="122.2" font-size="4.70" fill="#111" text-anchor="start" font-weight="normal" stroke="#111" stroke-width="0.15">RP11-248J23</text>
<text x="736.5" y="120.8" font-size="4.70" fill="#111" text-anchor="start" font-weight="normal" stroke="#111" stroke-width="0.15">NR1I1</text>
<line x1="716.0" y1="33.5" x2="727.0" y2="36.0" stroke="#333" stroke-width="0.45"/>
<line x1="727.0" y1="40.0" x2="735.0" y2="38.5" stroke="#333" stroke-width="0.45"/>
<line x1="727.0" y1="43.5" x2="752.0" y2="43.5" stroke="#333" stroke-width="0.45"/>
<line x1="706.0" y1="101.0" x2="722.0" y2="113.0" stroke="#333" stroke-width="0.45"/>
<line x1="700.0" y1="107.0" x2="718.0" y2="115.0" stroke="#333" stroke-width="0.45"/>
<line x1="745.0" y1="103.0" x2="756.0" y2="114.0" stroke="#333" stroke-width="0.45"/>
<line x1="690.0" y1="116.0" x2="715.0" y2="126.0" stroke="#333" stroke-width="0.45"/>
<text x="574.1" y="163.3" font-size="7.45" fill="#000" text-anchor="middle" font-weight="bold">Subpopulation 3 vs</text>
<text x="574.1" y="170.7" font-size="7.45" fill="#000" text-anchor="middle" font-weight="bold">Subpopulations 1,2 and 4</text>
<path d="M557.7 245.7h0M555.7 251.2h0M556.3 249.3h0M561.3 262.3h0M557.9 248.5h0M559.0 247.0h0M556.1 242.9h0M560.6 238.1h0M558.8 261.1h0M556.6 245.4h0M558.0 235.6h0M556.3 252.9h0M566.4 251.3h0M557.5 260.6h0M562.7 248.2h0M558.0 262.1h0M558.2 246.2h0M563.4 266.0h0M564.6 237.2h0M557.9 237.6h0M562.3 256.3h0M562.6 245.8h0M558.2 248.0h0M556.5 258.8h0M562.1 265.0h0M565.4 264.0h0M557.2 234.0h0M562.6 233.8h0M559.8 266.8h0M559.0 254.6h0M558.3 264.7h0M560.6 266.4h0M558.1 250.4h0M565.5 235.2h0M564.6 249.8h0M564.0 254.9h0M559.5 240.3h0M559.5 241.6h0M560.3 261.0h0M563.6 263.1h0M561.1 258.3h0M562.3 239.2h0M563.7 235.8h0M563.9 243.2h0M565.9 243.3h0M563.0 246.6h0M561.5 248.1h0M558.9 234.7h0M561.2 260.5h0M563.6 256.3h0M555.5 245.1h0M562.5 259.8h0M563.2 253.4h0M556.8 250.9h0M566.5 243.3h0M562.5 263.8h0M562.4 245.9h0M561.2 249.6h0M565.4 233.0h0M564.7 252.1h0M564.6 244.1h0M556.3 232.7h0M558.1 259.7h0M565.9 238.9h0M561.0 259.2h0M563.7 236.4h0M565.6 246.8h0M556.6 235.3h0M558.8 233.8h0M564.0 245.9h0M559.0 256.9h0M564.4 235.9h0M556.6 233.4h0M563.9 245.5h0M563.7 234.1h0M556.7 257.4h0M558.4 261.0h0M559.2 247.4h0M556.5 261.9h0M564.7 243.4h0M561.3 262.8h0M559.6 233.3h0M564.7 248.6h0M565.4 266.2h0M563.8 240.4h0M561.1 255.2h0M556.2 234.7h0M562.7 264.2h0M557.2 234.3h0M560.7 260.5h0M561.9 239.9h0M556.1 244.3h0M562.1 260.1h0M556.6 242.1h0M559.1 263.9h0M559.3 252.8h0M556.4 261.2h0M566.3 244.8h0M565.9 245.2h0M562.5 262.6h0M565.1 254.5h0M562.4 246.4h0M566.3 235.6h0M560.5 262.3h0M561.8 264.1h0M563.4 259.3h0M555.6 254.8h0M556.9 236.5h0M561.4 257.8h0M564.2 265.0h0M556.8 242.4h0M557.0 245.7h0M556.6 248.8h0M560.6 257.3h0M562.9 248.3h0M559.3 235.1h0M557.9 255.0h0M559.7 241.6h0M557.7 259.7h0M565.0 252.5h0M564.7 251.9h0M562.1 250.8h0M560.1 258.2h0M556.5 242.1h0M558.4 251.4h0M559.3 257.0h0M562.0 260.2h0M558.2 265.6h0M557.6 257.9h0M563.3 238.3h0M557.0 236.5h0M559.1 260.5h0M564.9 249.5h0M565.2 238.3h0M555.8 266.4h0M560.4 255.4h0M559.5 266.8h0M565.4 262.6h0M559.1 259.8h0M565.1 261.0h0M560.5 263.1h0M558.3 259.4h0M563.6 232.8h0M559.5 241.7h0M566.4 233.4h0M558.1 245.2h0M561.7 265.3h0M565.3 250.3h0M564.7 232.7h0M566.6 258.7h0M556.0 245.9h0M566.3 259.9h0M563.9 239.7h0M555.8 244.2h0M558.9 234.8h0M561.6 240.5h0M561.5 250.2h0M564.9 235.4h0M565.1 253.4h0M559.5 261.0h0M556.1 256.0h0M555.5 253.2h0M564.7 233.7h0M556.2 250.5h0M564.2 258.0h0M556.6 256.9h0M562.0 252.3h0M559.8 262.7h0M563.9 247.9h0M566.7 253.0h0M564.0 258.2h0M565.8 264.3h0M557.5 248.3h0M565.5 239.0h0M565.5 262.5h0M559.5 234.0h0M563.6 239.8h0M559.9 247.5h0M564.7 256.2h0M566.2 240.1h0M562.0 264.7h0M558.0 242.7h0M565.6 266.3h0M563.6 240.2h0M560.5 255.6h0M556.6 239.1h0M563.5 242.2h0M566.3 251.1h0M565.5 245.3h0M560.1 260.3h0M561.1 257.0h0M566.7 241.1h0M565.1 235.7h0M563.8 233.5h0M556.5 241.7h0M561.0 253.0h0M565.7 263.4h0M558.3 254.2h0M561.6 264.2h0M566.2 255.4h0M560.4 245.2h0M556.1 261.6h0M562.4 243.3h0M561.2 250.0h0M565.7 252.9h0M558.1 265.1h0M559.1 239.7h0M560.4 255.6h0M564.1 256.8h0M561.8 263.7h0M559.4 242.4h0M559.5 241.9h0M556.7 245.6h0M561.8 256.1h0M560.8 246.0h0M561.6 265.7h0M558.6 237.3h0M562.5 259.8h0M556.7 259.0h0M562.6 264.4h0M564.2 236.7h0M565.4 246.7h0M558.6 237.8h0M566.5 253.9h0M562.8 234.6h0M559.4 245.3h0M559.2 263.9h0M562.6 259.1h0M562.6 244.5h0M555.5 235.7h0M556.7 259.9h0M565.8 254.3h0M564.5 250.9h0M559.5 260.7h0M558.8 239.5h0M562.3 241.9h0M555.9 244.5h0M566.6 254.6h0M558.7 254.1h0M562.2 232.7h0M561.0 243.1h0M559.9 245.6h0M558.8 257.6h0M563.4 259.2h0M556.8 264.0h0M566.7 249.6h0M563.1 240.1h0M557.9 241.5h0M555.7 249.5h0M555.9 249.1h0M556.9 263.0h0M560.9 255.1h0M556.4 259.5h0M566.2 262.8h0M565.8 233.2h0M557.8 262.3h0M555.7 236.8h0M562.8 261.9h0M566.0 233.9h0M559.1 238.0h0M566.1 241.8h0M566.5 236.1h0M564.4 240.8h0M560.3 242.9h0M566.0 247.3h0M555.8 247.3h0M565.3 251.6h0M561.0 242.6h0M564.1 234.9h0M563.4 259.3h0M555.6 237.1h0M560.4 234.8h0M555.7 237.9h0M559.0 256.0h0M562.9 259.5h0M562.9 239.6h0M556.8 235.7h0M560.0 257.1h0M563.8 239.8h0M565.4 232.9h0M563.9 248.8h0M561.4 238.9h0M565.1 243.7h0M557.3 238.4h0M563.5 266.0h0M557.7 239.0h0M564.1 237.8h0M557.3 261.4h0M562.5 244.4h0M565.8 261.5h0M564.9 259.6h0M556.9 234.5h0M561.7 242.9h0M560.5 235.5h0M558.2 252.8h0M559.1 237.9h0M555.9 235.7h0M555.7 236.5h0M566.2 242.1h0M562.2 256.0h0M556.3 252.8h0M561.1 238.2h0M555.9 239.4h0M558.1 261.4h0M555.8 238.9h0M559.8 266.2h0M565.1 253.7h0M558.2 237.5h0M559.6 241.5h0M563.0 240.7h0M560.8 264.6h0M560.7 252.4h0M563.3 247.9h0M561.4 253.2h0M563.2 238.6h0M557.1 260.4h0M566.3 257.7h0M565.4 253.7h0M563.4 233.8h0M563.9 254.3h0M566.3 249.8h0M562.7 249.8h0M562.6 243.5h0M561.9 260.9h0M563.2 252.3h0M557.9 240.4h0M558.4 254.3h0M561.1 234.0h0M566.4 251.5h0M565.2 240.1h0M557.0 249.7h0M556.5 254.2h0M560.6 253.3h0M566.6 250.5h0M557.4 248.7h0M563.2 260.9h0M560.1 249.3h0M560.1 250.0h0M562.2 243.7h0M561.1 265.3h0M562.1 258.4h0M564.1 251.1h0M563.9 233.9h0M561.2 245.8h0M563.8 263.1h0M559.8 260.2h0M558.5 246.9h0M561.7 237.3h0M555.8 233.6h0M559.2 251.0h0M562.8 247.2h0M566.1 246.7h0M559.7 251.9h0M561.8 241.2h0M565.9 257.8h0M556.4 259.2h0M565.8 248.5h0M564.7 237.6h0M561.3 246.0h0M557.4 257.0h0M564.9 251.8h0M566.6 248.0h0M561.7 239.5h0M560.2 246.7h0M564.9 235.8h0M565.7 260.9h0M559.6 243.7h0M560.3 241.4h0M561.2 243.2h0M565.9 245.3h0M560.9 236.4h0M563.6 253.7h0M556.6 244.1h0M558.7 249.5h0M557.4 244.7h0M558.4 256.8h0M561.9 257.4h0M562.8 237.3h0M564.1 244.8h0M560.4 253.6h0M557.9 244.6h0M565.9 241.1h0M556.3 236.7h0M558.0 235.5h0M562.5 262.5h0M557.5 255.1h0M561.6 246.1h0M561.3 248.6h0M564.3 245.8h0M563.5 242.2h0M560.8 238.6h0M556.8 245.0h0M560.6 264.2h0M558.2 243.6h0M558.8 234.0h0M560.8 250.1h0M557.3 233.6h0M562.7 258.4h0M559.4 254.6h0M565.9 262.5h0M562.0 251.8h0M566.1 258.6h0M563.4 263.4h0M561.5 264.7h0M566.2 255.8h0M565.0 251.9h0M558.2 266.0h0M559.7 233.1h0M558.5 265.7h0M561.5 254.5h0M559.0 253.9h0M560.8 250.7h0M561.4 260.7h0M562.0 247.2h0M560.6 241.6h0M566.2 259.7h0M558.9 262.9h0M560.2 252.7h0M565.2 259.8h0M561.7 256.6h0M557.0 246.1h0M557.0 252.2h0M563.8 248.4h0M566.1 237.6h0M560.7 263.1h0M559.7 244.1h0M561.1 234.5h0M556.3 237.1h0M563.4 253.6h0M561.1 238.2h0M564.1 237.5h0M563.5 252.8h0M556.8 249.3h0M565.0 236.1h0M558.2 236.3h0M556.0 240.3h0M558.9 249.8h0M559.8 249.6h0M560.4 248.1h0M562.9 240.9h0M557.8 257.5h0M559.2 258.8h0M561.2 252.4h0M566.6 240.7h0M558.9 258.0h0M555.6 249.2h0M555.9 245.2h0M562.1 246.6h0M566.7 253.8h0M555.7 256.3h0M558.2 263.3h0M563.9 241.6h0M565.5 254.8h0M558.1 261.4h0M561.5 247.4h0M559.0 239.8h0M562.6 236.0h0M562.0 243.3h0M561.9 259.7h0M555.7 234.6h0M559.0 255.6h0M564.2 258.2h0M557.0 244.7h0M565.4 242.8h0M555.7 264.8h0M565.5 246.3h0M561.2 248.1h0M561.9 253.0h0M562.3 235.6h0M560.8 241.4h0M564.2 236.6h0M558.9 249.5h0M566.6 256.7h0M556.3 245.0h0M560.3 249.1h0M558.7 246.4h0M561.0 235.9h0M558.5 238.5h0M561.7 236.5h0M560.4 248.3h0M561.9 234.6h0M559.6 248.6h0M558.6 251.3h0M558.5 251.7h0M559.6 264.4h0M563.0 266.1h0M565.7 263.7h0M558.6 256.1h0M558.8 248.1h0M559.0 242.1h0M556.0 235.3h0M565.5 265.1h0M558.5 243.3h0M559.6 244.9h0M558.6 249.5h0M562.8 248.4h0M558.4 237.9h0M561.9 247.4h0M560.9 237.0h0M566.0 237.3h0M560.1 253.0h0M562.1 233.7h0M564.3 248.8h0M561.4 246.2h0M558.5 244.4h0M555.6 254.0h0M564.8 242.2h0M566.5 241.7h0M556.7 241.0h0M565.9 256.0h0M565.4 263.3h0M557.2 239.6h0M563.8 259.8h0M555.9 244.6h0M557.7 248.8h0M561.6 237.5h0M560.0 266.5h0M565.7 266.6h0M563.6 236.5h0M566.1 266.9h0M562.9 257.9h0M561.8 240.8h0M558.3 263.0h0M556.9 241.9h0M566.0 254.1h0M557.2 252.9h0M559.5 244.7h0M559.6 239.9h0M564.8 238.5h0M561.7 260.9h0M556.9 251.7h0M559.4 235.6h0M556.2 246.0h0M566.6 234.3h0M557.0 243.5h0M560.8 244.2h0M558.0 250.7h0M565.1 261.8h0M563.9 246.2h0M560.1 241.6h0M558.9 248.1h0M560.4 244.5h0M558.8 240.1h0M556.4 253.9h0M557.9 265.7h0M560.3 266.4h0M565.5 254.0h0M566.6 265.5h0M564.9 263.7h0M558.3 254.7h0M559.5 246.0h0M557.0 266.4h0M563.6 243.7h0M558.4 232.9h0M559.4 240.6h0M558.7 249.3h0M565.8 252.9h0M560.3 258.3h0M560.6 235.8h0M561.5 239.1h0M563.6 255.0h0M559.8 244.6h0M556.6 232.7h0M563.7 237.8h0M560.9 242.6h0M556.0 241.3h0M565.3 244.0h0M563.9 253.0h0M561.2 243.1h0M561.0 240.5h0M561.4 262.9h0M557.4 241.1h0M564.9 251.1h0M565.3 266.5h0M559.6 254.9h0M562.0 243.0h0M557.3 257.1h0M565.6 252.5h0M563.6 232.8h0M563.3 243.1h0M557.3 235.6h0M565.0 262.0h0M561.4 266.3h0M565.9 253.2h0M558.1 245.5h0M560.9 264.8h0M560.8 248.0h0M556.2 247.0h0M564.9 254.6h0M557.6 257.1h0M566.1 260.9h0M560.1 237.1h0M559.7 255.7h0M565.8 236.7h0M565.2 234.3h0M556.8 243.6h0M557.4 234.6h0M559.6 241.6h0M562.9 265.7h0M565.5 258.2h0M563.1 260.8h0M556.1 252.0h0M559.0 257.3h0M564.2 240.4h0M557.4 234.8h0M559.7 259.7h0M557.8 256.0h0M555.6 241.1h0M557.0 248.5h0M558.8 256.2h0M566.1 251.1h0M560.4 241.7h0M558.4 233.0h0M562.7 260.5h0M563.7 240.5h0M563.7 249.6h0M566.2 255.6h0M564.6 241.6h0M565.9 248.4h0M566.2 250.9h0M566.2 251.8h0M561.3 256.1h0M561.7 247.7h0M565.1 238.0h0M563.5 260.8h0M560.1 248.9h0M565.8 263.0h0M563.7 233.0h0M556.5 247.4h0M559.2 256.0h0M559.8 264.0h0M560.2 254.4h0M557.0 264.6h0M561.8 234.3h0M560.6 259.0h0M561.0 254.5h0M563.9 260.9h0M562.6 234.9h0M564.7 234.0h0M561.4 248.5h0M559.7 243.3h0M560.6 264.4h0M563.1 238.9h0M564.8 265.6h0M561.4 265.4h0M558.9 260.9h0M562.5 259.1h0M565.5 242.6h0M556.2 249.6h0M556.5 265.7h0M546.2 267.2h0M558.1 267.3h0M597.7 263.5h0M571.2 262.9h0M549.9 266.0h0M540.0 266.0h0M603.2 263.7h0M558.6 265.5h0M572.8 264.2h0M582.4 256.5h0M600.5 258.7h0M605.5 263.1h0M585.7 253.5h0M550.9 267.1h0M597.1 262.4h0M538.5 265.1h0M546.6 266.8h0M602.7 266.4h0M596.0 264.2h0M593.6 261.8h0M577.1 260.3h0M588.2 264.1h0M584.9 265.0h0M554.5 264.9h0M547.9 266.3h0M545.2 265.7h0M549.5 266.5h0M606.8 265.5h0M572.7 267.6h0M555.8 267.5h0M581.2 265.6h0M549.7 267.3h0M589.8 256.1h0M557.9 266.7h0M556.7 265.8h0M577.6 266.3h0M548.0 265.5h0M557.0 265.4h0M549.6 267.5h0M542.0 264.6h0M575.3 267.7h0M562.4 265.5h0M552.6 264.7h0M537.4 265.9h0M578.0 265.6h0M607.4 265.1h0M546.4 265.0h0M539.1 265.3h0M596.5 259.4h0M538.7 267.6h0M596.2 256.4h0M556.3 264.4h0M595.0 266.3h0M600.1 267.7h0M560.2 267.1h0M552.0 266.0h0M540.3 264.2h0M552.0 265.3h0M562.1 264.4h0M577.0 262.5h0M591.2 258.1h0M569.2 267.0h0M594.0 258.1h0M570.1 262.2h0M570.1 263.6h0M548.7 266.5h0M582.0 263.8h0M608.0 263.2h0M583.0 256.1h0M556.4 265.0h0M598.4 262.6h0M577.3 260.5h0M554.8 267.7h0M550.0 265.9h0M582.4 254.2h0M556.1 267.2h0M566.9 267.1h0M555.5 266.0h0M585.8 266.0h0M549.4 266.1h0M574.2 266.4h0M584.1 258.2h0M605.7 262.4h0M581.8 266.5h0M574.2 265.6h0M556.9 267.6h0M586.3 256.0h0M556.6 267.0h0M607.8 265.2h0M586.7 263.4h0M604.2 263.1h0M573.3 267.0h0M568.1 267.8h0M552.0 264.9h0M545.0 267.1h0M561.4 264.2h0M548.8 266.3h0M575.0 267.5h0M577.2 267.1h0M559.8 266.7h0M608.1 265.8h0M558.4 266.6h0M558.4 267.3h0M559.6 265.3h0M562.2 267.0h0M539.8 264.9h0M558.3 266.8h0M597.5 256.0h0M576.3 267.2h0M596.6 257.9h0M538.3 266.8h0M596.5 261.6h0M549.6 264.1h0M552.2 267.2h0M586.5 249.9h0M587.4 267.5h0M538.5 267.1h0M584.4 251.3h0M545.3 265.3h0M585.2 267.4h0M601.4 265.2h0M563.7 264.9h0M575.8 261.8h0M541.2 265.5h0M547.7 264.8h0M592.2 256.9h0M583.0 251.9h0M596.1 258.2h0M562.7 267.8h0M608.3 267.6h0M540.1 265.6h0M607.8 265.7h0M551.9 267.8h0M548.5 266.5h0M561.9 266.9h0M599.7 257.7h0M606.8 266.8h0M586.7 264.9h0M570.0 265.0h0M559.5 264.9h0M552.7 264.8h0M591.6 257.0h0M542.5 267.4h0M594.5 253.4h0M554.1 265.4h0M591.0 252.6h0M546.7 267.1h0M541.5 265.2h0M562.6 265.2h0M548.8 265.5h0M556.5 266.2h0M579.1 255.6h0M550.7 264.9h0M540.6 267.2h0M586.7 266.4h0M597.0 256.5h0M552.7 265.2h0M583.3 251.6h0M572.3 265.3h0M599.6 265.1h0M602.1 264.9h0M566.1 264.7h0M591.0 264.6h0M584.0 251.0h0M565.6 265.8h0M583.8 255.7h0M564.9 266.4h0M549.7 265.5h0M560.6 264.9h0M540.2 265.0h0M548.5 264.6h0M595.7 262.9h0M544.1 267.1h0M551.8 264.2h0M594.5 267.5h0M537.7 265.8h0M569.4 264.9h0M597.0 257.2h0M546.7 264.2h0M569.8 265.3h0M547.8 267.0h0M550.3 266.8h0M575.8 265.3h0M556.2 267.5h0M542.0 264.4h0M568.3 265.7h0M546.4 264.1h0M538.0 264.9h0M540.1 266.8h0M571.7 264.9h0M587.2 257.4h0M587.0 266.7h0M557.9 266.8h0M571.3 265.2h0M544.7 267.4h0M541.4 267.7h0M583.2 252.0h0M579.3 265.3h0M580.6 260.8h0M557.2 264.8h0M555.8 266.7h0M540.3 267.0h0M602.8 264.2h0M589.0 258.9h0M556.0 266.5h0M573.3 265.5h0M573.8 267.7h0M564.7 267.4h0M571.1 264.5h0M602.0 260.7h0M600.7 263.8h0M558.1 264.7h0M545.5 266.4h0M541.4 264.8h0M590.1 251.3h0M550.3 264.7h0M586.7 257.9h0M568.6 263.8h0M570.7 262.2h0M603.0 265.1h0M575.4 263.8h0M601.3 260.4h0M565.6 266.5h0M559.7 265.4h0M584.4 257.1h0M574.2 262.2h0M537.5 266.1h0M586.5 254.6h0M595.1 264.6h0M603.1 260.7h0M581.3 255.6h0M551.1 267.2h0M552.5 265.9h0M600.7 264.6h0M603.6 262.0h0M540.2 267.8h0M608.2 265.5h0M592.5 253.5h0M558.7 267.8h0M598.8 257.6h0M565.5 265.4h0M537.9 264.3h0M580.6 253.8h0M586.1 261.4h0M549.8 265.9h0M598.6 261.9h0M575.5 265.8h0M547.5 267.0h0M558.7 266.1h0M604.2 266.1h0M553.3 265.1h0M603.9 266.3h0M558.3 266.3h0M541.4 267.5h0M576.3 265.3h0M553.7 264.8h0M571.4 264.3h0M583.8 255.3h0M602.7 260.4h0M545.0 265.1h0M538.8 267.4h0M555.3 267.4h0M547.9 267.0h0M594.9 256.3h0M572.8 263.8h0M590.3 257.3h0M542.5 266.1h0M551.5 266.1h0M606.7 266.8h0M560.0 265.7h0M584.0 262.7h0M565.2 266.0h0M603.3 267.5h0M600.5 262.6h0M602.3 264.8h0M583.4 267.5h0M552.9 265.4h0M560.5 265.9h0M607.1 265.0h0M584.7 258.0h0M555.0 264.1h0M564.1 267.8h0M567.3 266.0h0M551.7 266.3h0M542.2 264.3h0M574.2 265.5h0M576.1 261.9h0M564.8 264.8h0M569.5 262.9h0M591.7 255.9h0M548.6 265.2h0M606.8 263.6h0M540.2 266.8h0M537.2 265.4h0M600.2 261.2h0M584.3 258.5h0M589.1 257.9h0M594.0 265.5h0M570.6 264.1h0M541.9 265.7h0M602.3 267.2h0M589.4 254.8h0M600.4 258.7h0M582.5 258.3h0M570.9 265.2h0M579.9 263.2h0M593.9 259.4h0M568.0 265.4h0M587.6 252.5h0M595.1 257.6h0M554.5 267.9h0M545.6 267.6h0M573.2 267.3h0M570.8 263.3h0M568.4 263.5h0M562.7 266.0h0M555.9 267.4h0M578.2 266.4h0M547.6 266.8h0M588.9 250.0h0M552.5 267.0h0M606.1 264.7h0M593.8 252.2h0M584.0 263.6h0M607.0 263.3h0M537.3 264.2h0M583.2 264.0h0M570.8 266.0h0M592.3 261.1h0M543.2 264.5h0M560.6 267.2h0M586.9 265.5h0M580.2 261.7h0M545.7 264.3h0M586.4 266.9h0M601.1 262.2h0M595.7 257.1h0M549.2 266.7h0M549.3 264.8h0M604.6 264.2h0M584.5 250.9h0M574.2 264.2h0M557.1 264.1h0M545.8 267.2h0M597.7 267.5h0M551.2 265.9h0M553.9 266.4h0M538.9 265.3h0M542.4 266.8h0M544.3 265.2h0M552.5 265.8h0M539.4 265.7h0M561.4 264.4h0M550.9 266.8h0M598.9 267.2h0M572.0 264.6h0M557.8 267.2h0M572.6 267.7h0M537.7 266.8h0M564.0 266.9h0M587.7 260.3h0M580.4 259.5h0M587.7 250.8h0M577.0 260.3h0M576.7 267.1h0M596.5 260.9h0M539.9 265.1h0M572.8 260.9h0M566.8 266.1h0M600.9 259.4h0M591.9 260.3h0M567.8 264.4h0M601.0 263.7h0M587.1 257.6h0M576.3 265.7h0M557.1 266.9h0M607.2 267.7h0M552.7 267.1h0M595.2 258.2h0M559.0 267.5h0M585.0 254.7h0M582.8 256.3h0M579.7 267.5h0M593.7 254.1h0M549.0 266.4h0M607.1 262.9h0M595.3 255.7h0M548.3 264.6h0M595.7 265.1h0M602.0 261.3h0M602.3 260.8h0M543.7 267.2h0M594.5 265.3h0M561.9 264.9h0M596.2 262.5h0M566.5 265.2h0M608.0 264.9h0M561.8 267.0h0M550.4 265.6h0M588.3 263.8h0M590.1 257.0h0M577.8 261.7h0M566.4 267.8h0M575.4 261.6h0M600.3 258.5h0M583.2 265.2h0M598.2 263.1h0M605.7 262.4h0M543.5 267.7h0M540.6 265.3h0M572.1 263.6h0M560.2 265.6h0M543.8 267.1h0M589.3 263.7h0M545.2 265.4h0M607.1 263.1h0M599.9 260.8h0M537.6 267.3h0M578.5 261.3h0M596.7 267.5h0M581.6 266.8h0M590.8 266.3h0M571.7 262.7h0M607.2 263.8h0M592.8 263.0h0M582.6 259.2h0M572.3 263.7h0M568.7 265.9h0M591.4 256.6h0M606.5 262.9h0M594.1 266.2h0M572.9 264.2h0M593.3 253.3h0M551.1 267.8h0M599.0 257.4h0M561.1 265.6h0M564.5 266.4h0M582.4 256.8h0M601.2 264.7h0M572.3 264.7h0M607.3 265.3h0M602.5 260.3h0M539.1 265.0h0M545.0 266.0h0M581.9 266.7h0M578.3 259.5h0M561.8 265.8h0M565.3 267.3h0M555.2 264.3h0M582.4 259.2h0M594.4 255.2h0M590.9 260.8h0M575.5 264.8h0M541.6 264.4h0M542.8 266.5h0M597.7 264.1h0M602.0 267.7h0M547.7 266.2h0M582.3 255.3h0M600.9 260.4h0M550.3 264.1h0M540.3 266.1h0M561.9 267.8h0M551.5 264.1h0M606.2 266.0h0M608.3 264.4h0M539.4 265.6h0M551.6 266.8h0M588.2 264.1h0M562.1 267.9h0M559.9 266.7h0M545.1 267.5h0M566.0 267.6h0M603.7 266.1h0M563.2 267.6h0M594.9 265.1h0M542.5 266.5h0M602.1 260.4h0M570.3 264.5h0M542.3 264.5h0M590.8 263.5h0M596.9 265.8h0M571.4 266.0h0M577.5 265.0h0M575.8 265.4h0M538.2 267.4h0M593.2 260.7h0M573.6 262.7h0M555.2 267.2h0M566.1 265.0h0M589.2 259.5h0M580.3 264.3h0M604.6 263.8h0M594.3 262.2h0M578.3 259.2h0M575.0 261.0h0M556.4 264.9h0M559.7 265.9h0M547.3 266.3h0M600.2 267.6h0M550.5 265.8h0M583.9 256.2h0M586.0 254.9h0M580.0 265.8h0M575.8 265.1h0M537.4 266.0h0M606.5 265.4h0M591.2 257.0h0M539.7 265.8h0M607.5 264.6h0M558.2 264.4h0M584.7 251.6h0M597.5 260.7h0M570.4 264.8h0M559.8 264.6h0M546.1 264.1h0M561.2 266.2h0M580.4 263.5h0M580.4 267.1h0M599.0 266.7h0M599.3 258.8h0M593.1 255.7h0M550.3 265.7h0M541.4 265.1h0M593.2 264.5h0M568.6 267.4h0M584.6 255.7h0M541.3 265.6h0M599.7 266.1h0M601.7 265.6h0M538.2 267.6h0M591.0 264.5h0M598.3 262.9h0M542.9 264.8h0M560.4 267.4h0M537.3 266.7h0M569.9 265.1h0M578.5 266.9h0M537.2 264.5h0M567.3 264.6h0M600.8 262.4h0M589.8 263.9h0M552.1 265.9h0M607.3 263.0h0M553.6 265.5h0M557.7 266.5h0M557.1 264.1h0M564.4 266.1h0M543.2 264.7h0M543.1 264.7h0M554.1 267.0h0M540.0 266.5h0M605.1 265.7h0M560.7 265.1h0M553.4 265.0h0M605.9 263.0h0M539.9 264.9h0M593.3 255.1h0M578.3 266.6h0M585.3 257.6h0M571.7 262.8h0M550.1 266.5h0M582.1 253.8h0M607.6 263.5h0M555.8 266.3h0M574.4 263.9h0M542.7 266.5h0M603.4 265.2h0M599.7 258.8h0M573.7 260.5h0M606.6 267.8h0M579.1 255.5h0M559.1 266.5h0M547.9 264.5h0M577.2 261.3h0M579.6 255.8h0M573.9 263.4h0M568.9 266.1h0M606.1 264.3h0M572.3 267.2h0M582.6 267.2h0M570.6 266.6h0M565.0 267.0h0M553.0 266.2h0M545.6 266.9h0M588.3 266.0h0M597.4 262.8h0M552.2 264.9h0M563.9 266.5h0M537.1 267.2h0M603.8 264.5h0M568.0 265.0h0M543.4 267.3h0M598.5 260.7h0M559.8 264.6h0M557.8 266.2h0M593.0 254.0h0M557.0 264.2h0M552.0 266.9h0M573.7 263.4h0M575.5 263.4h0M592.6 263.7h0M568.0 264.6h0M600.5 265.5h0M562.3 266.1h0M556.1 265.9h0M604.0 266.3h0M596.3 255.9h0M571.9 265.5h0M545.5 265.8h0M597.2 263.1h0M555.2 264.7h0M548.3 265.7h0M591.7 259.1h0M557.9 265.6h0M561.0 265.3h0M593.7 255.3h0M592.2 265.8h0M556.3 265.3h0M582.4 253.7h0M568.4 267.6h0M542.3 267.7h0M575.4 264.8h0M539.7 264.4h0M541.7 266.6h0M592.3 256.4h0M552.6 264.2h0M568.9 263.6h0M567.1 265.0h0M605.2 267.5h0M577.5 261.1h0M606.0 264.5h0M555.7 267.3h0M576.5 266.2h0M562.0 264.2h0M550.1 267.1h0M584.8 259.1h0M601.8 265.1h0M591.1 260.6h0M607.9 263.5h0M550.9 266.5h0M570.8 265.0h0M579.2 258.9h0M547.7 265.4h0M595.7 262.1h0M556.2 266.9h0M580.3 266.2h0M552.1 266.7h0M586.1 254.5h0M575.8 266.4h0M562.3 267.6h0M608.1 265.7h0M596.8 264.7h0M556.7 267.3h0M564.7 265.3h0M576.4 264.5h0M546.2 266.8h0M591.9 264.9h0M607.7 263.8h0M549.1 267.9h0M595.8 267.3h0M584.7 259.1h0M566.4 265.7h0M538.3 265.0h0M597.0 267.4h0M557.1 264.7h0M551.1 267.3h0M594.4 252.8h0M607.5 266.9h0M546.5 267.8h0M545.5 266.6h0M605.5 263.4h0M549.9 266.4h0M576.1 266.3h0M541.2 267.2h0M558.4 267.7h0M606.5 262.6h0M570.7 265.3h0M576.5 259.2h0M566.3 264.4h0M605.2 266.2h0M578.3 256.3h0M558.7 264.1h0M572.7 263.0h0M543.9 266.4h0M583.8 264.4h0M606.2 265.7h0M577.5 259.0h0M559.3 265.2h0M589.3 253.8h0M559.7 266.6h0M578.6 262.3h0M570.7 264.4h0M591.1 265.4h0M552.2 267.4h0M574.0 266.2h0M603.3 266.4h0M568.9 263.9h0M557.2 267.6h0M553.5 265.2h0M561.9 264.3h0M548.1 266.7h0M572.3 265.5h0M558.1 267.5h0M573.1 262.2h0M563.4 264.1h0M581.4 262.4h0M563.1 266.8h0M543.8 266.1h0M575.1 260.6h0M542.6 267.8h0M601.7 264.8h0M588.7 251.8h0M557.0 267.2h0M592.7 262.9h0M572.8 267.9h0M578.6 262.4h0M552.0 267.1h0M603.1 261.3h0M559.2 266.7h0M561.2 266.6h0M564.4 264.2h0M538.2 266.5h0M576.1 261.7h0M560.8 265.1h0M567.6 267.2h0M602.0 266.2h0M587.2 250.9h0M549.1 265.0h0M592.5 262.1h0M602.4 266.8h0M574.0 259.8h0M574.5 260.3h0M565.7 265.4h0M571.7 263.2h0M589.4 254.8h0M591.2 264.1h0M583.6 254.5h0M590.2 264.7h0M576.2 267.7h0M606.2 264.3h0M554.5 265.6h0M559.3 265.8h0M593.1 253.9h0M607.0 264.5h0M575.4 263.0h0M547.8 267.7h0M600.4 258.6h0M596.2 265.3h0M581.6 264.9h0M560.0 264.9h0M603.4 267.8h0M592.6 256.1h0M586.8 265.2h0M562.0 265.1h0M551.6 267.2h0M571.1 266.8h0M555.8 267.3h0M552.2 267.5h0M566.4 266.6h0M547.0 267.2h0M565.8 267.6h0M558.2 267.7h0M589.7 265.7h0M570.5 267.1h0M585.7 250.4h0M587.2 266.3h0M551.0 267.2h0M600.1 267.1h0M591.4 254.5h0M596.5 262.2h0M566.8 266.3h0M583.6 259.8h0M587.3 259.9h0M597.1 260.3h0M556.3 266.3h0M553.6 264.4h0M540.4 266.4h0M567.6 265.0h0M544.4 265.3h0M546.5 266.8h0M559.3 267.6h0M608.2 267.6h0M601.4 261.9h0M603.3 263.6h0M576.1 263.4h0M576.2 264.5h0M549.6 265.7h0M593.6 252.4h0M601.7 262.8h0M551.6 265.8h0M548.6 264.6h0M590.9 261.2h0M560.1 264.5h0M568.1 267.5h0M584.6 260.5h0M545.4 264.6h0M552.0 267.2h0M574.7 265.7h0M560.8 266.2h0M595.8 237.9h0M588.7 249.5h0M579.3 253.0h0" stroke="#C8C8C8" stroke-width="2.30" stroke-linecap="round" fill="none"/>
<path d="M547.5 265.2h0M538.6 264.2h0M547.5 263.8h0M531.2 264.3h0M544.7 264.7h0M543.9 264.9h0M534.5 263.8h0M545.1 266.6h0M540.4 266.8h0M535.0 265.0h0M533.3 267.5h0M541.9 265.1h0M547.1 267.5h0M536.4 267.1h0M547.2 264.3h0M533.5 265.7h0M543.2 265.1h0M539.5 265.4h0M534.6 267.3h0M533.6 265.5h0M533.4 264.0h0M536.0 267.5h0M542.4 264.9h0M544.2 265.8h0M547.3 264.8h0M547.6 264.3h0M535.7 265.8h0M534.5 265.0h0M537.8 265.7h0M537.4 266.9h0M541.4 264.6h0M537.1 267.1h0M541.9 265.0h0M540.7 264.2h0M547.7 264.5h0M541.6 263.8h0M540.9 265.5h0M534.5 266.3h0M537.3 266.5h0M535.7 266.8h0M532.7 265.3h0M538.6 264.3h0M543.8 263.8h0M547.2 267.1h0M542.6 263.8h0M544.1 242.5h0M542.5 257.7h0M547.2 257.7h0M540.2 263.5h0M530.0 267.0h0M546.4 261.8h0M599.2 265.4h0M598.4 264.9h0M610.0 256.8h0M599.9 266.9h0M599.5 256.9h0M602.2 260.4h0M602.6 262.1h0M606.1 256.0h0M598.9 262.1h0M607.1 257.8h0M606.0 263.7h0M598.5 264.3h0M605.1 256.6h0M605.5 260.0h0M602.9 258.3h0M610.3 261.5h0M606.2 260.8h0M601.3 256.4h0M599.1 262.1h0M609.7 260.3h0M603.0 264.6h0M602.8 258.3h0M606.7 259.8h0M610.0 262.7h0M601.7 259.8h0M609.8 258.8h0M608.9 257.3h0M598.4 259.6h0M601.2 259.1h0M608.0 257.6h0M600.5 262.7h0M600.1 257.4h0M606.9 260.5h0M605.0 258.4h0M603.8 264.9h0M610.1 258.0h0M604.3 260.4h0M600.7 264.3h0M598.8 259.3h0M608.3 263.9h0M600.6 262.0h0M601.7 258.2h0M616.1 254.2h0M611.4 253.0h0M613.8 260.0h0M609.9 265.8h0" stroke="#8A154F" stroke-width="2.60" stroke-linecap="round" fill="none"/>
<path d="M562.9 267.3h0M564.3 266.6h0M567.2 267.4h0M561.9 267.5h0M566.8 266.8h0M562.1 267.3h0M568.5 267.5h0M567.4 266.6h0M566.7 267.2h0M567.5 266.5h0M565.8 266.9h0M566.2 266.5h0M569.7 266.8h0M565.1 267.4h0M565.1 267.1h0M566.9 267.0h0M562.8 267.4h0M567.6 266.9h0M567.8 267.4h0M564.7 267.4h0M562.2 267.2h0M563.1 266.5h0M561.5 267.0h0M561.4 266.6h0M561.5 266.6h0M563.5 267.2h0M561.5 266.9h0M561.2 266.8h0M565.5 267.3h0M566.6 266.8h0M548.4 247.8h0M553.5 260.0h0M572.7 262.9h0M579.3 262.9h0M584.0 266.4h0M546.4 265.8h0" stroke="#C8902A" stroke-width="2.40" stroke-linecap="round" fill="none"/>
<path d="M557.9 186.0h0M560.8 186.0h0M556.4 189.5h0M560.1 198.0h0M557.5 199.4h0M558.6 203.8h0M561.4 203.2h0M560.1 207.6h0M564.5 230.6h0M562.0 213.2h0M560.0 212.1h0M560.1 229.3h0M561.4 212.3h0M563.0 229.7h0M560.5 214.6h0M562.9 218.1h0M562.8 222.9h0M562.5 219.8h0M559.1 213.8h0M561.4 228.0h0M559.1 224.6h0M560.1 232.0h0M560.4 210.5h0M559.6 227.4h0M557.8 219.1h0M560.9 228.4h0M562.2 224.2h0M556.8 229.3h0M561.8 212.4h0M561.3 218.2h0M557.7 227.9h0M562.0 222.5h0M560.7 222.1h0M564.8 230.3h0M559.8 226.9h0M562.9 214.7h0M560.3 224.1h0M560.6 214.0h0M558.1 229.5h0M556.9 224.8h0M564.4 230.7h0M562.2 214.1h0M559.5 225.5h0M558.9 211.8h0M559.7 222.7h0M561.7 216.0h0M562.4 210.6h0M563.2 219.0h0M558.9 219.2h0M559.1 221.1h0M562.0 212.5h0M562.0 229.8h0M562.3 218.2h0M561.4 228.9h0M560.0 229.7h0M559.6 224.3h0M560.8 223.2h0M560.9 229.7h0M562.6 230.4h0M560.5 231.3h0M563.4 232.0h0M561.7 211.7h0M560.4 222.2h0M558.5 215.8h0M560.5 224.4h0M560.3 228.3h0M557.9 224.5h0M560.3 219.4h0M561.0 229.3h0M561.3 227.2h0M562.4 225.2h0M557.6 219.2h0M562.7 224.8h0M562.8 224.8h0M562.6 213.5h0M560.3 215.8h0M557.9 221.7h0M558.8 225.7h0M562.1 214.9h0M562.3 218.5h0M561.7 222.8h0M557.0 224.4h0M563.2 220.8h0M563.4 221.3h0M558.9 223.7h0M560.1 228.6h0M557.6 225.4h0M564.2 225.3h0M560.3 215.2h0M560.7 227.0h0M561.6 224.9h0M561.7 226.0h0M559.6 215.5h0M561.3 227.3h0M563.1 219.7h0M560.5 214.5h0M562.6 221.4h0M558.3 219.7h0" stroke="#17793B" stroke-width="2.70" stroke-linecap="round" fill="none"/>
<path d="M519.8 173.4V278.6H629.8" stroke="#707070" stroke-width="1.3" fill="none"/>
<line x1="519.8" y1="278.6" x2="519.8" y2="276.1" stroke="#707070" stroke-width="0.80"/>
<text x="519.8" y="286.6" font-size="6.40" fill="#1c1c1c" text-anchor="middle" font-weight="normal" stroke="#1c1c1c" stroke-width="0.22">−6</text>
<line x1="535.5" y1="278.6" x2="535.5" y2="276.1" stroke="#707070" stroke-width="0.80"/>
<text x="535.5" y="286.6" font-size="6.40" fill="#1c1c1c" text-anchor="middle" font-weight="normal" stroke="#1c1c1c" stroke-width="0.22">−4</text>
<line x1="551.1" y1="278.6" x2="551.1" y2="276.1" stroke="#707070" stroke-width="0.80"/>
<text x="551.1" y="286.6" font-size="6.40" fill="#1c1c1c" text-anchor="middle" font-weight="normal" stroke="#1c1c1c" stroke-width="0.22">−2</text>
<line x1="566.8" y1="278.6" x2="566.8" y2="276.1" stroke="#707070" stroke-width="0.80"/>
<text x="566.8" y="286.6" font-size="6.40" fill="#1c1c1c" text-anchor="middle" font-weight="normal" stroke="#1c1c1c" stroke-width="0.22">0</text>
<line x1="582.5" y1="278.6" x2="582.5" y2="276.1" stroke="#707070" stroke-width="0.80"/>
<text x="582.5" y="286.6" font-size="6.40" fill="#1c1c1c" text-anchor="middle" font-weight="normal" stroke="#1c1c1c" stroke-width="0.22">2</text>
<line x1="598.1" y1="278.6" x2="598.1" y2="276.1" stroke="#707070" stroke-width="0.80"/>
<text x="598.1" y="286.6" font-size="6.40" fill="#1c1c1c" text-anchor="middle" font-weight="normal" stroke="#1c1c1c" stroke-width="0.22">4</text>
<line x1="613.8" y1="278.6" x2="613.8" y2="276.1" stroke="#707070" stroke-width="0.80"/>
<text x="613.8" y="286.6" font-size="6.40" fill="#1c1c1c" text-anchor="middle" font-weight="normal" stroke="#1c1c1c" stroke-width="0.22">6</text>
<line x1="629.4" y1="278.6" x2="629.4" y2="276.1" stroke="#707070" stroke-width="0.80"/>
<text x="629.4" y="286.6" font-size="6.40" fill="#1c1c1c" text-anchor="middle" font-weight="normal" stroke="#1c1c1c" stroke-width="0.22">8</text>
<line x1="519.8" y1="278.6" x2="522.9" y2="278.6" stroke="#707070" stroke-width="0.80"/>
<text x="517.0" y="280.9" font-size="6.40" fill="#1c1c1c" text-anchor="end" font-weight="normal" stroke="#1c1c1c" stroke-width="0.22">−20</text>
<line x1="519.8" y1="267.0" x2="522.9" y2="267.0" stroke="#707070" stroke-width="0.80"/>
<text x="517.0" y="269.3" font-size="6.40" fill="#1c1c1c" text-anchor="end" font-weight="normal" stroke="#1c1c1c" stroke-width="0.22">0</text>
<line x1="519.8" y1="255.3" x2="522.9" y2="255.3" stroke="#707070" stroke-width="0.80"/>
<text x="517.0" y="257.6" font-size="6.40" fill="#1c1c1c" text-anchor="end" font-weight="normal" stroke="#1c1c1c" stroke-width="0.22">20</text>
<line x1="519.8" y1="243.7" x2="522.9" y2="243.7" stroke="#707070" stroke-width="0.80"/>
<text x="517.0" y="246.0" font-size="6.40" fill="#1c1c1c" text-anchor="end" font-weight="normal" stroke="#1c1c1c" stroke-width="0.22">40</text>
<line x1="519.8" y1="232.1" x2="522.9" y2="232.1" stroke="#707070" stroke-width="0.80"/>
<text x="517.0" y="234.4" font-size="6.40" fill="#1c1c1c" text-anchor="end" font-weight="normal" stroke="#1c1c1c" stroke-width="0.22">60</text>
<line x1="519.8" y1="220.4" x2="522.9" y2="220.4" stroke="#707070" stroke-width="0.80"/>
<text x="517.0" y="222.7" font-size="6.40" fill="#1c1c1c" text-anchor="end" font-weight="normal" stroke="#1c1c1c" stroke-width="0.22">80</text>
<line x1="519.8" y1="208.8" x2="522.9" y2="208.8" stroke="#707070" stroke-width="0.80"/>
<text x="517.0" y="211.1" font-size="6.40" fill="#1c1c1c" text-anchor="end" font-weight="normal" stroke="#1c1c1c" stroke-width="0.22">100</text>
<line x1="519.8" y1="197.1" x2="522.9" y2="197.1" stroke="#707070" stroke-width="0.80"/>
<text x="517.0" y="199.4" font-size="6.40" fill="#1c1c1c" text-anchor="end" font-weight="normal" stroke="#1c1c1c" stroke-width="0.22">120</text>
<line x1="519.8" y1="185.4" x2="522.9" y2="185.4" stroke="#707070" stroke-width="0.80"/>
<text x="517.0" y="187.8" font-size="6.40" fill="#1c1c1c" text-anchor="end" font-weight="normal" stroke="#1c1c1c" stroke-width="0.22">140</text>
<line x1="519.8" y1="173.8" x2="522.9" y2="173.8" stroke="#707070" stroke-width="0.80"/>
<text x="517.0" y="176.1" font-size="6.40" fill="#1c1c1c" text-anchor="end" font-weight="normal" stroke="#1c1c1c" stroke-width="0.22">160</text>
<text x="574.6" y="295.4" font-size="6.50" fill="#000" text-anchor="middle" font-weight="bold">log2FoldChange</text>
<text x="500.1" y="225.7" font-size="6.50" fill="#000" text-anchor="middle" font-weight="bold" transform="rotate(-90.0 500.1 225.7)">-log10(P-value)</text>
<text x="545.7" y="184.7" font-size="4.70" fill="#111" text-anchor="start" font-weight="normal" stroke="#111" stroke-width="0.15">LDHB</text>
<text x="570.2" y="189.0" font-size="4.70" fill="#111" text-anchor="start" font-weight="normal" stroke="#111" stroke-width="0.15">GAPDH</text>
<text x="537.2" y="193.2" font-size="4.70" fill="#111" text-anchor="start" font-weight="normal" stroke="#111" stroke-width="0.15">TUBA1B</text>
<text x="542.3" y="198.3" font-size="4.70" fill="#111" text-anchor="start" font-weight="normal" stroke="#111" stroke-width="0.15">ENO1</text>
<text x="570.7" y="196.9" font-size="4.70" fill="#111" text-anchor="start" font-weight="normal" stroke="#111" stroke-width="0.15">HNRNPA2B1</text>
<text x="533.3" y="205.4" font-size="4.70" fill="#111" text-anchor="start" font-weight="normal" stroke="#111" stroke-width="0.15">HSPD1</text>
<text x="564.5" y="204.3" font-size="4.70" fill="#111" text-anchor="start" font-weight="normal" stroke="#111" stroke-width="0.15">RAN</text>
<text x="558.0" y="209.7" font-size="4.70" fill="#111" text-anchor="start" font-weight="normal" stroke="#111" stroke-width="0.15">HNRNPDL</text>
<text x="550.0" y="250.9" font-size="4.70" fill="#111" text-anchor="start" font-weight="normal" stroke="#111" stroke-width="0.15">HESX1</text>
<text x="568.5" y="249.2" font-size="4.70" fill="#111" text-anchor="start" font-weight="normal" stroke="#111" stroke-width="0.15">IDO1</text>
<text x="590.6" y="248.3" font-size="4.70" fill="#111" text-anchor="start" font-weight="normal" stroke="#111" stroke-width="0.15">ZDHHC17</text>
<text x="616.2" y="252.3" font-size="4.70" fill="#111" text-anchor="start" font-weight="normal" stroke="#111" stroke-width="0.15">FNIP2</text>
<text x="555.1" y="255.7" font-size="4.70" fill="#111" text-anchor="start" font-weight="normal" stroke="#111" stroke-width="0.15">FAM150B</text>
<text x="582.7" y="253.7" font-size="4.70" fill="#111" text-anchor="start" font-weight="normal" stroke="#111" stroke-width="0.15">SHROOM2</text>
<text x="609.1" y="258.8" font-size="4.70" fill="#111" text-anchor="start" font-weight="normal" stroke="#111" stroke-width="0.15">ZNF888</text>
<text x="534.7" y="261.4" font-size="4.70" fill="#111" text-anchor="start" font-weight="normal" stroke="#111" stroke-width="0.15">TCERG1L</text>
<text x="567.9" y="260.8" font-size="4.70" fill="#111" text-anchor="start" font-weight="normal" stroke="#111" stroke-width="0.15">HHEX</text>
<text x="589.2" y="263.7" font-size="4.70" fill="#111" text-anchor="start" font-weight="normal" stroke="#111" stroke-width="0.15">MCOLN3</text>
<text x="519.6" y="265.1" font-size="4.70" fill="#111" text-anchor="start" font-weight="normal" stroke="#111" stroke-width="0.15">GLUD2</text>
<text x="560.8" y="265.6" font-size="4.70" fill="#111" text-anchor="start" font-weight="normal" stroke="#111" stroke-width="0.15">IFI6</text>
<text x="571.6" y="267.9" font-size="4.70" fill="#111" text-anchor="start" font-weight="normal" stroke="#111" stroke-width="0.15">NR5A2</text>
<text x="613.3" y="267.3" font-size="4.70" fill="#111" text-anchor="start" font-weight="normal" stroke="#111" stroke-width="0.15">ARSB</text>
<text x="540.1" y="269.3" font-size="4.70" fill="#111" text-anchor="start" font-weight="normal" stroke="#111" stroke-width="0.15">KIAA16</text>
<text x="521.9" y="274.2" font-size="4.70" fill="#111" text-anchor="start" font-weight="normal" stroke="#111" stroke-width="0.15">ATAD3C</text>
<text x="543.8" y="276.4" font-size="4.70" fill="#111" text-anchor="start" font-weight="normal" stroke="#111" stroke-width="0.15">ETV7</text>
<text x="566.5" y="274.4" font-size="4.70" fill="#111" text-anchor="start" font-weight="normal" stroke="#111" stroke-width="0.15">STR8A1</text>
<line x1="561.0" y1="186.0" x2="568.0" y2="187.0" stroke="#333" stroke-width="0.45"/>
<line x1="561.0" y1="198.0" x2="569.0" y2="196.5" stroke="#333" stroke-width="0.45"/>
<line x1="550.0" y1="203.5" x2="557.0" y2="203.0" stroke="#333" stroke-width="0.45"/>
<line x1="577.0" y1="255.0" x2="600.0" y2="255.0" stroke="#333" stroke-width="0.45"/>
<line x1="586.0" y1="258.5" x2="608.0" y2="258.5" stroke="#333" stroke-width="0.45"/>
<text x="723.2" y="163.3" font-size="7.45" fill="#000" text-anchor="middle" font-weight="bold">Subpopulation 4 vs</text>
<text x="723.2" y="170.7" font-size="7.45" fill="#000" text-anchor="middle" font-weight="bold">Subpopulations 1,2 and 3</text>
<path d="M709.7 266.2h0M722.8 252.8h0M721.3 266.8h0M710.8 267.6h0M723.4 253.9h0M701.5 264.6h0M694.7 267.7h0M734.4 267.0h0M721.8 248.9h0M727.2 261.9h0M711.9 260.7h0M699.5 265.4h0M716.0 251.1h0M714.2 263.1h0M704.1 267.1h0M725.0 259.8h0M709.9 253.2h0M709.0 263.1h0M702.5 266.4h0M703.7 264.5h0M711.5 259.8h0M730.3 264.9h0M719.9 256.7h0M735.4 265.7h0M734.6 266.4h0M701.2 267.0h0M729.6 266.8h0M705.6 260.4h0M695.3 266.6h0M710.3 264.4h0M735.3 264.6h0M702.1 267.3h0M717.6 266.3h0M735.3 266.7h0M706.8 267.4h0M714.6 256.1h0M698.2 266.1h0M715.7 250.0h0M734.1 263.8h0M712.3 261.5h0M721.3 259.4h0M713.1 263.1h0M699.2 267.6h0M721.2 248.7h0M736.9 267.2h0M701.7 267.5h0M697.2 266.1h0M708.1 263.3h0M701.3 264.8h0M701.1 263.8h0M693.5 266.2h0M711.0 260.5h0M715.2 262.8h0M734.0 265.4h0M717.1 248.4h0M722.4 251.3h0M697.8 267.2h0M702.1 265.3h0M704.3 261.3h0M701.9 266.0h0M710.8 262.7h0M724.6 259.6h0M728.5 264.0h0M730.3 260.7h0M710.7 252.6h0M734.5 266.9h0M717.4 248.3h0M702.8 262.9h0M706.2 260.0h0M709.5 254.2h0M732.2 265.4h0M693.0 266.8h0M718.1 261.3h0M733.9 265.9h0M716.4 262.9h0M725.6 259.6h0M699.1 265.1h0M705.0 266.8h0M725.2 261.2h0M728.9 263.4h0M717.6 251.7h0M732.1 266.8h0M697.5 266.8h0M699.4 265.4h0M707.9 263.6h0M696.3 267.4h0M708.9 264.3h0M702.0 266.5h0M725.3 266.0h0M715.3 253.9h0M693.4 266.4h0M726.8 264.6h0M695.1 267.8h0M732.1 267.7h0M720.0 255.1h0M722.3 259.0h0M712.9 259.0h0M726.7 266.5h0M704.6 264.1h0M711.3 257.4h0M710.2 252.8h0M702.1 263.2h0M693.2 266.4h0M697.1 267.3h0M711.7 251.8h0M698.4 266.5h0M728.3 262.3h0M725.2 251.8h0M728.8 265.2h0M707.2 261.8h0M726.4 253.9h0M730.9 261.6h0M720.1 252.4h0M731.9 262.5h0M700.2 267.1h0M710.9 252.0h0M706.7 259.5h0M705.8 261.4h0M732.0 261.2h0M718.3 254.5h0M700.1 264.9h0M702.0 267.3h0M731.5 264.1h0M713.4 264.1h0M734.3 264.8h0M731.6 265.1h0M714.2 257.3h0M696.6 267.9h0M719.4 260.0h0M730.6 261.5h0M722.7 256.8h0M703.4 264.2h0M722.6 262.9h0M713.5 266.5h0M722.9 259.6h0M702.3 264.2h0M728.6 265.5h0M692.8 266.8h0M735.6 267.6h0M728.8 261.4h0M724.4 267.7h0M710.4 267.3h0M735.4 264.2h0M724.7 257.9h0M727.5 266.3h0M737.1 266.8h0M711.9 267.7h0M696.1 266.2h0M701.3 265.7h0M725.3 256.3h0M712.5 255.0h0M730.3 266.1h0M709.9 259.2h0M723.8 257.7h0M693.9 267.5h0M708.6 256.5h0M720.4 262.1h0M718.1 261.3h0M736.3 265.7h0M732.3 265.4h0M698.4 265.8h0M700.6 264.5h0M727.2 256.6h0M718.4 253.5h0M693.7 267.4h0M697.9 267.8h0M716.6 266.5h0M714.9 264.6h0M701.0 264.6h0M737.2 266.2h0M720.3 264.0h0M711.7 252.2h0M695.7 267.2h0M703.4 266.5h0M699.3 265.6h0M707.8 256.1h0M707.0 260.2h0M709.0 257.4h0M695.2 266.1h0M703.7 263.0h0M707.1 267.7h0M716.9 265.1h0M727.9 265.3h0M694.7 266.9h0M719.0 253.6h0M724.8 267.1h0M733.5 263.6h0M726.3 267.8h0M705.6 266.1h0M732.4 266.2h0M710.4 264.6h0M725.6 266.1h0M713.5 252.8h0M708.8 264.9h0M715.7 263.8h0M725.4 255.1h0M703.1 267.6h0M709.3 267.8h0M730.9 260.3h0M719.3 256.3h0M719.1 259.9h0M716.9 254.2h0M730.9 265.6h0M699.1 266.6h0M694.7 267.4h0M715.6 249.3h0M719.1 245.9h0M728.0 256.2h0M732.4 265.9h0M700.6 265.2h0M725.9 261.8h0M729.6 261.7h0M729.5 267.9h0M730.5 260.4h0M703.0 262.9h0M704.4 261.6h0M730.2 260.6h0M696.8 267.5h0M717.3 262.6h0M709.7 253.7h0M733.8 267.1h0M700.1 265.1h0M718.2 267.7h0M736.0 267.3h0M696.3 266.2h0M729.9 267.0h0M718.6 246.8h0M737.6 265.6h0M730.5 259.9h0M710.5 256.5h0M731.2 261.7h0M719.5 249.3h0M726.8 255.2h0M733.5 263.4h0M700.9 266.5h0M714.8 267.9h0M705.3 260.5h0M736.6 266.4h0M715.9 265.5h0M716.8 247.1h0M706.4 261.4h0M729.4 263.4h0M712.0 255.0h0M700.5 266.6h0M702.9 267.6h0M703.5 262.6h0M726.4 262.1h0M697.6 266.7h0M705.4 262.5h0M731.3 265.2h0M707.3 258.7h0M731.3 262.7h0M707.6 257.0h0M695.3 266.1h0M725.2 266.9h0M700.1 265.0h0M734.8 267.5h0M720.5 249.4h0M722.7 249.8h0M732.2 266.8h0M696.3 266.2h0M703.6 262.2h0M735.8 266.6h0M727.2 265.2h0M715.6 265.2h0M720.9 264.9h0M711.7 267.5h0M736.8 266.1h0M707.8 265.2h0M728.0 262.0h0M718.1 267.0h0M709.0 261.5h0M730.5 266.2h0M694.7 266.9h0M702.3 267.7h0M697.4 266.8h0M711.8 263.2h0M724.4 267.1h0M705.8 263.4h0M703.5 261.7h0M707.8 262.5h0M735.5 266.0h0M703.0 265.1h0M737.4 265.7h0M706.5 267.2h0M734.4 266.6h0M696.1 267.1h0M727.0 263.0h0M728.8 257.9h0M722.9 251.0h0M719.1 266.0h0M723.1 263.1h0M729.1 258.6h0M713.6 253.8h0M694.7 266.9h0M722.3 249.7h0M695.6 267.6h0M726.9 259.6h0M712.8 249.3h0M695.7 266.3h0M697.5 267.4h0M722.3 266.9h0M727.1 263.9h0M728.5 261.2h0M704.0 262.4h0M734.1 264.1h0M696.7 267.0h0M695.5 267.1h0M705.2 263.5h0M731.8 262.7h0M728.4 267.3h0M714.4 259.2h0M725.3 253.8h0M692.8 266.3h0M707.4 267.6h0M720.5 256.4h0M736.0 265.2h0M713.7 252.2h0M732.8 264.9h0M706.9 261.0h0M731.0 262.3h0M720.5 264.4h0M725.5 258.5h0M725.2 260.5h0M694.2 267.5h0M719.3 264.5h0M707.2 263.4h0M698.9 267.1h0M712.8 250.4h0M725.0 266.3h0M710.2 255.4h0M692.4 266.6h0M725.0 263.8h0M693.1 267.4h0M707.3 260.4h0M695.9 267.6h0M725.1 267.3h0M719.4 259.7h0M707.6 263.1h0M707.9 258.3h0M733.9 265.1h0M723.5 252.3h0M697.4 266.9h0M693.7 266.5h0M733.0 267.1h0M711.6 257.0h0M716.6 266.7h0M711.0 262.3h0M719.8 248.3h0M696.0 266.9h0M713.4 260.3h0M701.2 266.0h0M697.8 266.3h0M705.8 259.9h0M703.5 266.6h0M701.0 264.9h0M730.5 260.6h0M715.8 253.9h0M708.6 260.9h0M697.6 265.9h0M711.7 259.4h0M697.1 266.8h0M701.3 263.5h0M695.8 267.3h0M696.0 267.6h0M715.2 266.5h0M721.2 255.3h0M727.2 263.4h0M721.2 260.9h0M723.6 249.8h0M700.5 265.3h0M728.6 265.2h0M694.7 267.0h0M715.6 254.6h0M726.9 263.4h0M729.0 260.4h0M703.5 266.4h0M713.0 251.3h0M732.1 264.4h0M716.4 256.9h0M726.3 267.6h0M724.5 259.1h0M718.0 248.7h0M697.3 266.8h0M735.6 267.0h0M720.4 261.9h0M727.2 259.6h0M698.8 267.5h0M708.2 262.4h0M728.6 257.5h0M717.5 265.9h0M713.2 249.4h0M696.0 267.1h0M704.5 263.0h0M702.0 267.7h0M700.9 265.8h0M711.6 253.2h0M702.1 264.6h0M734.4 267.8h0M714.7 263.5h0M709.9 264.0h0M726.8 264.4h0M737.0 267.3h0M705.8 262.1h0M698.1 267.5h0M707.6 260.2h0M729.7 262.3h0M705.4 263.0h0M737.0 266.9h0M697.6 267.8h0M713.0 249.6h0M735.1 265.1h0M703.0 265.7h0M702.1 265.7h0M727.4 267.5h0M716.1 263.2h0M720.5 250.9h0M727.1 263.3h0M733.1 267.9h0M705.8 266.6h0M723.4 259.0h0M719.7 266.7h0M697.1 266.3h0M721.8 249.1h0M712.1 257.0h0M711.9 252.2h0M705.8 263.4h0M728.1 263.6h0M712.1 266.1h0M736.0 266.2h0M713.8 264.6h0M711.0 262.0h0M700.9 266.4h0M708.5 259.6h0M695.8 266.1h0M730.7 267.8h0M713.0 253.7h0M694.3 266.3h0M736.3 267.7h0M707.1 257.3h0M705.3 261.6h0M728.8 267.9h0M714.1 261.1h0M729.8 267.2h0M722.8 267.5h0M720.0 257.5h0M734.5 263.5h0M729.7 261.3h0M709.5 259.3h0M711.7 254.8h0M736.7 265.9h0M699.1 266.2h0M716.5 247.9h0M707.0 263.6h0M723.9 257.1h0M714.8 255.2h0M702.8 267.4h0M712.2 258.2h0M725.5 261.7h0M707.6 256.7h0M733.6 266.8h0M731.2 265.3h0M694.8 266.4h0M716.3 247.3h0M712.1 267.2h0M710.2 257.1h0M703.0 264.0h0M702.8 264.1h0M693.0 266.6h0M701.7 266.1h0M736.3 267.6h0M695.9 266.1h0M729.3 262.2h0M716.3 257.7h0M721.6 251.1h0M698.6 266.9h0M715.2 264.5h0M697.4 266.5h0M737.0 265.6h0M706.8 264.4h0M737.2 265.7h0M719.5 266.2h0M698.4 265.9h0M709.1 258.7h0M699.9 265.5h0M715.7 265.5h0M698.3 267.3h0M710.3 259.5h0M735.3 267.2h0M701.2 265.6h0M702.5 267.9h0M715.4 259.0h0M722.0 257.6h0M695.8 267.1h0M696.6 267.8h0M731.3 261.1h0M735.8 265.3h0M720.2 257.0h0M716.2 260.9h0M732.0 264.8h0M733.8 266.1h0M703.8 263.6h0M724.3 259.5h0M702.4 267.5h0M721.1 265.1h0M730.8 264.2h0M725.2 263.6h0M733.6 266.7h0M737.4 267.8h0M725.8 263.4h0M735.0 265.5h0M725.7 259.5h0M727.2 264.2h0M709.6 258.2h0M695.2 267.4h0M701.4 267.1h0M703.9 267.8h0M717.7 258.5h0M726.0 253.6h0M719.5 253.4h0M733.0 262.4h0M712.5 251.7h0M711.8 259.7h0M704.0 262.7h0M703.9 265.8h0M712.6 267.6h0M729.6 267.9h0M698.5 265.5h0M727.5 267.7h0M702.4 265.7h0M693.3 267.5h0M708.1 255.8h0M694.8 266.6h0M702.0 264.8h0M693.0 266.5h0M734.3 267.6h0M736.5 265.2h0M706.4 263.1h0M692.7 267.6h0M695.0 267.3h0M703.8 267.5h0M695.3 267.6h0M695.1 267.7h0M730.4 264.3h0M696.4 266.2h0M700.2 267.1h0M694.4 266.4h0M712.7 256.9h0M715.6 249.3h0M733.3 263.6h0M716.6 252.4h0M702.3 263.4h0M715.9 267.4h0M707.4 257.1h0M705.7 266.9h0M737.1 266.7h0M718.5 259.8h0M704.2 265.6h0M734.7 265.8h0M724.7 257.6h0M703.6 262.0h0M734.0 267.3h0M694.6 266.6h0M699.3 265.2h0M714.5 257.1h0M704.9 263.4h0M706.6 267.8h0M716.7 248.4h0M722.6 258.8h0M730.9 267.5h0M702.1 266.1h0M693.5 267.8h0M728.7 262.8h0M722.1 264.2h0M733.7 263.2h0M707.8 265.6h0M708.1 264.4h0M709.8 257.7h0M727.2 256.1h0M720.3 250.1h0M721.8 266.3h0M700.3 267.1h0M697.3 267.3h0M722.8 253.5h0M712.8 257.5h0M721.5 253.7h0M711.9 261.4h0M716.1 255.1h0M698.6 266.6h0M715.2 251.6h0M705.4 259.7h0M725.2 257.9h0M715.2 264.3h0M707.9 264.2h0M714.0 266.4h0M693.4 266.1h0M692.8 267.4h0M710.7 251.8h0M707.9 264.4h0M714.4 254.8h0M732.1 263.4h0M695.9 266.2h0M733.6 267.4h0M729.6 259.1h0M730.6 260.1h0M706.4 261.6h0M727.7 257.7h0M719.8 248.5h0M722.4 260.3h0M735.3 266.4h0M697.2 265.9h0M709.3 256.7h0M732.6 263.2h0M723.7 262.0h0M715.5 259.4h0M729.1 264.7h0M712.4 253.5h0M697.6 266.1h0M717.5 252.7h0M723.3 263.4h0M732.7 264.2h0M708.6 266.5h0M701.8 267.8h0M705.6 266.7h0M693.8 267.8h0M697.1 267.5h0M696.8 267.3h0M697.3 267.6h0M718.8 259.5h0M723.4 263.6h0M722.0 262.2h0M711.9 263.4h0M696.6 265.9h0M704.1 267.9h0M720.4 266.7h0M697.1 267.4h0M701.6 266.2h0M707.6 264.3h0M727.7 263.2h0M733.2 264.1h0M732.5 265.3h0M707.7 261.0h0M737.7 267.7h0M723.3 252.5h0M717.5 265.1h0M737.7 267.1h0M734.2 265.7h0M697.8 266.6h0M705.8 265.1h0M732.8 262.6h0M718.5 253.2h0M722.6 259.1h0M727.2 260.0h0M737.4 265.8h0M732.6 267.7h0M713.6 264.9h0M706.3 267.2h0M731.8 264.8h0M717.7 249.3h0M727.3 256.7h0M694.1 267.7h0M713.9 256.0h0M737.1 266.9h0M698.7 267.2h0M698.1 266.0h0M717.2 262.3h0M726.7 262.6h0M701.4 267.6h0M727.7 257.6h0M724.6 251.7h0M736.1 267.9h0M698.5 266.5h0M715.8 260.2h0M702.2 266.5h0M736.6 266.4h0M711.5 255.0h0M725.6 255.5h0M728.0 264.2h0M703.5 264.7h0M725.9 263.9h0M733.5 267.3h0M703.0 265.6h0M700.5 267.4h0M706.6 267.8h0M719.7 255.8h0M698.9 265.7h0M711.1 258.7h0M732.5 264.8h0M697.4 267.2h0M699.4 265.1h0M703.2 267.5h0M712.9 261.5h0M727.9 267.7h0M702.6 266.2h0M697.3 266.8h0M733.0 262.6h0M719.0 267.7h0M721.3 264.8h0M716.7 254.1h0M735.3 265.8h0M703.9 267.3h0M726.5 262.9h0M706.6 262.3h0M722.9 256.3h0M693.0 266.4h0M722.4 250.7h0M722.7 255.2h0M704.7 265.2h0M734.8 266.6h0M733.7 266.6h0M713.1 249.1h0M721.4 257.1h0M692.9 267.2h0M698.4 266.4h0M736.8 267.2h0M734.6 263.9h0M700.3 264.6h0M724.7 265.1h0M699.0 266.1h0M731.9 265.9h0M727.3 259.7h0M698.2 266.1h0M705.6 266.4h0M713.2 267.2h0M732.1 267.7h0M737.1 265.1h0M732.8 264.4h0M737.2 267.8h0M709.2 261.2h0M699.8 265.6h0M729.5 263.6h0M695.0 267.3h0M731.3 260.5h0M709.9 267.7h0M731.9 263.1h0M694.3 267.0h0M708.9 254.4h0M718.3 247.0h0M711.4 262.0h0M716.4 266.0h0M710.8 262.8h0M700.5 264.7h0M718.4 251.8h0M719.9 263.0h0M705.1 266.4h0M720.9 261.4h0M698.3 265.7h0M698.3 265.3h0M707.3 260.3h0M737.1 267.2h0M732.3 265.8h0M716.7 257.8h0M717.0 252.6h0M727.2 263.0h0M723.9 252.2h0M715.5 257.7h0M713.5 264.3h0M720.0 262.2h0M709.3 254.7h0M705.5 265.0h0M722.3 255.9h0M730.9 266.9h0M704.3 266.6h0M698.9 266.8h0M727.3 257.1h0M701.4 264.7h0M701.0 266.0h0M698.2 267.3h0M729.3 260.7h0M714.8 249.1h0M697.5 267.2h0M723.0 265.5h0M712.7 259.8h0M700.4 266.9h0M704.3 264.0h0M707.8 261.1h0M707.4 259.8h0M732.2 263.9h0M730.3 263.8h0M696.3 266.2h0M701.4 267.6h0M726.3 266.6h0M715.6 258.6h0M694.8 267.1h0M697.6 266.3h0M730.6 264.4h0M717.8 259.1h0M719.5 246.5h0M703.1 264.3h0M693.1 266.2h0M695.0 267.1h0M709.1 260.4h0M703.8 266.7h0M716.3 249.8h0M736.4 266.6h0M703.5 265.9h0M697.8 265.8h0M728.8 266.4h0M733.7 265.4h0M719.3 253.9h0M726.4 264.9h0M708.5 260.7h0M721.0 252.6h0M702.7 266.8h0M723.0 259.8h0M736.6 265.0h0M736.0 264.6h0M732.6 263.0h0M694.8 266.4h0M730.5 266.5h0M697.5 265.8h0M700.3 267.8h0M708.6 263.3h0M706.2 266.1h0M713.1 251.4h0M694.0 267.0h0M735.0 264.6h0M693.7 266.9h0M701.2 267.3h0M731.7 261.4h0M737.6 267.9h0M693.2 267.3h0M709.4 266.4h0M733.9 265.6h0M737.1 267.8h0M713.6 265.8h0M736.5 265.1h0M697.7 267.1h0M736.5 266.1h0M710.6 258.1h0M713.8 250.8h0M696.6 266.8h0M733.8 267.8h0M706.5 263.7h0M719.6 249.5h0M717.0 266.0h0M735.7 267.3h0M729.0 266.8h0M697.2 266.5h0M710.5 254.3h0M695.2 267.7h0M696.2 267.1h0M700.0 267.4h0M713.0 252.8h0M728.3 263.3h0M708.2 264.7h0M723.8 261.2h0M724.4 265.9h0M702.6 264.9h0M692.7 266.3h0M730.5 264.3h0M697.0 267.1h0M708.1 263.5h0M712.2 265.3h0M695.2 267.8h0M698.9 267.4h0M711.3 265.4h0M699.1 266.2h0M718.1 261.7h0M724.4 258.7h0M701.8 263.7h0M718.3 264.8h0M715.0 266.9h0M706.4 259.1h0M710.2 260.1h0M693.9 267.1h0M732.0 261.8h0M713.3 248.5h0M736.7 267.6h0M729.6 265.6h0M719.8 257.4h0M702.5 266.9h0M737.1 265.5h0M711.1 254.1h0M724.1 261.3h0M729.4 259.6h0M707.8 256.9h0M708.6 265.1h0M732.8 263.2h0M702.4 265.1h0M699.6 265.4h0M697.3 265.7h0M733.4 266.0h0M733.7 265.6h0M720.0 248.0h0M693.5 267.9h0M706.6 262.4h0M725.8 264.9h0M695.6 267.9h0M692.6 267.5h0M735.2 266.3h0M704.5 266.6h0M712.4 263.4h0M702.1 265.6h0M711.4 251.0h0M711.6 267.2h0M695.1 266.6h0M716.3 254.8h0M735.9 266.9h0M700.5 266.3h0M727.8 244.8h0M729.8 251.2h0M735.0 254.2h0M737.0 260.6h0M707.9 248.9h0M740.9 263.5h0M694.8 263.5h0M731.4 248.3h0" stroke="#C8C8C8" stroke-width="2.40" stroke-linecap="round" fill="none"/>
<path d="M686.9 266.5h0M680.4 266.7h0M676.1 267.0h0M674.5 266.9h0M684.1 266.9h0M685.3 267.3h0M684.2 266.8h0M685.4 266.9h0M676.1 267.1h0M683.0 267.2h0M687.2 266.8h0M687.6 267.1h0M679.5 266.7h0M687.2 267.5h0M685.7 266.5h0M677.2 267.2h0M672.7 266.8h0M678.2 267.1h0M674.3 266.6h0M671.6 266.5h0M673.2 267.1h0M675.4 267.5h0M672.1 267.5h0M671.3 267.3h0M676.2 266.9h0M686.1 267.0h0M685.4 267.1h0M685.0 267.3h0M677.4 267.3h0M677.3 267.0h0M687.4 266.7h0M677.8 267.3h0M683.2 266.8h0M687.2 266.5h0M672.2 266.5h0M672.5 267.2h0M676.1 267.3h0M677.4 267.3h0M679.0 267.3h0M679.8 266.4h0M671.9 267.5h0M673.6 267.3h0M687.0 266.6h0M678.9 266.4h0M671.7 267.5h0M674.0 266.6h0M684.6 267.2h0M685.9 267.1h0M680.9 266.7h0M683.6 266.9h0M676.6 267.4h0M677.9 266.5h0M687.6 266.6h0M683.1 267.6h0M679.1 266.4h0M679.5 266.8h0M681.1 266.9h0M681.9 267.0h0M677.9 266.5h0M677.3 266.9h0M686.9 267.2h0M673.2 267.6h0M672.8 267.3h0M679.1 267.6h0M686.1 266.9h0M681.7 266.5h0M675.9 267.1h0M687.0 266.5h0M684.2 267.3h0M686.0 267.6h0M672.9 266.9h0M671.7 267.4h0M687.3 267.2h0M673.2 266.6h0M673.9 266.6h0M677.3 267.3h0M684.7 267.3h0M687.1 267.5h0M672.0 267.4h0M686.8 267.3h0M675.0 267.2h0M671.4 266.9h0M677.9 266.6h0M685.1 267.0h0M681.1 266.5h0M677.0 266.5h0M679.9 267.5h0M673.9 266.7h0M687.5 267.6h0M673.4 266.7h0M757.5 267.4h0M748.9 266.9h0M752.6 267.1h0M752.6 266.5h0M758.5 267.2h0M760.1 267.3h0M747.8 267.1h0M757.5 267.5h0M758.9 266.7h0M750.8 267.1h0M755.8 266.7h0M753.0 267.5h0M750.2 267.2h0M750.4 266.5h0M745.1 266.5h0M749.1 266.7h0M754.4 266.7h0M755.8 267.3h0M753.9 267.2h0M759.7 267.4h0M743.4 267.4h0M742.3 267.5h0M749.4 266.9h0M750.1 267.5h0M744.1 267.5h0M753.2 267.3h0M751.9 267.2h0M757.9 267.0h0M745.9 266.7h0M750.8 266.9h0M759.0 267.5h0M748.2 267.2h0M747.2 267.5h0M748.5 266.7h0M760.1 266.6h0M758.0 267.4h0M742.8 266.9h0M759.9 267.5h0M750.2 267.2h0M756.4 266.7h0M756.0 266.7h0M742.1 266.8h0M757.7 267.2h0M742.4 266.6h0M758.5 267.6h0M752.2 267.2h0M755.0 267.0h0M757.7 266.6h0M745.4 266.9h0M744.5 267.5h0M754.6 267.1h0M758.5 266.5h0M757.0 267.0h0M744.3 267.2h0M741.9 267.0h0M756.6 267.5h0M759.6 267.6h0M759.9 267.2h0M746.6 266.5h0M750.6 267.0h0M759.1 266.4h0M742.2 266.8h0M743.5 266.9h0M749.3 266.7h0M755.2 266.8h0M757.2 267.1h0M747.5 267.5h0M749.5 266.7h0M742.3 267.3h0M760.3 267.2h0M759.7 266.8h0M745.4 267.3h0M756.8 266.8h0M747.1 267.0h0M754.8 266.8h0M757.2 267.1h0M759.2 266.8h0M752.5 266.5h0M752.7 267.0h0M742.7 267.5h0M758.4 267.0h0M748.9 267.4h0M744.8 267.1h0M750.6 266.8h0M744.3 267.3h0M748.7 267.5h0M752.6 266.6h0M758.6 266.8h0M745.9 266.5h0M752.7 266.6h0" stroke="#8A154F" stroke-width="2.60" stroke-linecap="round" fill="none"/>
<path d="M695.6 266.6h0M700.4 265.1h0M702.8 264.4h0M705.2 265.6h0M706.8 264.7h0M716.3 267.0h0M717.9 264.9h0M719.5 267.0h0M721.9 266.6h0M724.2 267.0h0M715.5 264.7h0M727.8 260.9h0M731.0 267.4h0M733.0 267.4h0M725.0 266.4h0M698.0 267.0h0" stroke="#C8902A" stroke-width="2.50" stroke-linecap="round" fill="none"/>
<path d="M720.0 181.5h0M719.1 186.4h0M707.2 208.6h0M720.4 208.2h0M714.7 211.5h0M711.5 218.5h0M708.7 220.3h0M719.1 223.8h0M710.1 228.7h0M716.3 229.9h0M709.5 231.7h0M713.9 234.9h0M721.5 240.1h0M723.5 240.1h0M701.6 243.4h0M733.4 243.4h0M731.0 244.2h0M709.5 241.3h0M711.5 240.1h0M717.9 236.6h0M712.3 231.4h0M712.3 246.4h0M711.7 246.5h0M717.2 242.5h0M721.7 240.9h0M716.7 246.6h0M722.1 243.2h0M710.4 241.4h0M722.2 246.4h0M719.0 241.8h0M709.9 245.3h0M711.5 243.1h0M716.3 244.8h0M719.3 237.8h0M710.2 244.0h0M713.1 242.4h0M714.9 239.7h0M715.3 245.9h0M720.3 245.1h0M715.3 238.7h0M715.0 246.0h0M715.6 246.2h0M717.3 246.6h0M712.3 238.1h0M717.8 243.3h0M722.0 246.2h0M713.5 245.2h0M720.1 244.0h0M710.4 244.6h0M710.7 246.2h0M715.4 236.6h0M714.5 241.5h0M716.5 242.7h0M721.1 245.8h0M711.8 245.5h0" stroke="#17793B" stroke-width="2.70" stroke-linecap="round" fill="none"/>
<path d="M667.8 173.2V278.7H779.5" stroke="#707070" stroke-width="1.3" fill="none"/>
<line x1="667.8" y1="278.7" x2="667.8" y2="276.2" stroke="#707070" stroke-width="0.80"/>
<text x="667.8" y="286.7" font-size="6.40" fill="#1c1c1c" text-anchor="middle" font-weight="normal" stroke="#1c1c1c" stroke-width="0.22">−6</text>
<line x1="683.7" y1="278.7" x2="683.7" y2="276.2" stroke="#707070" stroke-width="0.80"/>
<text x="683.7" y="286.7" font-size="6.40" fill="#1c1c1c" text-anchor="middle" font-weight="normal" stroke="#1c1c1c" stroke-width="0.22">−4</text>
<line x1="699.6" y1="278.7" x2="699.6" y2="276.2" stroke="#707070" stroke-width="0.80"/>
<text x="699.6" y="286.7" font-size="6.40" fill="#1c1c1c" text-anchor="middle" font-weight="normal" stroke="#1c1c1c" stroke-width="0.22">−2</text>
<line x1="715.5" y1="278.7" x2="715.5" y2="276.2" stroke="#707070" stroke-width="0.80"/>
<text x="715.5" y="286.7" font-size="6.40" fill="#1c1c1c" text-anchor="middle" font-weight="normal" stroke="#1c1c1c" stroke-width="0.22">0</text>
<line x1="731.4" y1="278.7" x2="731.4" y2="276.2" stroke="#707070" stroke-width="0.80"/>
<text x="731.4" y="286.7" font-size="6.40" fill="#1c1c1c" text-anchor="middle" font-weight="normal" stroke="#1c1c1c" stroke-width="0.22">2</text>
<line x1="747.3" y1="278.7" x2="747.3" y2="276.2" stroke="#707070" stroke-width="0.80"/>
<text x="747.3" y="286.7" font-size="6.40" fill="#1c1c1c" text-anchor="middle" font-weight="normal" stroke="#1c1c1c" stroke-width="0.22">4</text>
<line x1="763.2" y1="278.7" x2="763.2" y2="276.2" stroke="#707070" stroke-width="0.80"/>
<text x="763.2" y="286.7" font-size="6.40" fill="#1c1c1c" text-anchor="middle" font-weight="normal" stroke="#1c1c1c" stroke-width="0.22">6</text>
<line x1="779.1" y1="278.7" x2="779.1" y2="276.2" stroke="#707070" stroke-width="0.80"/>
<text x="779.1" y="286.7" font-size="6.40" fill="#1c1c1c" text-anchor="middle" font-weight="normal" stroke="#1c1c1c" stroke-width="0.22">8</text>
<line x1="667.8" y1="278.7" x2="670.9" y2="278.7" stroke="#707070" stroke-width="0.80"/>
<text x="665.0" y="281.0" font-size="6.40" fill="#1c1c1c" text-anchor="end" font-weight="normal" stroke="#1c1c1c" stroke-width="0.22">−10</text>
<line x1="667.8" y1="267.0" x2="670.9" y2="267.0" stroke="#707070" stroke-width="0.80"/>
<text x="665.0" y="269.3" font-size="6.40" fill="#1c1c1c" text-anchor="end" font-weight="normal" stroke="#1c1c1c" stroke-width="0.22">0</text>
<line x1="667.8" y1="255.3" x2="670.9" y2="255.3" stroke="#707070" stroke-width="0.80"/>
<text x="665.0" y="257.6" font-size="6.40" fill="#1c1c1c" text-anchor="end" font-weight="normal" stroke="#1c1c1c" stroke-width="0.22">10</text>
<line x1="667.8" y1="243.7" x2="670.9" y2="243.7" stroke="#707070" stroke-width="0.80"/>
<text x="665.0" y="246.0" font-size="6.40" fill="#1c1c1c" text-anchor="end" font-weight="normal" stroke="#1c1c1c" stroke-width="0.22">20</text>
<line x1="667.8" y1="232.0" x2="670.9" y2="232.0" stroke="#707070" stroke-width="0.80"/>
<text x="665.0" y="234.3" font-size="6.40" fill="#1c1c1c" text-anchor="end" font-weight="normal" stroke="#1c1c1c" stroke-width="0.22">30</text>
<line x1="667.8" y1="220.3" x2="670.9" y2="220.3" stroke="#707070" stroke-width="0.80"/>
<text x="665.0" y="222.6" font-size="6.40" fill="#1c1c1c" text-anchor="end" font-weight="normal" stroke="#1c1c1c" stroke-width="0.22">40</text>
<line x1="667.8" y1="208.6" x2="670.9" y2="208.6" stroke="#707070" stroke-width="0.80"/>
<text x="665.0" y="210.9" font-size="6.40" fill="#1c1c1c" text-anchor="end" font-weight="normal" stroke="#1c1c1c" stroke-width="0.22">50</text>
<line x1="667.8" y1="196.9" x2="670.9" y2="196.9" stroke="#707070" stroke-width="0.80"/>
<text x="665.0" y="199.2" font-size="6.40" fill="#1c1c1c" text-anchor="end" font-weight="normal" stroke="#1c1c1c" stroke-width="0.22">60</text>
<line x1="667.8" y1="185.3" x2="670.9" y2="185.3" stroke="#707070" stroke-width="0.80"/>
<text x="665.0" y="187.6" font-size="6.40" fill="#1c1c1c" text-anchor="end" font-weight="normal" stroke="#1c1c1c" stroke-width="0.22">70</text>
<line x1="667.8" y1="173.6" x2="670.9" y2="173.6" stroke="#707070" stroke-width="0.80"/>
<text x="665.0" y="175.9" font-size="6.40" fill="#1c1c1c" text-anchor="end" font-weight="normal" stroke="#1c1c1c" stroke-width="0.22">80</text>
<text x="723.5" y="295.5" font-size="6.50" fill="#000" text-anchor="middle" font-weight="bold">log2FoldChange</text>
<text x="649.4" y="225.6" font-size="6.50" fill="#000" text-anchor="middle" font-weight="bold" transform="rotate(-90.0 649.4 225.6)">-log10(P-value)</text>
<text x="701.0" y="180.7" font-size="4.70" fill="#111" text-anchor="start" font-weight="normal" stroke="#111" stroke-width="0.15">TRMT12</text>
<text x="720.4" y="190.4" font-size="4.70" fill="#111" text-anchor="start" font-weight="normal" stroke="#111" stroke-width="0.15">HSF2</text>
<text x="721.8" y="206.9" font-size="4.70" fill="#111" text-anchor="start" font-weight="normal" stroke="#111" stroke-width="0.15">KLHL2</text>
<text x="686.8" y="212.5" font-size="4.70" fill="#111" text-anchor="start" font-weight="normal" stroke="#111" stroke-width="0.15">NMNAT1</text>
<text x="716.7" y="215.7" font-size="4.70" fill="#111" text-anchor="start" font-weight="normal" stroke="#111" stroke-width="0.15">SUPT7L</text>
<text x="693.9" y="260.5" font-size="4.70" fill="#111" text-anchor="start" font-weight="normal" stroke="#111" stroke-width="0.15">ZNF571-AS1</text>
<text x="762.1" y="258.0" font-size="4.70" fill="#111" text-anchor="start" font-weight="normal" stroke="#111" stroke-width="0.15">LPCAT1</text>
<text x="745.1" y="262.8" font-size="4.70" fill="#111" text-anchor="start" font-weight="normal" stroke="#111" stroke-width="0.15">PDGFA</text>
<text x="669.2" y="265.6" font-size="4.70" fill="#111" text-anchor="start" font-weight="normal" stroke="#111" stroke-width="0.15">TCERG1L</text>
<text x="726.6" y="267.3" font-size="4.70" fill="#111" text-anchor="start" font-weight="normal" stroke="#111" stroke-width="0.15">NPTX2</text>
<text x="687.7" y="272.2" font-size="4.70" fill="#111" text-anchor="start" font-weight="normal" stroke="#111" stroke-width="0.15">RP11-738I22.3</text>
<text x="764.4" y="271.9" font-size="4.70" fill="#111" text-anchor="start" font-weight="normal" stroke="#111" stroke-width="0.15">PXDN</text>
<text x="673.5" y="276.4" font-size="4.70" fill="#111" text-anchor="start" font-weight="normal" stroke="#111" stroke-width="0.15">LCFZ0065.1</text>
<text x="738.0" y="276.4" font-size="4.70" fill="#111" text-anchor="start" font-weight="normal" stroke="#111" stroke-width="0.15">GANAB</text>
<line x1="751.0" y1="264.0" x2="760.0" y2="258.5" stroke="#333" stroke-width="0.45"/>
<line x1="753.0" y1="268.5" x2="762.0" y2="270.0" stroke="#333" stroke-width="0.45"/>
<text x="465.0" y="319.0" font-size="11.50" fill="#000" text-anchor="start" font-weight="normal">d)</text>
<line x1="514.0" y1="316.0" x2="514.0" y2="473.7" stroke="#d0d0d0" stroke-width="1.00"/>
<line x1="511.0" y1="316.0" x2="514.0" y2="316.0" stroke="#d0d0d0" stroke-width="1.00"/>
<text x="507.8" y="316.0" font-size="9.10" fill="#111" text-anchor="middle" font-weight="normal" transform="rotate(-90.0 507.8 316.0)">2500</text>
<line x1="511.0" y1="355.3" x2="514.0" y2="355.3" stroke="#d0d0d0" stroke-width="1.00"/>
<text x="507.8" y="355.3" font-size="9.10" fill="#111" text-anchor="middle" font-weight="normal" transform="rotate(-90.0 507.8 355.3)">2000</text>
<line x1="511.0" y1="394.6" x2="514.0" y2="394.6" stroke="#d0d0d0" stroke-width="1.00"/>
<text x="507.8" y="394.6" font-size="9.10" fill="#111" text-anchor="middle" font-weight="normal" transform="rotate(-90.0 507.8 394.6)">1500</text>
<line x1="511.0" y1="434.4" x2="514.0" y2="434.4" stroke="#d0d0d0" stroke-width="1.00"/>
<text x="507.8" y="434.4" font-size="9.10" fill="#111" text-anchor="middle" font-weight="normal" transform="rotate(-90.0 507.8 434.4)">1000</text>
<line x1="511.0" y1="473.7" x2="514.0" y2="473.7" stroke="#d0d0d0" stroke-width="1.00"/>
<text x="507.8" y="473.7" font-size="9.10" fill="#111" text-anchor="middle" font-weight="normal" transform="rotate(-90.0 507.8 473.7)">500</text>
<path d="M524.7 487.5V344.2H569" stroke="#8D6A90" stroke-width="2.1" fill="none" stroke-linecap="butt" stroke-linejoin="miter"/>
<path d="M569 344.2H614.3V435.7H667.8V460" stroke="#000" stroke-width="2.1" fill="none" stroke-linecap="butt" stroke-linejoin="miter"/>
<path d="M560.5 487.5V435.7H614.3" stroke="#E8862B" stroke-width="2.1" fill="none" stroke-linecap="butt" stroke-linejoin="miter"/>
<path d="M645.7 487.5V459.9H667.8" stroke="#1D6A83" stroke-width="2.1" fill="none" stroke-linecap="butt" stroke-linejoin="miter"/>
<path d="M667.8 459.9H690.2V486.4" stroke="#E2B728" stroke-width="2.1" fill="none" stroke-linecap="butt" stroke-linejoin="miter"/>
<text x="524.4" y="497.8" font-size="8.70" fill="#111" text-anchor="middle" font-weight="normal">201</text>
<text x="558.5" y="497.8" font-size="8.70" fill="#111" text-anchor="middle" font-weight="normal">8977</text>
<text x="645.2" y="497.8" font-size="8.70" fill="#111" text-anchor="middle" font-weight="normal">526</text>
<text x="688.2" y="496.9" font-size="8.70" fill="#111" text-anchor="middle" font-weight="normal">9083</text>
<rect x="523.1" y="504.3" width="2.3" height="3.8" fill="#8D6A90"/>
<rect x="525.3" y="504.3" width="116.4" height="3.8" fill="#DD7A28"/>
<rect x="641.6" y="504.3" width="6.8" height="3.8" fill="#1D6A83"/>
<rect x="648.3" y="504.3" width="117.1" height="3.8" fill="#D6AD25"/>
<rect x="523.1" y="504.0" width="242.3" height="0.6" fill="#9a9a9a" opacity="0.7"/>
<text x="524.2" y="518.4" font-size="8.20" fill="#111" text-anchor="middle" font-weight="normal">4</text>
<text x="583.5" y="518.4" font-size="8.20" fill="#111" text-anchor="middle" font-weight="normal">2</text>
<text x="644.2" y="518.4" font-size="8.20" fill="#111" text-anchor="middle" font-weight="normal">3</text>
<text x="705.3" y="518.4" font-size="8.20" fill="#111" text-anchor="middle" font-weight="normal">1</text></svg></body></html>
